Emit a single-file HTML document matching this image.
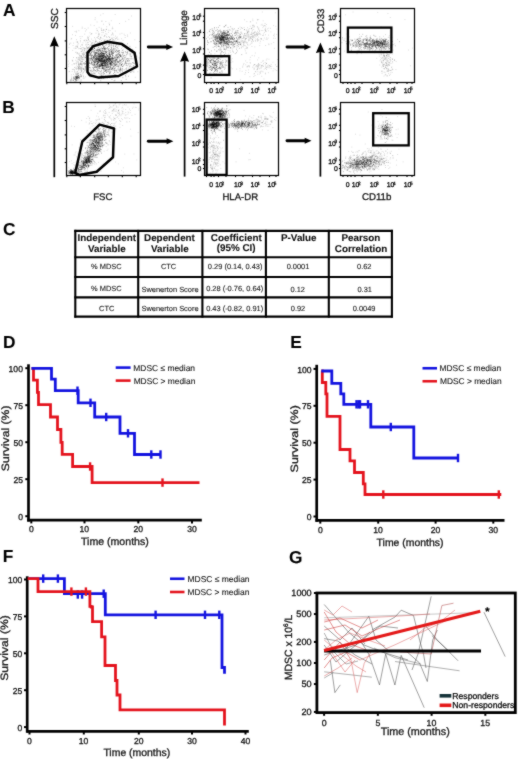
<!DOCTYPE html>
<html><head><meta charset="utf-8"><style>
html,body{margin:0;padding:0;background:#fff;overflow:hidden;}
svg{display:block;}
text{font-family:"Liberation Sans", sans-serif;text-rendering:geometricPrecision;stroke:#111;stroke-width:0.3px;}
</style></head><body>
<svg width="520" height="759" viewBox="0 0 520 759">
<defs><filter id="gb" filterUnits="userSpaceOnUse" x="0" y="0" width="520" height="759" color-interpolation-filters="sRGB"><feConvolveMatrix order="3" kernelMatrix="1 2 1 2 20 2 1 2 1" divisor="32" edgeMode="duplicate"/></filter>
<filter id="bl" color-interpolation-filters="sRGB"><feConvolveMatrix order="3" kernelMatrix="1 2 1 2 4 2 1 2 1" divisor="16" edgeMode="none"/></filter></defs>
<g filter="url(#gb)">
<rect width="520" height="759" fill="#fff"/>
<text x="2.88" y="16" font-size="17.30" font-weight="bold" fill="#000" style="stroke-width:0.1px">A</text>
<text x="2.19" y="113" font-size="17.30" font-weight="bold" fill="#000" style="stroke-width:0.1px">B</text>
<text x="3.11" y="234.5" font-size="17.30" font-weight="bold" fill="#000" style="stroke-width:0.1px">C</text>
<text x="3.09" y="347.9" font-size="17.30" font-weight="bold" fill="#000" style="stroke-width:0.1px">D</text>
<text x="290.34" y="348.2" font-size="17.30" font-weight="bold" fill="#000" style="stroke-width:0.1px">E</text>
<text x="2.84" y="562" font-size="17.30" font-weight="bold" fill="#000" style="stroke-width:0.1px">F</text>
<text x="289.11" y="562.5" font-size="17.30" font-weight="bold" fill="#000" style="stroke-width:0.1px">G</text>
<g>
<path d="M80.6 76.2h0.9M116.1 55.3h0.9M102.5 51.0h0.9M103.8 55.6h0.9M111.6 62.7h0.9M104.3 35.9h0.9M104.3 61.5h0.9M106.5 67.0h0.9M115.8 55.9h0.9M101.0 70.3h0.9M101.0 61.0h0.9M102.6 57.9h0.9M102.0 54.4h0.9M106.3 65.3h0.9M101.5 58.9h0.9M100.6 64.4h0.9M117.8 54.0h0.9M105.0 65.5h0.9M94.7 62.3h0.9M89.2 62.0h0.9M101.2 58.6h0.9M95.6 67.4h0.9M101.8 60.2h0.9M104.9 57.1h0.9M98.3 66.3h0.9M106.6 63.9h0.9M106.1 72.1h0.9M100.1 60.7h0.9M106.6 71.6h0.9M96.2 69.9h0.9M100.6 58.2h0.9M115.1 59.0h0.9M107.6 64.9h0.9M116.8 61.8h0.9M94.4 55.7h0.9M114.1 61.3h0.9M106.1 63.5h0.9M91.1 60.0h0.9M116.3 47.4h0.9M102.2 55.8h0.9M109.4 73.1h0.9M126.3 67.9h0.9M100.6 71.9h0.9M119.2 52.8h0.9M76.4 80.5h0.9M111.1 54.5h0.9M110.6 63.2h0.9M106.5 60.8h0.9M98.0 58.9h0.9M114.1 74.6h0.9M116.1 63.9h0.9M112.0 61.1h0.9M100.2 58.1h0.9M119.9 56.4h0.9M113.5 60.7h0.9M105.3 66.0h0.9M122.4 61.6h0.9M100.2 48.6h0.9M104.6 59.7h0.9M98.5 58.9h0.9M99.1 66.8h0.9M87.9 64.1h0.9M92.5 55.7h0.9M126.0 59.1h0.9M115.1 60.9h0.9M118.9 50.8h0.9M111.6 49.8h0.9M114.7 64.2h0.9M101.7 68.0h0.9M107.2 70.0h0.9M97.6 67.8h0.9M102.3 68.4h0.9M97.6 66.1h0.9M116.6 64.4h0.9M96.2 71.7h0.9M90.3 70.2h0.9M107.8 67.6h0.9M110.6 58.0h0.9M79.5 76.6h0.9M103.4 62.6h0.9M117.3 66.4h0.9M102.3 60.8h0.9M89.4 63.5h0.9M129.8 58.8h0.9M101.2 63.9h0.9M104.1 55.6h0.9M97.6 61.5h0.9M110.6 65.2h0.9M104.8 66.4h0.9M91.3 63.1h0.9M109.6 63.1h0.9M116.3 58.7h0.9M90.7 56.2h0.9M105.9 48.6h0.9M103.0 60.1h0.9M125.8 63.3h0.9M109.4 56.1h0.9M109.1 71.2h0.9M136.2 56.2h0.9M121.5 64.6h0.9M119.0 55.3h0.9M100.4 68.5h0.9M100.0 60.5h0.9M97.4 64.0h0.9M93.3 58.1h0.9M102.4 61.3h0.9M78.2 76.1h0.9M105.9 54.5h0.9M98.7 54.1h0.9M113.2 58.9h0.9M110.7 61.5h0.9M114.7 63.0h0.9M102.0 56.1h0.9M113.6 50.5h0.9M101.5 66.1h0.9M129.6 55.9h0.9M129.0 66.6h0.9M128.0 76.2h0.9M98.4 56.4h0.9M102.7 55.0h0.9M114.0 58.7h0.9M109.6 65.0h0.9M99.7 54.4h0.9M103.8 61.7h0.9M102.9 53.4h0.9M108.5 48.5h0.9M98.9 58.6h0.9M93.4 65.6h0.9M100.4 54.6h0.9M110.8 54.0h0.9M99.9 53.3h0.9M87.3 63.0h0.9M97.5 49.6h0.9M118.3 65.2h0.9M104.4 70.0h0.9M107.7 67.2h0.9M109.8 60.5h0.9M101.6 59.6h0.9M132.1 49.7h0.9M108.4 61.1h0.9M110.8 64.6h0.9M129.5 46.3h0.9M111.7 53.0h0.9M96.1 62.2h0.9M103.9 60.1h0.9M97.9 62.3h0.9M105.3 61.6h0.9M103.9 61.0h0.9M95.7 59.3h0.9M99.7 57.5h0.9M115.3 50.9h0.9M106.2 67.6h0.9M123.0 56.2h0.9M109.0 58.6h0.9M95.3 45.7h0.9M118.3 56.4h0.9M112.3 53.1h0.9M106.9 64.4h0.9M106.9 56.0h0.9M109.7 58.6h0.9M93.2 70.6h0.9M117.0 51.1h0.9M115.3 65.6h0.9M120.4 56.4h0.9M77.2 77.7h0.9M101.9 45.4h0.9M103.5 61.8h0.9M108.8 55.1h0.9M114.3 64.3h0.9M122.1 68.5h0.9M103.2 78.4h0.9M76.8 46.4h0.9M119.8 55.4h0.9M116.1 59.9h0.9M89.6 73.5h0.9M130.4 66.5h0.9M95.6 56.5h0.9M102.1 67.2h0.9M103.4 66.1h0.9M112.4 58.3h0.9M109.0 52.7h0.9M89.3 48.0h0.9M99.1 66.4h0.9M102.0 62.5h0.9M101.7 57.0h0.9M102.8 62.1h0.9M133.4 62.8h0.9M106.2 57.7h0.9M97.6 58.4h0.9M125.4 76.8h0.9M93.9 73.6h0.9M99.4 56.9h0.9M95.6 50.3h0.9M99.5 53.7h0.9M93.9 47.6h0.9M116.5 56.8h0.9M116.1 50.4h0.9M99.0 55.8h0.9M93.8 61.7h0.9M131.6 67.2h0.9M91.4 73.8h0.9M80.0 74.9h0.9M96.0 64.5h0.9M103.9 59.6h0.9M95.7 59.6h0.9M110.6 65.4h0.9M106.3 52.3h0.9M100.7 61.2h0.9M105.5 61.5h0.9M108.2 60.9h0.9M115.2 60.9h0.9M116.3 52.6h0.9M109.6 67.2h0.9M105.0 71.3h0.9M98.5 60.5h0.9M103.0 61.4h0.9M100.3 59.9h0.9M110.9 65.0h0.9M110.0 62.9h0.9M102.5 56.6h0.9M91.0 52.4h0.9M91.5 51.1h0.9M122.2 52.5h0.9M93.8 61.9h0.9M110.2 39.6h0.9M103.3 57.2h0.9M121.0 59.9h0.9M102.8 55.3h0.9M125.7 65.2h0.9M117.2 57.4h0.9M101.0 56.7h0.9M122.0 71.9h0.9M107.9 71.2h0.9M97.4 59.7h0.9M104.7 49.9h0.9M80.4 64.1h0.9M94.3 53.3h0.9M99.5 73.4h0.9M93.7 59.7h0.9M118.4 51.1h0.9M105.3 63.6h0.9M98.0 53.7h0.9M114.6 62.2h0.9M99.6 53.4h0.9M92.6 61.0h0.9M95.4 52.7h0.9M98.3 54.7h0.9M105.8 58.8h0.9M119.2 60.3h0.9M77.5 76.9h0.9M98.1 60.6h0.9M112.4 61.3h0.9M100.7 55.4h0.9M115.2 64.8h0.9M121.9 58.6h0.9M78.1 77.4h0.9M74.4 79.3h0.9M95.4 41.3h0.9M98.1 56.4h0.9M103.6 65.7h0.9M107.3 59.8h0.9M98.8 56.2h0.9M101.7 76.9h0.9M112.0 54.6h0.9M109.8 64.5h0.9M76.1 80.8h0.9M111.8 64.5h0.9M97.8 70.6h0.9M124.9 51.5h0.9M81.5 57.4h0.9M108.9 54.4h0.9M93.1 60.7h0.9M105.6 57.7h0.9M101.0 58.8h0.9M96.1 66.8h0.9M139.3 64.7h0.9M104.6 60.0h0.9M115.8 66.5h0.9M101.8 64.4h0.9M101.8 53.1h0.9M120.2 72.0h0.9M95.7 59.0h0.9M87.0 65.9h0.9M101.4 75.0h0.9M100.9 59.9h0.9M109.4 56.5h0.9M105.3 70.6h0.9M75.2 81.2h0.9M105.1 70.5h0.9M92.5 64.9h0.9M105.2 69.3h0.9M109.2 63.7h0.9M118.2 66.4h0.9M108.6 60.8h0.9M132.3 71.0h0.9M94.9 53.9h0.9M125.3 62.5h0.9M102.5 51.1h0.9M101.8 61.3h0.9M96.0 55.7h0.9M103.6 60.8h0.9M112.0 53.0h0.9M106.1 72.6h0.9M104.3 48.6h0.9M103.4 65.5h0.9M104.4 63.7h0.9M100.7 63.1h0.9M102.5 59.2h0.9M126.7 58.9h0.9M105.2 56.8h0.9" stroke="#000" stroke-width="0.9" stroke-opacity="0.33" fill="none"/>
<path d="M94.8 59.1h0.9M108.1 58.5h0.9M101.6 60.6h0.9M75.2 79.2h0.9M101.7 60.3h0.9M117.9 62.6h0.9M102.5 44.0h0.9M89.3 55.2h0.9M100.0 56.4h0.9M109.9 67.5h0.9M95.5 64.7h0.9M108.4 56.8h0.9M101.4 62.6h0.9M112.4 55.5h0.9M81.0 76.2h0.9M104.3 63.1h0.9M105.1 59.3h0.9M102.8 55.2h0.9M112.2 57.4h0.9M91.3 49.7h0.9M109.1 52.2h0.9M108.9 57.5h0.9M115.2 57.6h0.9M109.9 64.1h0.9M98.6 58.9h0.9M104.9 48.8h0.9M114.2 68.1h0.9M91.0 56.8h0.9M127.4 65.8h0.9M130.6 51.9h0.9M97.8 59.4h0.9M103.4 57.2h0.9M103.5 55.1h0.9M107.2 64.2h0.9M104.5 58.9h0.9M95.6 61.5h0.9M118.6 57.6h0.9M98.9 50.3h0.9M106.8 68.1h0.9M99.1 68.3h0.9M103.4 53.7h0.9M97.2 58.9h0.9M95.5 53.1h0.9M100.1 50.5h0.9M123.4 55.7h0.9M107.5 69.6h0.9M133.2 65.6h0.9M95.0 58.6h0.9M80.9 56.7h0.9M89.0 59.0h0.9M101.8 68.3h0.9M97.2 50.1h0.9M97.3 60.6h0.9M101.2 59.4h0.9M94.1 48.6h0.9M110.7 59.8h0.9M99.1 54.8h0.9M108.9 69.0h0.9M112.3 57.6h0.9M102.3 56.3h0.9M116.7 55.9h0.9M97.6 70.8h0.9M104.6 61.7h0.9M92.6 49.3h0.9M104.3 62.9h0.9M100.2 56.4h0.9M109.1 45.0h0.9M107.0 58.9h0.9M125.0 61.7h0.9M111.0 47.7h0.9M105.8 61.6h0.9M107.8 67.1h0.9M99.2 59.3h0.9M108.3 61.5h0.9M107.0 62.6h0.9M103.2 57.7h0.9M109.6 64.8h0.9M102.7 48.3h0.9M100.7 47.2h0.9M85.6 55.5h0.9M112.2 55.1h0.9M89.6 53.6h0.9M110.1 58.3h0.9M125.5 61.0h0.9M98.8 65.3h0.9M74.5 78.3h0.9M130.3 53.9h0.9M128.8 53.9h0.9M99.0 68.3h0.9M82.8 55.9h0.9M101.3 61.2h0.9M105.9 67.6h0.9M115.2 62.9h0.9M106.2 61.1h0.9M100.1 55.2h0.9M89.8 58.4h0.9M109.7 59.5h0.9M102.5 48.6h0.9M100.1 56.2h0.9M104.5 63.2h0.9M112.0 55.7h0.9M100.6 58.2h0.9M108.3 58.3h0.9M107.2 60.4h0.9M121.1 52.3h0.9M133.9 63.4h0.9M112.3 58.6h0.9M119.9 56.7h0.9M110.7 68.8h0.9M111.5 79.5h0.9M105.0 57.1h0.9M99.0 60.5h0.9M110.3 57.1h0.9M100.9 65.0h0.9M101.6 55.8h0.9M80.9 67.9h0.9M102.1 44.9h0.9M102.6 61.8h0.9M102.6 58.1h0.9M101.9 65.2h0.9M96.6 66.6h0.9M100.9 75.3h0.9M114.6 58.1h0.9M73.5 78.1h0.9M78.2 77.2h0.9M115.1 46.2h0.9M99.0 64.6h0.9M93.6 62.1h0.9M101.7 58.3h0.9M105.2 65.6h0.9M103.4 59.9h0.9M91.9 60.2h0.9M119.3 54.8h0.9M97.2 59.0h0.9M101.7 65.9h0.9M120.8 80.7h0.9M108.1 58.6h0.9M112.6 55.9h0.9M97.4 64.6h0.9M109.2 66.8h0.9M104.5 48.2h0.9M112.6 67.3h0.9M106.7 65.8h0.9M99.0 60.3h0.9M92.0 59.6h0.9M108.8 57.3h0.9M99.0 59.2h0.9M94.1 51.3h0.9M121.4 61.9h0.9M99.0 66.0h0.9M127.3 60.9h0.9M92.5 59.5h0.9M107.9 59.7h0.9M103.2 55.8h0.9M122.6 49.9h0.9M85.6 52.3h0.9M102.2 65.0h0.9M93.3 64.0h0.9M117.7 53.3h0.9M113.1 66.4h0.9M97.1 63.5h0.9M101.4 54.5h0.9M118.3 62.6h0.9M103.7 63.9h0.9M96.3 63.7h0.9M115.2 51.9h0.9M104.6 65.8h0.9M103.2 64.9h0.9M106.1 60.6h0.9M104.5 58.4h0.9M119.9 68.6h0.9M110.0 64.5h0.9M95.3 60.1h0.9M116.6 72.1h0.9M110.1 60.3h0.9M93.5 67.3h0.9M105.8 66.6h0.9M101.9 58.8h0.9M96.7 61.5h0.9M75.3 77.3h0.9M106.2 54.5h0.9M115.3 65.2h0.9M94.4 56.4h0.9M131.0 58.8h0.9M115.9 59.4h0.9M111.4 51.6h0.9M101.7 68.4h0.9M101.6 65.3h0.9M110.1 60.4h0.9M120.0 69.6h0.9M122.6 52.8h0.9M121.8 66.6h0.9M95.2 62.1h0.9M107.8 76.2h0.9M118.8 69.9h0.9M102.0 48.6h0.9M103.2 58.1h0.9M126.8 58.6h0.9M118.3 67.1h0.9M111.5 62.5h0.9M105.4 68.9h0.9M105.0 64.9h0.9M125.6 68.7h0.9M122.3 74.7h0.9M102.9 62.2h0.9M111.7 52.0h0.9M96.0 50.2h0.9M107.4 61.2h0.9M108.8 64.0h0.9M113.4 62.8h0.9M108.6 59.1h0.9M98.0 73.0h0.9M113.6 52.5h0.9M104.8 56.4h0.9M101.6 60.9h0.9M104.0 73.6h0.9M101.8 63.5h0.9M114.0 63.6h0.9M93.9 54.9h0.9M103.5 54.4h0.9M119.6 60.8h0.9M94.8 55.5h0.9M118.5 61.4h0.9M106.9 58.2h0.9M114.2 57.3h0.9M109.2 43.4h0.9M121.0 64.7h0.9M85.1 67.8h0.9M131.2 71.9h0.9M91.0 48.0h0.9M123.0 60.8h0.9M76.0 78.4h0.9M100.1 66.6h0.9M92.4 67.4h0.9M99.3 51.1h0.9M90.5 57.8h0.9M109.7 58.4h0.9M93.2 68.5h0.9M104.4 56.2h0.9M109.2 58.8h0.9M90.7 58.7h0.9M100.4 61.1h0.9M100.3 65.8h0.9M111.6 61.8h0.9M127.3 47.7h0.9M103.3 58.8h0.9M75.4 78.8h0.9M97.7 61.3h0.9M91.3 62.7h0.9M88.9 67.5h0.9M91.8 45.9h0.9M88.1 51.2h0.9M103.5 63.2h0.9M139.4 53.1h0.9M94.8 59.1h0.9M91.3 55.6h0.9M83.1 69.0h0.9M110.8 47.7h0.9M111.4 68.8h0.9M103.8 54.0h0.9M98.6 42.6h0.9M116.9 57.7h0.9M103.0 63.6h0.9M130.8 64.0h0.9M94.1 67.4h0.9M108.3 66.0h0.9M98.8 56.5h0.9M90.6 50.5h0.9M104.7 62.1h0.9M105.3 64.1h0.9M119.3 63.7h0.9M116.3 59.7h0.9M101.5 60.5h0.9M107.3 56.4h0.9M76.1 57.8h0.9M117.0 47.1h0.9M117.4 62.0h0.9M119.3 71.3h0.9M130.8 56.9h0.9M104.3 63.1h0.9M101.4 58.6h0.9M111.1 53.9h0.9M112.8 58.5h0.9M109.1 57.0h0.9M107.6 71.9h0.9M111.3 58.2h0.9M99.9 59.0h0.9M102.0 57.4h0.9M92.3 48.9h0.9M120.0 56.2h0.9M98.6 64.6h0.9M119.6 54.4h0.9M115.3 55.9h0.9M91.4 47.6h0.9M97.3 59.6h0.9M129.6 65.3h0.9M93.8 50.6h0.9M120.7 69.1h0.9M102.6 55.6h0.9M96.0 67.7h0.9M105.1 42.7h0.9M107.8 64.7h0.9M103.1 47.2h0.9M127.0 60.8h0.9M104.4 62.4h0.9M104.3 60.7h0.9M108.5 57.7h0.9M102.6 65.9h0.9M108.1 57.1h0.9M115.8 70.8h0.9" stroke="#000" stroke-width="0.9" stroke-opacity="0.33" fill="none"/>
<path d="M85.6 57.1h0.9M110.9 50.7h0.9M113.1 73.7h0.9M99.0 55.9h0.9M104.2 53.7h0.9M103.1 53.7h0.9M101.9 53.8h0.9M96.3 58.5h0.9M123.7 69.8h0.9M96.6 59.1h0.9M115.3 49.0h0.9M135.4 62.4h0.9M103.4 53.8h0.9M110.2 63.4h0.9M115.9 64.6h0.9M109.0 69.1h0.9M103.9 60.6h0.9M100.1 61.3h0.9M110.7 52.7h0.9M101.6 64.3h0.9M100.1 53.4h0.9M125.2 75.5h0.9M81.6 44.7h0.9M113.1 46.6h0.9M106.9 59.9h0.9M116.6 57.6h0.9M129.8 54.2h0.9M100.7 62.2h0.9M104.3 64.2h0.9M107.3 55.9h0.9M91.0 50.0h0.9M109.6 59.3h0.9M112.0 76.2h0.9M99.7 74.8h0.9M127.0 52.1h0.9M85.3 66.6h0.9M77.3 78.9h0.9M109.3 60.3h0.9M100.4 60.1h0.9M119.5 70.6h0.9M94.1 64.1h0.9M100.7 53.3h0.9M94.9 56.8h0.9M105.4 55.9h0.9M106.2 54.7h0.9M103.3 57.5h0.9M112.6 45.3h0.9M94.0 55.2h0.9M91.6 55.0h0.9M97.3 55.9h0.9M88.8 51.2h0.9M98.6 55.0h0.9M99.3 70.8h0.9M96.6 58.1h0.9M104.6 64.8h0.9M105.0 76.0h0.9M100.9 52.9h0.9M109.6 69.9h0.9M103.7 56.9h0.9M97.1 62.9h0.9M99.6 57.4h0.9M99.9 60.4h0.9M92.1 57.9h0.9M108.0 58.3h0.9M102.1 65.6h0.9M95.2 42.0h0.9M111.4 62.8h0.9M110.2 60.9h0.9M96.4 53.0h0.9M94.7 73.2h0.9M112.7 49.7h0.9M114.9 46.3h0.9M96.0 56.1h0.9M91.1 57.9h0.9M101.0 48.3h0.9M96.1 52.9h0.9M97.6 58.0h0.9M115.0 60.8h0.9M114.4 65.0h0.9M99.5 65.9h0.9M99.1 58.3h0.9M107.0 48.2h0.9M102.6 72.9h0.9M127.4 71.6h0.9M112.2 62.5h0.9M103.0 42.6h0.9M84.8 57.5h0.9M110.8 62.0h0.9M91.9 71.3h0.9M103.7 56.5h0.9M117.5 66.2h0.9M103.8 71.4h0.9M101.1 58.7h0.9M127.0 43.8h0.9M101.8 58.3h0.9M83.5 54.9h0.9M96.1 57.4h0.9M100.6 57.8h0.9M91.0 62.0h0.9M97.7 52.1h0.9M79.6 64.5h0.9M107.2 63.1h0.9M104.2 56.0h0.9M107.8 63.3h0.9M103.3 60.7h0.9M109.3 77.9h0.9M101.1 42.5h0.9M130.0 72.4h0.9M95.8 59.5h0.9M97.3 66.3h0.9M129.2 51.5h0.9M87.7 55.7h0.9M95.2 63.0h0.9M108.7 60.3h0.9M94.4 54.8h0.9M121.6 55.9h0.9M99.2 66.3h0.9M113.9 49.1h0.9M114.3 65.2h0.9M97.0 60.3h0.9M112.1 53.1h0.9M110.9 63.8h0.9M100.9 52.6h0.9M105.0 60.4h0.9M100.1 65.2h0.9M104.3 61.7h0.9M105.6 52.8h0.9M100.5 59.1h0.9M120.7 62.9h0.9M130.6 56.1h0.9M97.5 59.0h0.9M101.9 61.1h0.9M104.0 69.1h0.9M90.7 77.0h0.9M110.3 63.3h0.9M109.1 59.2h0.9M125.2 73.5h0.9M99.6 59.3h0.9M93.0 65.0h0.9M124.9 61.0h0.9M107.4 58.0h0.9M101.6 61.4h0.9M103.8 68.1h0.9M109.5 59.2h0.9M124.5 57.2h0.9M131.9 52.9h0.9M95.5 56.1h0.9M106.8 59.4h0.9M107.9 44.0h0.9M111.9 59.6h0.9M109.6 55.9h0.9M114.7 61.0h0.9M78.4 77.1h0.9M102.2 75.7h0.9M94.7 60.1h0.9M99.1 54.6h0.9M103.5 53.6h0.9M103.8 54.3h0.9M102.5 59.3h0.9M98.1 58.0h0.9M93.0 69.6h0.9M104.7 51.6h0.9M94.8 66.7h0.9M100.5 61.7h0.9M91.3 47.7h0.9M95.9 58.1h0.9M109.7 66.5h0.9M112.3 58.8h0.9M125.7 69.3h0.9M100.6 77.4h0.9M113.0 53.3h0.9M103.5 61.1h0.9M97.0 63.5h0.9M105.0 62.6h0.9M100.3 64.4h0.9M106.3 62.4h0.9M95.7 50.2h0.9M106.8 59.4h0.9M108.4 55.4h0.9M102.7 56.4h0.9M106.0 59.6h0.9M102.5 63.9h0.9M98.1 49.5h0.9M95.4 52.5h0.9M101.9 53.7h0.9M116.7 60.0h0.9M104.0 65.1h0.9M103.6 66.7h0.9M119.6 55.2h0.9M114.5 57.7h0.9M124.4 63.5h0.9M119.8 70.5h0.9M80.8 51.4h0.9M112.3 67.3h0.9M87.7 55.5h0.9M109.3 62.3h0.9M112.2 65.6h0.9M117.2 61.8h0.9M117.7 51.7h0.9M106.9 53.8h0.9M106.3 61.9h0.9M113.1 48.2h0.9M112.1 58.4h0.9M109.4 63.1h0.9M75.5 52.3h0.9M110.6 52.2h0.9M96.3 51.1h0.9M107.3 59.4h0.9M120.3 60.8h0.9M104.3 60.6h0.9M92.9 52.1h0.9M107.3 67.3h0.9M98.7 67.5h0.9M105.2 63.0h0.9M118.5 46.0h0.9M105.6 53.0h0.9M104.2 48.9h0.9M100.8 64.5h0.9M97.5 50.9h0.9M106.1 58.4h0.9M107.6 58.6h0.9M107.1 55.7h0.9M94.0 69.7h0.9M111.1 49.0h0.9M100.2 58.9h0.9M99.7 55.3h0.9M108.1 69.5h0.9M76.1 78.0h0.9M94.2 48.3h0.9M109.4 61.4h0.9M126.0 54.7h0.9M76.6 78.6h0.9M91.0 45.4h0.9M103.7 61.4h0.9M111.1 45.0h0.9M113.6 65.2h0.9M100.2 60.0h0.9M117.6 68.4h0.9M88.8 63.2h0.9M122.2 58.0h0.9M97.7 63.4h0.9M115.4 59.3h0.9M105.4 62.7h0.9M76.4 77.1h0.9M117.6 72.5h0.9M98.4 60.8h0.9M121.8 50.6h0.9M103.0 61.3h0.9M121.5 57.2h0.9M94.0 63.1h0.9M111.5 59.0h0.9M111.7 69.2h0.9M115.3 74.6h0.9M109.7 54.7h0.9M115.8 54.4h0.9M112.5 68.6h0.9M98.1 59.0h0.9M76.2 77.3h0.9M102.4 62.1h0.9M101.1 55.3h0.9M100.5 58.2h0.9M102.8 56.2h0.9M101.9 65.4h0.9M108.0 66.7h0.9M108.5 53.5h0.9M106.0 59.0h0.9M118.4 61.5h0.9M93.0 75.7h0.9M103.3 47.9h0.9M98.8 60.9h0.9M93.8 52.5h0.9M98.1 59.5h0.9M85.9 40.3h0.9M97.9 47.5h0.9M107.4 66.0h0.9M111.0 48.9h0.9M125.4 55.9h0.9M108.7 54.4h0.9M94.0 62.1h0.9M101.7 55.6h0.9M105.0 64.5h0.9M90.2 53.4h0.9M107.3 66.1h0.9M112.0 62.7h0.9M110.2 66.8h0.9M107.3 56.6h0.9M103.0 70.0h0.9M97.9 54.3h0.9M104.5 71.4h0.9M103.1 52.8h0.9M102.0 68.6h0.9M136.3 65.7h0.9M92.0 62.2h0.9M112.1 68.5h0.9M102.9 51.5h0.9M128.5 58.7h0.9M105.4 60.6h0.9M112.7 60.1h0.9M103.3 63.6h0.9M105.8 60.1h0.9M79.0 78.1h0.9M76.3 78.1h0.9M106.2 51.4h0.9M94.1 62.6h0.9M96.6 57.5h0.9M104.8 41.3h0.9M105.3 60.6h0.9M99.1 50.0h0.9M102.7 68.8h0.9M110.3 59.8h0.9" stroke="#000" stroke-width="0.9" stroke-opacity="0.33" fill="none"/>
<path d="M109.3 50.8h0.9M102.2 63.5h0.9M120.5 65.0h0.9M91.0 58.3h0.9M78.0 75.3h0.9M99.7 71.7h0.9M88.7 55.2h0.9M108.2 58.2h0.9M99.2 60.4h0.9M96.7 63.5h0.9M103.6 62.4h0.9M110.7 61.9h0.9M101.2 60.1h0.9M127.1 53.9h0.9M99.8 62.2h0.9M99.8 63.4h0.9M99.6 56.0h0.9M109.4 54.9h0.9M128.1 64.0h0.9M101.9 65.4h0.9M75.8 79.1h0.9M88.2 64.1h0.9M105.9 70.0h0.9M98.2 59.7h0.9M124.6 59.1h0.9M103.8 60.1h0.9M96.4 53.3h0.9M106.9 47.6h0.9M92.7 51.6h0.9M124.1 55.4h0.9M99.8 61.9h0.9M104.3 49.6h0.9M97.1 61.5h0.9M111.7 63.2h0.9M114.5 80.2h0.9M110.2 65.1h0.9M96.7 65.2h0.9M100.3 80.8h0.9M99.8 56.7h0.9M102.5 67.7h0.9M125.7 79.3h0.9M110.0 72.1h0.9M128.8 60.5h0.9M89.8 70.7h0.9M99.5 63.0h0.9M126.7 52.1h0.9M108.5 57.4h0.9M100.8 56.8h0.9M110.4 62.3h0.9M99.3 66.3h0.9M93.9 64.7h0.9M100.5 56.5h0.9M96.8 61.5h0.9M108.8 60.1h0.9M94.4 54.9h0.9M101.5 56.5h0.9M121.3 65.1h0.9M104.5 56.2h0.9M119.8 62.0h0.9M100.7 64.8h0.9M97.1 58.2h0.9M98.2 60.2h0.9M103.9 63.9h0.9M97.8 62.4h0.9M91.0 62.1h0.9M94.6 56.2h0.9M102.3 63.5h0.9M100.8 65.2h0.9M102.7 57.6h0.9M104.2 46.8h0.9M106.8 61.0h0.9M105.5 51.9h0.9M111.6 61.1h0.9M85.2 63.9h0.9M102.0 63.9h0.9M104.7 49.3h0.9M96.5 58.9h0.9M105.9 70.1h0.9M72.5 80.3h0.9M75.0 80.3h0.9M109.8 56.4h0.9M93.9 65.7h0.9M71.1 79.9h0.9M93.6 57.6h0.9M96.9 49.3h0.9M98.8 57.7h0.9M89.8 60.6h0.9M103.2 74.9h0.9M122.4 77.7h0.9M99.2 62.3h0.9M101.7 65.4h0.9M98.2 62.8h0.9M120.4 55.6h0.9M111.1 53.0h0.9M104.1 48.1h0.9M103.3 57.3h0.9M77.4 77.5h0.9M95.3 65.3h0.9M116.0 60.7h0.9M79.0 77.9h0.9M85.1 61.5h0.9M110.8 46.2h0.9M101.7 67.4h0.9M105.8 57.5h0.9M106.3 56.0h0.9M132.7 63.3h0.9M107.5 60.8h0.9M101.2 53.6h0.9M101.7 66.0h0.9M106.2 65.8h0.9M112.1 68.7h0.9M114.9 62.1h0.9M109.2 54.0h0.9M104.5 66.0h0.9M123.4 58.9h0.9M98.1 54.0h0.9M93.0 56.3h0.9M102.8 73.2h0.9M102.2 58.2h0.9M97.8 55.8h0.9M133.4 66.6h0.9M112.5 39.9h0.9M102.7 49.0h0.9M105.7 62.0h0.9M117.8 58.0h0.9M108.6 62.7h0.9M95.7 61.1h0.9M104.4 56.7h0.9M115.8 70.0h0.9M102.9 68.1h0.9M106.8 62.0h0.9M99.8 59.6h0.9M98.1 61.7h0.9M94.1 48.2h0.9M104.6 52.1h0.9M123.1 52.2h0.9M100.1 51.4h0.9M116.9 62.9h0.9M119.8 60.1h0.9M101.8 65.4h0.9M97.7 53.1h0.9M101.2 51.0h0.9M113.6 62.1h0.9M92.2 64.1h0.9M98.7 58.5h0.9M109.4 54.0h0.9M107.0 55.4h0.9M78.6 77.7h0.9M90.4 45.0h0.9M103.6 61.0h0.9M89.2 63.1h0.9M109.4 58.8h0.9M102.2 63.4h0.9M111.4 58.4h0.9M94.0 64.2h0.9M116.3 44.4h0.9M93.3 56.5h0.9M96.4 65.0h0.9M107.9 64.9h0.9M99.1 49.9h0.9M106.4 58.8h0.9M109.4 73.1h0.9M101.4 54.9h0.9M110.0 55.7h0.9M112.5 50.9h0.9M123.2 65.3h0.9M110.1 68.8h0.9M114.9 67.9h0.9M123.7 57.8h0.9M91.3 70.2h0.9M109.5 63.4h0.9M90.9 58.7h0.9M77.0 78.5h0.9M109.7 51.3h0.9M109.8 63.4h0.9M101.8 59.0h0.9M111.7 50.5h0.9M104.4 60.4h0.9M99.0 64.5h0.9M99.6 56.8h0.9M104.1 61.2h0.9M99.0 56.6h0.9M107.6 62.0h0.9M90.7 55.7h0.9M126.7 61.1h0.9M103.6 60.2h0.9M101.6 64.6h0.9M115.9 62.0h0.9M120.3 69.1h0.9M113.0 63.4h0.9M100.1 51.9h0.9M104.4 60.8h0.9M111.0 61.0h0.9M110.9 69.2h0.9M87.7 47.8h0.9M108.3 60.8h0.9M88.8 60.9h0.9M98.0 55.4h0.9M93.8 64.9h0.9M109.7 63.3h0.9M107.2 58.2h0.9M101.3 53.0h0.9M90.3 59.8h0.9M100.1 37.3h0.9M98.8 61.1h0.9M106.1 59.8h0.9M97.8 62.5h0.9M105.0 58.0h0.9M106.9 64.2h0.9M114.2 68.5h0.9M116.7 54.5h0.9M106.5 59.3h0.9M82.1 54.1h0.9M107.1 62.5h0.9M98.4 61.9h0.9M118.8 50.5h0.9M90.2 54.4h0.9M97.2 50.6h0.9M120.2 74.1h0.9M118.5 61.6h0.9M106.1 61.5h0.9M117.9 69.9h0.9M108.7 59.2h0.9M101.2 58.2h0.9M94.4 60.1h0.9M103.9 65.1h0.9M107.0 59.9h0.9M96.4 58.1h0.9M118.8 64.3h0.9M122.1 74.5h0.9M104.7 67.7h0.9M132.4 58.8h0.9M101.5 51.6h0.9M101.6 62.5h0.9M121.5 70.5h0.9M126.7 52.9h0.9M107.5 58.8h0.9M98.0 53.9h0.9M119.0 59.0h0.9M96.0 60.0h0.9M101.0 60.7h0.9M101.0 63.9h0.9M100.3 54.0h0.9M110.7 61.8h0.9M97.0 69.5h0.9M76.2 76.3h0.9M93.3 57.3h0.9M95.4 66.9h0.9M87.4 48.0h0.9M128.5 68.1h0.9M93.0 58.5h0.9M98.3 66.7h0.9M101.0 56.1h0.9M113.6 48.8h0.9M96.5 64.5h0.9M97.5 52.4h0.9M112.5 59.4h0.9M97.3 54.2h0.9M99.4 59.7h0.9M116.5 59.6h0.9M108.9 73.7h0.9M87.3 58.2h0.9M98.6 56.7h0.9M78.1 78.2h0.9M96.1 52.7h0.9M98.0 51.5h0.9M120.3 55.1h0.9M101.5 61.4h0.9M104.0 66.1h0.9M101.7 66.2h0.9M102.2 65.6h0.9M122.2 54.6h0.9M94.2 66.9h0.9M97.1 55.9h0.9M70.4 80.2h0.9M95.6 55.7h0.9M90.3 55.7h0.9M112.6 58.2h0.9M76.0 79.0h0.9M114.9 59.9h0.9M114.0 71.8h0.9M101.4 63.8h0.9M119.7 63.5h0.9M75.8 77.4h0.9M73.8 77.9h0.9M117.9 56.7h0.9M111.1 60.3h0.9M105.7 64.7h0.9M117.0 61.2h0.9M97.5 62.8h0.9M129.7 63.7h0.9M103.1 46.0h0.9M113.4 60.8h0.9M126.6 72.5h0.9M102.7 61.4h0.9M103.8 48.6h0.9M121.1 65.1h0.9M126.6 63.5h0.9M114.1 70.4h0.9M93.1 61.4h0.9M99.6 55.7h0.9M95.6 60.5h0.9M95.2 54.0h0.9M111.9 60.2h0.9M94.0 60.8h0.9M73.0 77.2h0.9M110.7 59.1h0.9M88.6 62.7h0.9M105.7 59.9h0.9" stroke="#000" stroke-width="0.9" stroke-opacity="0.33" fill="none"/>
<path d="M93.0 57.2h0.9M107.6 59.6h0.9M115.7 70.8h0.9M111.4 65.0h0.9M83.0 76.8h0.9M104.9 53.7h0.9M104.4 68.1h0.9M113.3 63.7h0.9M102.1 61.6h0.9M103.2 57.5h0.9M91.9 55.2h0.9M100.7 75.5h0.9M101.2 78.2h0.9M108.2 57.0h0.9M77.0 76.2h0.9M103.0 68.9h0.9M104.5 53.8h0.9M90.0 58.9h0.9M102.2 53.4h0.9M115.2 55.1h0.9M114.1 66.3h0.9M102.7 66.1h0.9M95.4 58.6h0.9M118.9 52.3h0.9M108.1 50.7h0.9M94.8 54.4h0.9M104.2 51.3h0.9M88.6 58.1h0.9M99.0 60.2h0.9M105.5 67.1h0.9M125.6 73.8h0.9M108.2 46.6h0.9M101.8 64.3h0.9M91.6 59.0h0.9M106.4 69.8h0.9M110.2 63.3h0.9M106.3 57.6h0.9M76.7 76.9h0.9M92.1 49.7h0.9M95.0 67.3h0.9M120.8 64.5h0.9M101.0 52.4h0.9M95.2 54.9h0.9M107.1 65.0h0.9M96.1 60.0h0.9M91.9 49.6h0.9M107.3 51.6h0.9M100.9 56.1h0.9M90.6 54.8h0.9M88.3 52.9h0.9M105.5 65.2h0.9M101.3 30.4h0.9M99.6 60.7h0.9M110.0 49.5h0.9M97.5 65.1h0.9M100.2 61.5h0.9M100.8 64.3h0.9M97.8 50.8h0.9M113.2 69.1h0.9M99.9 43.3h0.9M112.3 53.8h0.9M101.6 63.0h0.9M114.1 60.3h0.9M103.3 67.8h0.9M102.9 65.6h0.9M98.5 57.7h0.9M96.7 53.7h0.9M100.6 61.4h0.9M95.6 57.2h0.9M108.9 59.8h0.9M111.3 69.6h0.9M103.8 64.8h0.9M99.6 45.7h0.9M96.4 59.7h0.9M98.9 61.2h0.9M133.4 72.0h0.9M96.9 68.7h0.9M95.5 61.4h0.9M109.1 41.1h0.9M105.4 57.2h0.9M100.8 66.1h0.9M114.5 70.5h0.9M93.6 53.2h0.9M106.0 63.5h0.9M106.6 55.8h0.9M101.7 56.5h0.9M122.3 59.2h0.9M104.0 59.3h0.9M105.3 63.1h0.9M103.3 53.6h0.9M109.4 50.9h0.9M108.8 61.6h0.9M110.0 63.7h0.9M101.0 73.3h0.9M98.8 60.2h0.9M117.2 57.9h0.9M88.9 53.0h0.9M102.6 55.1h0.9M100.3 55.5h0.9M119.2 55.0h0.9M69.8 80.0h0.9M111.5 61.4h0.9M108.9 69.1h0.9M114.3 72.5h0.9M101.3 60.0h0.9M125.4 63.4h0.9M73.0 80.6h0.9M101.2 63.6h0.9M134.2 57.6h0.9M83.6 68.2h0.9M108.7 46.3h0.9M107.4 77.4h0.9M114.4 56.8h0.9M120.0 67.3h0.9M99.4 60.6h0.9M114.2 69.3h0.9M113.7 80.8h0.9M111.3 57.1h0.9M103.8 63.0h0.9M91.3 53.0h0.9M118.1 50.7h0.9M112.7 64.7h0.9M101.7 52.4h0.9M88.6 65.7h0.9M94.7 60.8h0.9M102.0 55.5h0.9M98.8 56.7h0.9M95.9 59.1h0.9M119.6 69.5h0.9M101.6 59.3h0.9M139.2 41.5h0.9M106.5 58.8h0.9M109.8 67.1h0.9M128.6 63.7h0.9M97.9 68.7h0.9M105.2 57.2h0.9M95.1 62.2h0.9M93.4 72.1h0.9M92.6 58.2h0.9M99.0 61.2h0.9M111.1 63.8h0.9M90.6 63.8h0.9M76.2 77.7h0.9M94.7 52.7h0.9M119.5 65.7h0.9M97.1 56.0h0.9M75.7 76.5h0.9M121.5 59.2h0.9M108.2 60.1h0.9M93.6 57.2h0.9M109.2 43.1h0.9M95.3 54.1h0.9M101.4 57.4h0.9M97.5 65.7h0.9M122.9 60.2h0.9M103.8 69.8h0.9M119.8 68.9h0.9M93.6 47.0h0.9M103.4 55.1h0.9M97.4 67.5h0.9M108.2 56.8h0.9M106.4 59.6h0.9M105.2 58.9h0.9M106.4 44.7h0.9M124.8 62.8h0.9M108.7 59.5h0.9M116.3 38.1h0.9M77.0 76.1h0.9M97.0 62.8h0.9M98.9 49.1h0.9M106.2 67.2h0.9M100.7 65.5h0.9M99.5 65.7h0.9M105.6 56.4h0.9M104.4 57.6h0.9M103.1 72.2h0.9M101.1 54.5h0.9M100.9 55.2h0.9M111.0 58.5h0.9M133.2 54.7h0.9M100.4 63.5h0.9M108.2 49.3h0.9M77.1 76.9h0.9M105.0 51.8h0.9M101.1 62.0h0.9M128.3 61.0h0.9M94.7 58.3h0.9M96.4 61.6h0.9M102.0 59.2h0.9M102.0 52.9h0.9M122.1 69.8h0.9M105.4 52.0h0.9M96.6 54.0h0.9M93.4 62.0h0.9M111.7 57.9h0.9M118.7 57.3h0.9M110.4 71.4h0.9M108.8 54.0h0.9M94.6 62.2h0.9M112.8 49.0h0.9M99.5 59.1h0.9M117.5 56.3h0.9M122.0 63.6h0.9M101.7 61.5h0.9M90.2 67.9h0.9M92.1 60.3h0.9M102.9 53.4h0.9M103.2 65.6h0.9M111.1 61.6h0.9M75.4 79.2h0.9M118.0 54.8h0.9M116.8 51.2h0.9M89.3 53.0h0.9M99.7 56.9h0.9M101.9 50.4h0.9M110.9 51.3h0.9M108.8 56.2h0.9M126.2 65.1h0.9M103.0 61.0h0.9M113.3 52.0h0.9M100.5 49.9h0.9M109.9 59.2h0.9M116.6 65.1h0.9M99.8 66.7h0.9M94.6 70.5h0.9M70.4 81.2h0.9M132.2 62.5h0.9M121.9 66.6h0.9M99.4 39.3h0.9M99.5 53.2h0.9M94.9 70.9h0.9M103.1 55.5h0.9M109.5 54.5h0.9M113.1 66.8h0.9M104.7 57.9h0.9M98.4 58.8h0.9M107.8 61.0h0.9M104.8 48.2h0.9M96.8 57.0h0.9M106.3 64.3h0.9M93.4 56.4h0.9M127.9 59.1h0.9M100.9 65.2h0.9M134.3 67.2h0.9M103.0 60.1h0.9M98.5 60.0h0.9M94.6 52.0h0.9M108.3 52.7h0.9M109.0 61.5h0.9M106.0 52.8h0.9M113.0 53.3h0.9M123.9 64.6h0.9M108.9 58.7h0.9M101.8 53.5h0.9M102.5 58.5h0.9M77.2 77.8h0.9M107.4 49.2h0.9M98.9 60.6h0.9M116.8 58.0h0.9M103.1 63.0h0.9M99.2 41.8h0.9M105.9 60.8h0.9M111.0 51.4h0.9M99.7 65.5h0.9M101.6 58.1h0.9M103.7 62.7h0.9M112.6 70.3h0.9M118.6 54.0h0.9M107.4 63.4h0.9M100.3 50.2h0.9M106.2 55.9h0.9M101.9 50.0h0.9M90.7 63.9h0.9M98.6 50.1h0.9M100.3 61.9h0.9M101.6 63.8h0.9M75.2 77.0h0.9M97.6 58.0h0.9M105.6 62.3h0.9M94.2 57.9h0.9M98.1 57.0h0.9M99.8 66.1h0.9M109.7 59.2h0.9M102.5 55.7h0.9M97.1 70.8h0.9M112.7 58.4h0.9M99.4 65.0h0.9M115.1 65.0h0.9M104.5 60.1h0.9M72.9 78.7h0.9M109.9 56.3h0.9M111.3 67.3h0.9M119.8 60.4h0.9M109.4 72.7h0.9M109.1 58.8h0.9M105.0 62.4h0.9M98.7 57.6h0.9M83.7 57.0h0.9M94.9 52.9h0.9M125.4 52.7h0.9M112.3 56.5h0.9M93.2 57.3h0.9M102.4 67.7h0.9M105.1 62.9h0.9M117.0 54.9h0.9M112.9 61.2h0.9M91.9 64.9h0.9M76.1 77.0h0.9M108.3 62.4h0.9" stroke="#000" stroke-width="0.9" stroke-opacity="0.33" fill="none"/>
</g>
<g>
<path d="M87.7 28.0h0.9M79.7 67.1h0.9M79.2 53.3h0.9M122.3 46.9h0.9M87.3 63.9h0.9M113.8 51.3h0.9M88.1 39.8h0.9M85.9 59.2h0.9M81.3 71.4h0.9M80.9 66.2h0.9M86.4 62.0h0.9M72.2 60.4h0.9M106.0 42.5h0.9M97.7 36.6h0.9M69.1 44.5h0.9M112.9 39.7h0.9M108.7 53.8h0.9M71.2 38.4h0.9M106.3 26.8h0.9M78.4 30.7h0.9M102.9 46.9h0.9M138.7 57.3h0.9M103.6 36.6h0.9M77.7 73.4h0.9M103.9 43.6h0.9M86.3 71.5h0.9M79.5 63.6h0.9M117.6 77.4h0.9M77.3 53.3h0.9M82.2 59.3h0.9M109.0 24.4h0.9M86.4 51.6h0.9M75.3 68.7h0.9M79.9 40.5h0.9M91.5 51.3h0.9M67.9 64.7h0.9M87.9 37.8h0.9M84.3 70.0h0.9M134.4 39.8h0.9M93.7 25.6h0.9M75.7 46.0h0.9M83.5 63.3h0.9M83.5 49.2h0.9M99.0 52.0h0.9M100.2 44.2h0.9M79.7 60.2h0.9M101.9 42.3h0.9M76.8 74.4h0.9M76.1 74.0h0.9M70.4 43.1h0.9M71.2 76.9h0.9M82.9 75.6h0.9M125.9 46.2h0.9M113.5 37.6h0.9M91.8 43.1h0.9M88.3 50.2h0.9M80.1 46.3h0.9M122.9 66.3h0.9M110.9 35.0h0.9M75.6 72.0h0.9M97.9 36.2h0.9M80.9 71.0h0.9M77.3 47.5h0.9M91.9 57.8h0.9M78.5 67.2h0.9M73.9 81.5h0.9M91.4 33.6h0.9M89.5 32.8h0.9M78.3 68.2h0.9M103.3 30.4h0.9M78.1 64.6h0.9M81.6 61.6h0.9M81.4 65.1h0.9M84.3 66.4h0.9M78.9 69.0h0.9M100.8 37.9h0.9M91.3 62.7h0.9M87.6 37.8h0.9M136.0 68.1h0.9M105.0 31.5h0.9M116.5 51.0h0.9M93.2 50.8h0.9M79.1 66.8h0.9M91.3 43.4h0.9M85.0 76.9h0.9M74.0 71.1h0.9M109.7 45.2h0.9M115.1 51.6h0.9M88.5 69.4h0.9M101.5 32.5h0.9M101.0 58.4h0.9M109.0 50.6h0.9M103.6 51.6h0.9M81.1 81.0h0.9M94.5 53.4h0.9M85.3 48.7h0.9M85.3 68.8h0.9M84.6 69.6h0.9M83.8 78.1h0.9M86.4 56.5h0.9M87.4 47.3h0.9M92.4 73.3h0.9M78.8 64.8h0.9M97.8 46.7h0.9M76.1 69.2h0.9M105.4 33.7h0.9M75.9 67.8h0.9M73.2 43.1h0.9M74.4 63.5h0.9M85.1 68.9h0.9M89.1 45.9h0.9M108.2 70.7h0.9M99.6 45.5h0.9M92.6 40.4h0.9M110.1 62.8h0.9M80.3 72.8h0.9M81.1 55.9h0.9M117.6 48.5h0.9M104.7 47.9h0.9M78.1 69.1h0.9M77.9 63.3h0.9M116.1 45.7h0.9M91.5 56.9h0.9M128.8 61.9h0.9M75.8 63.4h0.9M81.0 64.4h0.9M100.8 28.2h0.9M94.8 17.8h0.9M109.7 30.6h0.9M108.9 39.6h0.9M91.0 39.1h0.9M106.0 61.1h0.9M77.3 73.8h0.9M80.5 48.6h0.9M105.0 45.2h0.9M75.8 77.8h0.9M96.3 28.7h0.9M74.1 64.1h0.9M100.8 71.2h0.9M82.5 68.7h0.9M79.1 55.5h0.9M83.5 40.7h0.9M77.0 41.6h0.9M107.0 40.4h0.9M75.5 73.8h0.9M81.4 68.4h0.9M78.0 54.0h0.9M91.2 71.6h0.9M90.0 51.0h0.9M103.0 24.2h0.9M88.6 46.8h0.9M86.9 49.0h0.9M90.8 53.1h0.9M82.8 47.7h0.9M81.2 62.0h0.9M77.6 58.0h0.9M90.9 52.2h0.9M90.6 48.1h0.9M117.7 53.3h0.9M83.4 63.6h0.9M80.3 60.1h0.9M109.0 25.0h0.9M83.7 51.9h0.9M96.7 48.7h0.9M104.0 58.2h0.9M116.9 42.6h0.9M93.3 63.3h0.9M75.8 62.3h0.9M78.4 64.3h0.9M81.0 59.5h0.9M97.7 43.3h0.9M80.4 69.8h0.9M87.6 51.2h0.9M95.0 39.1h0.9M85.1 31.1h0.9M76.4 80.1h0.9M118.4 39.2h0.9M117.2 69.8h0.9M68.2 66.4h0.9M122.5 45.6h0.9M95.3 40.9h0.9M78.5 69.9h0.9M111.8 34.6h0.9M96.3 41.3h0.9M80.5 55.7h0.9M76.4 68.9h0.9M104.5 39.5h0.9M84.5 40.0h0.9M92.2 42.7h0.9M86.8 44.1h0.9M78.2 43.8h0.9M94.1 37.7h0.9M85.6 44.2h0.9M110.8 20.7h0.9M94.3 50.6h0.9M114.8 31.1h0.9M73.2 77.1h0.9M68.5 71.7h0.9M78.0 65.0h0.9M84.4 49.0h0.9M102.3 56.7h0.9M92.8 49.1h0.9M110.1 39.8h0.9M77.7 61.4h0.9M97.3 66.6h0.9M85.1 67.3h0.9M84.6 64.3h0.9M106.0 29.2h0.9M74.8 76.6h0.9M82.2 73.0h0.9M102.0 48.6h0.9M87.9 48.0h0.9M80.1 41.8h0.9M85.4 42.0h0.9M89.9 54.7h0.9M77.0 72.0h0.9M79.8 63.2h0.9M90.3 25.0h0.9M82.6 63.0h0.9M71.0 78.1h0.9M110.0 56.5h0.9M106.5 42.9h0.9M123.7 34.2h0.9M83.8 54.2h0.9M95.3 66.2h0.9M103.0 29.5h0.9M115.1 38.6h0.9M79.0 68.7h0.9M70.7 39.1h0.9M106.0 48.9h0.9M83.9 63.3h0.9M69.3 43.3h0.9M76.4 61.2h0.9M102.4 45.9h0.9M78.0 68.3h0.9M101.5 35.0h0.9M108.1 45.0h0.9M80.4 63.8h0.9M104.2 41.9h0.9M80.4 55.5h0.9M97.8 50.8h0.9M99.6 49.6h0.9M82.8 59.4h0.9M88.8 52.4h0.9M79.5 57.8h0.9M76.0 39.7h0.9M105.9 52.3h0.9M97.8 31.9h0.9M88.7 36.2h0.9M79.7 81.1h0.9M94.8 70.3h0.9M83.4 71.8h0.9M85.2 66.7h0.9M113.9 40.9h0.9M88.6 52.2h0.9M68.6 63.1h0.9M86.1 65.4h0.9M88.0 44.6h0.9M108.5 43.9h0.9M86.9 58.8h0.9M77.8 80.1h0.9M80.5 58.1h0.9M103.5 50.1h0.9M77.1 52.6h0.9M95.8 45.6h0.9M86.0 29.8h0.9M88.8 67.3h0.9M90.5 34.3h0.9M78.7 60.3h0.9M87.6 59.6h0.9M81.0 64.2h0.9M81.7 28.3h0.9M104.4 50.9h0.9M121.0 48.4h0.9M99.8 38.4h0.9M108.6 23.1h0.9M112.4 33.5h0.9M103.7 40.7h0.9M75.0 77.4h0.9M109.0 37.2h0.9M80.8 70.3h0.9M91.1 72.9h0.9M93.8 59.3h0.9M127.6 51.2h0.9M119.4 62.3h0.9M102.7 30.6h0.9M84.2 64.8h0.9M76.7 77.2h0.9M81.5 67.6h0.9M74.6 79.2h0.9M77.5 66.5h0.9M81.7 36.6h0.9M75.9 75.4h0.9M98.6 33.9h0.9M79.8 81.3h0.9M89.8 53.8h0.9M82.5 68.9h0.9M97.1 42.4h0.9M74.3 76.3h0.9M91.7 51.3h0.9M92.8 48.2h0.9M68.0 61.1h0.9M116.7 37.0h0.9M96.8 30.3h0.9M115.0 36.1h0.9M76.1 31.2h0.9M79.6 72.3h0.9M105.6 45.6h0.9M114.8 48.0h0.9M101.1 40.5h0.9M93.0 68.3h0.9M81.1 61.3h0.9M82.8 78.4h0.9M84.4 48.2h0.9M102.4 65.6h0.9M98.7 27.3h0.9M86.2 61.1h0.9M80.1 64.1h0.9M81.9 66.1h0.9M80.2 61.7h0.9M94.3 57.7h0.9M88.9 41.0h0.9" stroke="#000" stroke-width="0.9" stroke-opacity="0.18" fill="none"/>
<path d="M74.2 69.9h0.9M85.3 63.3h0.9M74.3 78.7h0.9M98.4 33.7h0.9M81.3 48.4h0.9M73.5 69.5h0.9M71.8 60.2h0.9M102.0 57.4h0.9M104.9 41.0h0.9M93.9 58.4h0.9M84.1 48.7h0.9M83.7 60.2h0.9M74.6 31.5h0.9M76.6 76.7h0.9M105.4 21.5h0.9M122.0 53.7h0.9M112.9 35.0h0.9M81.7 45.3h0.9M82.1 57.5h0.9M109.2 37.4h0.9M84.3 50.3h0.9M80.3 38.6h0.9M81.7 47.4h0.9M82.2 64.6h0.9M78.3 63.7h0.9M84.0 50.6h0.9M77.7 77.1h0.9M94.2 45.3h0.9M126.6 49.2h0.9M81.5 70.4h0.9M87.3 51.0h0.9M82.9 54.8h0.9M119.1 23.5h0.9M79.4 60.1h0.9M134.8 77.3h0.9M100.2 42.1h0.9M79.5 76.3h0.9M80.4 68.7h0.9M135.4 47.4h0.9M79.7 74.3h0.9M71.2 78.5h0.9M102.8 68.8h0.9M120.9 56.6h0.9M112.3 40.2h0.9M124.6 35.5h0.9M78.1 75.1h0.9M98.2 56.4h0.9M109.4 39.9h0.9M71.7 71.6h0.9M75.6 74.6h0.9M77.4 42.2h0.9M124.7 37.5h0.9M80.7 58.5h0.9M112.5 43.4h0.9M78.6 57.3h0.9M109.2 44.6h0.9M106.5 37.6h0.9M83.7 62.6h0.9M78.0 73.3h0.9M75.2 79.2h0.9M80.6 77.0h0.9M110.7 44.9h0.9M76.7 47.0h0.9M116.0 57.3h0.9M70.9 74.9h0.9M73.1 79.3h0.9M110.9 38.1h0.9M106.5 56.1h0.9M97.9 38.5h0.9M115.9 49.7h0.9M69.2 71.4h0.9M101.0 29.2h0.9M81.5 51.2h0.9M71.6 64.8h0.9M94.6 19.7h0.9M75.7 76.6h0.9M88.3 44.4h0.9M84.0 64.1h0.9M115.4 74.4h0.9M108.0 36.6h0.9M80.0 68.0h0.9M73.1 74.3h0.9M109.1 53.0h0.9M84.3 34.1h0.9M92.5 67.7h0.9M86.4 50.6h0.9M82.6 63.7h0.9M106.2 43.9h0.9M78.7 65.6h0.9M91.1 33.8h0.9M72.2 26.3h0.9M77.4 59.8h0.9M74.7 67.2h0.9M111.4 52.0h0.9M113.2 45.2h0.9M89.5 54.9h0.9M83.5 69.6h0.9M101.6 21.1h0.9M113.2 44.9h0.9M111.5 52.0h0.9M72.3 50.4h0.9M97.4 62.7h0.9M104.0 40.6h0.9M82.6 53.2h0.9M73.1 57.5h0.9M78.9 54.8h0.9M112.0 38.1h0.9M75.3 60.2h0.9M80.6 69.8h0.9M78.1 75.3h0.9M122.6 40.3h0.9M84.6 53.0h0.9M103.7 46.0h0.9M73.6 48.2h0.9M116.2 64.0h0.9M96.4 37.5h0.9M86.6 52.5h0.9M75.4 73.5h0.9M110.0 42.9h0.9M121.5 33.3h0.9M112.4 28.6h0.9M82.0 50.1h0.9M104.4 35.3h0.9M72.3 61.3h0.9M112.0 32.9h0.9M98.6 48.9h0.9M115.6 43.8h0.9M77.0 75.1h0.9M82.8 69.2h0.9M88.4 65.8h0.9M77.4 68.5h0.9M83.9 40.7h0.9M77.8 57.9h0.9M138.9 58.8h0.9M78.8 58.5h0.9M75.0 35.4h0.9M114.7 14.5h0.9M99.3 53.0h0.9M82.5 74.0h0.9M106.3 50.6h0.9M84.5 28.5h0.9M82.5 42.9h0.9M77.5 67.0h0.9M108.2 30.2h0.9M76.0 64.0h0.9M72.0 34.7h0.9M104.6 29.8h0.9M88.1 39.4h0.9M91.8 44.6h0.9M81.6 49.6h0.9M80.1 56.9h0.9M79.5 48.5h0.9M81.9 61.2h0.9M98.4 45.7h0.9M127.2 36.3h0.9M73.0 63.8h0.9M131.1 16.0h0.9M109.6 41.8h0.9M75.3 48.1h0.9M129.9 33.0h0.9M94.7 65.1h0.9M79.9 48.9h0.9M98.2 44.1h0.9M106.4 34.2h0.9M76.6 53.7h0.9M79.6 36.6h0.9M82.1 61.1h0.9M86.6 45.1h0.9M96.7 30.6h0.9M82.4 59.4h0.9M107.2 78.2h0.9M88.2 50.1h0.9M83.3 52.6h0.9M95.6 33.2h0.9M96.6 22.0h0.9M108.2 51.4h0.9M88.1 52.1h0.9M76.3 65.9h0.9M87.1 42.3h0.9M82.5 51.0h0.9M86.9 60.3h0.9M98.9 78.4h0.9M78.8 68.3h0.9M95.4 45.7h0.9M75.3 76.4h0.9M88.7 67.8h0.9M102.4 43.0h0.9M109.6 50.0h0.9M125.2 57.6h0.9M79.3 56.8h0.9M111.7 28.8h0.9M110.9 59.4h0.9M77.7 73.2h0.9M88.6 59.9h0.9M105.5 51.4h0.9M78.3 48.7h0.9M90.3 71.3h0.9M81.2 75.7h0.9M68.5 47.6h0.9M78.5 65.9h0.9M83.5 48.1h0.9M98.3 34.7h0.9M80.1 62.2h0.9M84.9 55.9h0.9M78.9 59.5h0.9M78.9 66.8h0.9M77.3 45.0h0.9M96.8 52.3h0.9M121.2 38.8h0.9M102.8 47.3h0.9M80.7 74.4h0.9M119.5 34.0h0.9M89.8 41.7h0.9M88.9 47.8h0.9M77.8 70.0h0.9M77.9 67.1h0.9M98.4 65.6h0.9M83.4 53.8h0.9M85.3 45.0h0.9M103.6 46.6h0.9M98.6 34.9h0.9M87.8 42.4h0.9M123.2 53.7h0.9M76.9 73.4h0.9M80.4 68.6h0.9M80.8 69.4h0.9M85.1 57.9h0.9M115.2 51.3h0.9M83.6 54.0h0.9M114.7 39.2h0.9M96.7 66.2h0.9M97.2 37.8h0.9M86.0 46.5h0.9M84.4 63.0h0.9M80.1 67.0h0.9M82.8 57.9h0.9M87.8 58.6h0.9M87.0 37.0h0.9M85.8 49.2h0.9M94.2 64.0h0.9M72.6 69.2h0.9M113.2 51.7h0.9M80.7 79.6h0.9M87.6 52.9h0.9M75.8 42.0h0.9M118.1 52.0h0.9M81.4 63.1h0.9M106.1 29.5h0.9M85.0 70.2h0.9M72.6 45.5h0.9M102.5 38.9h0.9M97.3 56.2h0.9M77.1 42.7h0.9M87.4 40.4h0.9M101.3 21.2h0.9M95.3 57.9h0.9M78.5 79.0h0.9M100.2 15.1h0.9M78.1 67.7h0.9M91.2 43.0h0.9M107.9 42.0h0.9M83.0 72.3h0.9M127.0 35.0h0.9M98.5 47.6h0.9M87.5 38.4h0.9M93.0 73.7h0.9M117.5 48.9h0.9M93.6 42.2h0.9M102.9 32.6h0.9M81.8 27.1h0.9M77.5 62.0h0.9M100.9 55.4h0.9M84.3 58.8h0.9M125.2 21.3h0.9M81.5 53.2h0.9M102.3 60.6h0.9M91.4 63.3h0.9M75.4 46.7h0.9M102.7 13.7h0.9M137.4 71.8h0.9M75.5 74.9h0.9M86.5 57.1h0.9M93.8 56.1h0.9M117.0 39.3h0.9M102.2 66.6h0.9M84.7 57.1h0.9M78.1 59.5h0.9M81.7 58.4h0.9M131.4 56.3h0.9M86.7 48.3h0.9M112.1 27.2h0.9M84.9 63.2h0.9M86.6 62.4h0.9M108.0 49.9h0.9M75.9 32.2h0.9M77.7 62.5h0.9M74.0 72.1h0.9M80.5 63.5h0.9M106.1 36.7h0.9M94.1 43.4h0.9M84.1 70.9h0.9M123.0 45.3h0.9M128.4 19.6h0.9M77.3 71.5h0.9M75.5 48.5h0.9M81.1 71.8h0.9M74.0 67.5h0.9M95.9 67.6h0.9M86.5 51.9h0.9M104.2 50.0h0.9M71.9 69.6h0.9M75.6 72.1h0.9M89.4 52.7h0.9M111.5 38.6h0.9M94.2 48.5h0.9M91.4 64.4h0.9M107.9 32.3h0.9M78.6 76.0h0.9M88.4 54.6h0.9M76.8 74.3h0.9M103.5 56.7h0.9M86.1 47.6h0.9" stroke="#000" stroke-width="0.9" stroke-opacity="0.18" fill="none"/>
</g>
<rect x="66.5" y="8.5" width="74" height="74" fill="none" stroke="#000" stroke-width="1.2"/>
<line x1="64.7" y1="12.5" x2="66.5" y2="12.5" stroke="#000" stroke-width="1.1" />
<line x1="64.7" y1="26.5" x2="66.5" y2="26.5" stroke="#000" stroke-width="1.1" />
<line x1="64.7" y1="40.9" x2="66.5" y2="40.9" stroke="#000" stroke-width="1.1" />
<line x1="64.7" y1="54.8" x2="66.5" y2="54.8" stroke="#000" stroke-width="1.1" />
<line x1="64.7" y1="68.5" x2="66.5" y2="68.5" stroke="#000" stroke-width="1.1" />
<line x1="66.8" y1="82.5" x2="66.8" y2="84.3" stroke="#000" stroke-width="1.1" />
<line x1="80.4" y1="82.5" x2="80.4" y2="84.3" stroke="#000" stroke-width="1.1" />
<line x1="94.7" y1="82.5" x2="94.7" y2="84.3" stroke="#000" stroke-width="1.1" />
<line x1="108.3" y1="82.5" x2="108.3" y2="84.3" stroke="#000" stroke-width="1.1" />
<line x1="122.3" y1="82.5" x2="122.3" y2="84.3" stroke="#000" stroke-width="1.1" />
<line x1="136.2" y1="82.5" x2="136.2" y2="84.3" stroke="#000" stroke-width="1.1" />
<path d="M87.5 52.9L93.1 46.2L107.5 41.7L121.9 44.1L134.6 52.9L137 66.5L118.7 76L98.7 77.6L89.9 75.2L87.5 72Z" fill="none" stroke="#000" stroke-width="2.5" stroke-linejoin="round"/>
<g>
<path d="M72.4 173.4h0.9M91.9 145.1h0.9M98.7 141.6h0.9M85.8 161.8h0.9M85.8 173.1h0.9M99.5 143.8h0.9M89.6 157.1h0.9M89.9 141.3h0.9M90.8 165.1h0.9M88.0 159.7h0.9M101.6 137.4h0.9M88.8 158.7h0.9M68.9 173.4h0.9M85.7 161.6h0.9M95.7 154.7h0.9M83.6 162.4h0.9M93.0 143.3h0.9M93.8 140.0h0.9M94.8 147.9h0.9M86.9 150.6h0.9M95.4 147.0h0.9M82.4 161.7h0.9M86.5 162.5h0.9M85.4 159.0h0.9M97.0 148.9h0.9M110.2 126.8h0.9M89.0 162.2h0.9M97.1 134.7h0.9M99.9 147.0h0.9M74.3 170.5h0.9M101.0 153.2h0.9M86.0 163.3h0.9M85.6 166.7h0.9M92.6 154.6h0.9M71.2 173.5h0.9M73.5 171.8h0.9M91.5 159.5h0.9M83.8 164.8h0.9M90.2 156.5h0.9M88.3 158.1h0.9M83.0 164.4h0.9M86.8 149.9h0.9M92.7 147.3h0.9M95.9 149.9h0.9M96.0 144.1h0.9M93.8 137.4h0.9M98.0 148.4h0.9M84.6 159.6h0.9M92.2 148.6h0.9M96.0 136.1h0.9M72.6 171.4h0.9M88.9 161.6h0.9M88.9 162.6h0.9M99.0 135.5h0.9M73.2 172.8h0.9M96.3 132.0h0.9M85.8 161.4h0.9M98.9 146.3h0.9M96.3 155.0h0.9M98.6 136.3h0.9M96.2 145.2h0.9M99.3 139.7h0.9M82.2 168.2h0.9M76.4 168.4h0.9M93.6 141.9h0.9M94.7 157.1h0.9M89.5 154.0h0.9M92.4 141.8h0.9M98.4 143.0h0.9M72.1 172.3h0.9M79.3 169.5h0.9M80.8 169.6h0.9M84.5 164.8h0.9M99.8 135.5h0.9M103.5 136.2h0.9M103.4 128.5h0.9M92.6 141.7h0.9M90.9 159.6h0.9M86.5 163.2h0.9M76.0 173.8h0.9M95.5 152.2h0.9M101.7 134.1h0.9M101.9 135.8h0.9M71.8 173.9h0.9M88.0 159.2h0.9M107.3 122.4h0.9M98.0 151.1h0.9M86.2 158.9h0.9M89.6 155.8h0.9M97.2 142.3h0.9M93.1 139.7h0.9M99.3 138.9h0.9M95.7 141.3h0.9M102.7 138.8h0.9M88.1 160.3h0.9M82.6 163.1h0.9M94.9 146.8h0.9M87.5 156.8h0.9M88.9 157.1h0.9M87.8 165.6h0.9M87.6 153.3h0.9M91.8 149.3h0.9M92.9 154.2h0.9M87.6 157.6h0.9M92.9 139.6h0.9M82.7 162.6h0.9M89.4 158.0h0.9M99.2 145.9h0.9M107.6 144.8h0.9M99.0 143.1h0.9M93.6 137.1h0.9M83.2 159.0h0.9M80.9 166.8h0.9M90.5 154.7h0.9M99.8 146.9h0.9M99.0 138.5h0.9M92.2 143.0h0.9M85.1 152.7h0.9M71.0 172.2h0.9M89.4 139.9h0.9M99.2 136.7h0.9M87.9 160.3h0.9M81.8 154.1h0.9M87.8 160.9h0.9M87.2 148.7h0.9M91.4 144.0h0.9M78.5 170.8h0.9M93.0 143.6h0.9M70.0 174.0h0.9M70.1 169.5h0.9M96.3 150.7h0.9M94.7 145.7h0.9M98.5 141.9h0.9M88.2 165.2h0.9M115.3 128.9h0.9M81.5 164.3h0.9M85.0 148.7h0.9M84.8 157.8h0.9M71.5 173.6h0.9M83.7 163.2h0.9M99.6 139.8h0.9M96.1 140.5h0.9M98.2 132.9h0.9M97.5 136.9h0.9M96.9 134.0h0.9M89.2 159.7h0.9M89.7 155.2h0.9M89.7 155.2h0.9M87.2 164.1h0.9M101.0 133.7h0.9M93.6 140.5h0.9M83.6 166.6h0.9M73.0 173.9h0.9M100.4 132.6h0.9M97.8 136.7h0.9M86.8 157.1h0.9M99.9 146.5h0.9M94.7 134.8h0.9M72.4 170.9h0.9M97.4 133.6h0.9M90.1 144.3h0.9M71.4 172.3h0.9M72.1 173.2h0.9M98.1 144.5h0.9M82.2 160.5h0.9M85.9 156.4h0.9M88.0 158.1h0.9M111.4 123.5h0.9M103.0 131.7h0.9M88.4 158.3h0.9M84.2 162.8h0.9M87.8 158.9h0.9M103.5 123.4h0.9M92.8 143.3h0.9M92.3 146.9h0.9M85.3 164.8h0.9M98.2 148.8h0.9M90.6 148.8h0.9M94.1 148.9h0.9M97.7 136.8h0.9M90.2 151.2h0.9M71.4 172.0h0.9M71.8 172.1h0.9M71.7 172.8h0.9M94.5 145.1h0.9M89.3 161.1h0.9M85.6 162.5h0.9M98.7 141.9h0.9M70.6 171.2h0.9M95.2 136.9h0.9M67.9 171.4h0.9M96.5 134.8h0.9M99.0 140.6h0.9M68.6 172.0h0.9M86.7 145.3h0.9M102.6 134.3h0.9M103.6 144.4h0.9M99.1 144.3h0.9M82.5 163.5h0.9M100.8 136.7h0.9M84.3 160.1h0.9M93.1 160.9h0.9M72.8 172.6h0.9M104.0 135.8h0.9M74.5 172.6h0.9M99.9 140.7h0.9M96.4 145.6h0.9M72.5 171.5h0.9M81.3 171.5h0.9M97.6 142.8h0.9M96.3 147.7h0.9M93.3 145.7h0.9M90.8 151.4h0.9M101.5 134.2h0.9M70.1 172.4h0.9M97.3 134.8h0.9M103.5 136.9h0.9M85.3 163.7h0.9M88.1 160.2h0.9M98.9 142.2h0.9M91.1 154.9h0.9M77.0 167.4h0.9M74.1 174.2h0.9M98.5 151.0h0.9M98.6 139.6h0.9M93.4 148.1h0.9M93.1 137.5h0.9M80.7 159.3h0.9M95.3 149.9h0.9M97.5 140.7h0.9M81.6 157.5h0.9M90.9 151.5h0.9" stroke="#000" stroke-width="0.9" stroke-opacity="0.33" fill="none"/>
<path d="M99.9 146.4h0.9M78.7 172.2h0.9M98.9 142.5h0.9M88.0 146.2h0.9M78.0 168.7h0.9M84.3 157.8h0.9M80.4 171.5h0.9M78.1 170.8h0.9M74.7 165.2h0.9M94.6 138.4h0.9M72.9 171.7h0.9M92.8 140.5h0.9M74.7 171.3h0.9M92.0 140.5h0.9M99.4 144.9h0.9M91.5 143.9h0.9M83.0 165.0h0.9M81.2 169.3h0.9M69.8 172.5h0.9M71.8 173.9h0.9M69.5 173.3h0.9M101.6 136.4h0.9M73.3 172.9h0.9M94.9 146.4h0.9M70.8 173.0h0.9M99.2 138.7h0.9M99.8 149.1h0.9M96.8 148.3h0.9M85.0 159.0h0.9M94.9 154.4h0.9M101.1 135.9h0.9M69.9 172.3h0.9M86.2 161.6h0.9M72.1 173.0h0.9M75.3 171.6h0.9M71.7 171.1h0.9M70.0 174.2h0.9M88.8 140.7h0.9M72.6 174.1h0.9M70.6 172.1h0.9M81.7 167.0h0.9M91.0 163.0h0.9M71.0 172.5h0.9M93.5 145.9h0.9M93.5 155.7h0.9M97.5 143.8h0.9M93.1 154.0h0.9M84.8 165.6h0.9M89.9 145.9h0.9M69.2 172.6h0.9M94.0 139.5h0.9M71.4 171.5h0.9M93.4 135.1h0.9M72.9 170.5h0.9M69.9 171.6h0.9M90.6 153.9h0.9M79.4 165.9h0.9M86.4 160.4h0.9M86.7 158.0h0.9M94.2 144.8h0.9M100.9 146.6h0.9M70.7 172.3h0.9M87.2 171.2h0.9M86.6 161.6h0.9M98.1 139.3h0.9M88.2 156.2h0.9M74.9 168.2h0.9M95.5 142.4h0.9M88.5 157.6h0.9M93.9 139.2h0.9M91.7 154.1h0.9M96.1 141.5h0.9M78.2 166.0h0.9M89.5 161.7h0.9M71.1 173.7h0.9M87.1 158.6h0.9M93.3 153.3h0.9M99.3 150.8h0.9M74.2 173.0h0.9M93.9 146.0h0.9M83.0 167.2h0.9M88.2 161.3h0.9M94.0 149.0h0.9M98.3 147.9h0.9M102.3 136.7h0.9M86.6 160.1h0.9M96.3 150.3h0.9M102.1 139.4h0.9M100.6 137.6h0.9M97.4 138.8h0.9M99.7 148.5h0.9M101.9 145.4h0.9M90.7 156.7h0.9M95.6 141.4h0.9M72.9 172.2h0.9M102.8 128.1h0.9M81.3 168.6h0.9M83.2 164.1h0.9M93.6 145.5h0.9M98.3 144.2h0.9M97.5 138.3h0.9M87.1 154.6h0.9M97.0 145.5h0.9M70.4 173.6h0.9M85.9 151.7h0.9M94.5 139.0h0.9M87.2 154.8h0.9M88.9 149.6h0.9M84.8 164.2h0.9M97.4 149.8h0.9M108.8 140.9h0.9M71.1 170.7h0.9M92.7 153.5h0.9M99.6 136.7h0.9M100.1 135.8h0.9M83.2 165.6h0.9M85.5 161.8h0.9M97.7 140.4h0.9M104.4 135.2h0.9M101.8 140.3h0.9M93.4 151.9h0.9M96.9 142.5h0.9M89.9 133.4h0.9M92.8 149.6h0.9M91.4 149.8h0.9M95.9 144.8h0.9M86.1 160.2h0.9M67.6 170.6h0.9M99.0 148.8h0.9M69.8 172.3h0.9M91.2 147.3h0.9M80.1 169.9h0.9M95.4 131.4h0.9M70.6 174.0h0.9M85.8 160.2h0.9M88.7 156.8h0.9M72.2 174.0h0.9M89.4 158.2h0.9M90.9 144.2h0.9M97.7 147.4h0.9M90.2 150.6h0.9M97.3 145.8h0.9M87.6 152.8h0.9M90.4 161.1h0.9M94.0 136.1h0.9M82.4 162.4h0.9M69.7 172.8h0.9M98.7 138.8h0.9M86.2 159.1h0.9M70.8 171.9h0.9M80.8 168.1h0.9M92.7 143.6h0.9M76.4 168.5h0.9M71.3 171.6h0.9M103.8 140.5h0.9M91.6 141.8h0.9M75.7 169.9h0.9M96.3 150.7h0.9M87.3 142.4h0.9M70.0 172.0h0.9M89.1 162.6h0.9M89.8 153.1h0.9M80.9 165.8h0.9M86.1 159.3h0.9M97.6 137.6h0.9M84.1 159.7h0.9M78.4 163.0h0.9M73.3 168.2h0.9M91.2 144.2h0.9M84.4 161.8h0.9M94.9 155.7h0.9M82.6 168.2h0.9M85.5 163.0h0.9M79.5 165.2h0.9M87.7 155.5h0.9M79.4 167.3h0.9M101.8 137.2h0.9M71.8 173.3h0.9M71.4 172.2h0.9M88.6 147.3h0.9M92.5 147.9h0.9M90.6 147.5h0.9M89.4 147.9h0.9M73.7 172.2h0.9M85.9 163.7h0.9M79.4 171.7h0.9M95.7 140.7h0.9M96.3 138.1h0.9M100.9 137.8h0.9M103.8 134.4h0.9M81.0 168.2h0.9M86.6 157.6h0.9M73.3 172.4h0.9M97.0 149.9h0.9M71.8 173.9h0.9M96.6 152.6h0.9M95.3 147.1h0.9M97.0 154.4h0.9M97.8 142.3h0.9M90.4 145.1h0.9M70.2 171.4h0.9M81.8 166.5h0.9M94.5 143.1h0.9M94.1 139.3h0.9M91.2 140.1h0.9M98.9 134.3h0.9M87.1 152.4h0.9M96.0 136.3h0.9M98.9 138.1h0.9M76.5 173.6h0.9M88.4 159.4h0.9M80.1 169.2h0.9M91.2 145.9h0.9M91.9 143.6h0.9M74.8 169.9h0.9M84.9 164.4h0.9M91.1 161.5h0.9M88.6 156.4h0.9M89.0 158.2h0.9M88.4 162.7h0.9M95.4 138.5h0.9M87.6 147.7h0.9M94.5 146.0h0.9M100.6 137.7h0.9M98.7 137.9h0.9M96.0 147.6h0.9M101.7 145.4h0.9M94.4 147.5h0.9M95.7 157.3h0.9M72.3 171.9h0.9M100.7 143.9h0.9M70.4 171.8h0.9" stroke="#000" stroke-width="0.9" stroke-opacity="0.33" fill="none"/>
<path d="M94.5 149.4h0.9M93.0 135.2h0.9M95.3 151.4h0.9M91.6 162.2h0.9M94.4 137.2h0.9M101.3 144.2h0.9M78.1 169.5h0.9M84.2 162.3h0.9M93.0 144.3h0.9M89.2 156.8h0.9M94.9 151.2h0.9M84.5 172.7h0.9M98.5 139.9h0.9M98.1 138.6h0.9M98.2 128.6h0.9M97.8 140.7h0.9M90.5 148.7h0.9M96.8 148.9h0.9M87.5 151.0h0.9M90.7 140.3h0.9M93.1 136.3h0.9M106.6 143.3h0.9M100.5 136.4h0.9M96.4 142.7h0.9M95.5 149.2h0.9M70.7 170.3h0.9M88.4 160.3h0.9M87.0 168.9h0.9M73.2 172.9h0.9M81.0 162.0h0.9M72.3 172.1h0.9M98.3 146.0h0.9M95.1 145.0h0.9M87.6 166.2h0.9M89.1 161.3h0.9M92.5 145.2h0.9M91.3 151.8h0.9M104.5 131.8h0.9M99.9 128.7h0.9M94.8 146.3h0.9M89.4 151.2h0.9M86.1 159.6h0.9M76.4 168.4h0.9M96.5 140.9h0.9M80.7 173.4h0.9M85.1 159.7h0.9M72.7 171.3h0.9M97.5 141.4h0.9M71.6 173.7h0.9M87.8 153.6h0.9M83.0 163.7h0.9M97.2 135.7h0.9M91.7 157.2h0.9M98.3 135.9h0.9M85.0 160.6h0.9M82.8 161.2h0.9M105.6 143.1h0.9M89.5 163.1h0.9M99.6 140.1h0.9M94.5 141.8h0.9M83.5 163.1h0.9M84.2 162.9h0.9M93.5 150.1h0.9M100.7 141.0h0.9M72.8 173.3h0.9M89.9 152.0h0.9M105.2 129.9h0.9M97.2 145.2h0.9M92.6 143.6h0.9M79.8 165.9h0.9M78.3 169.4h0.9M94.0 147.9h0.9M87.1 156.4h0.9M80.7 169.9h0.9M93.9 153.1h0.9M101.1 140.4h0.9M91.8 146.3h0.9M73.7 171.7h0.9M71.3 172.5h0.9M83.3 165.6h0.9M98.1 147.2h0.9M85.8 165.4h0.9M85.9 162.3h0.9M68.5 171.8h0.9M89.9 158.1h0.9M81.8 163.9h0.9M83.3 161.0h0.9M86.1 157.4h0.9M79.9 169.4h0.9M70.6 173.5h0.9M87.3 167.5h0.9M89.9 152.6h0.9M92.4 145.9h0.9M101.3 142.1h0.9M95.7 139.5h0.9M95.4 149.0h0.9M96.4 134.5h0.9M74.0 172.6h0.9M89.9 163.2h0.9M87.5 161.7h0.9M99.2 150.4h0.9M74.7 169.7h0.9M92.5 156.8h0.9M93.3 144.3h0.9M86.1 161.2h0.9M97.5 134.4h0.9M87.8 161.6h0.9M71.3 170.1h0.9M94.0 150.1h0.9M78.8 169.7h0.9M94.8 141.9h0.9M72.7 173.5h0.9M103.7 133.8h0.9M89.0 159.8h0.9M89.4 156.0h0.9M89.7 143.9h0.9M71.6 170.9h0.9M78.7 167.1h0.9M90.1 147.8h0.9M86.8 161.7h0.9M96.4 143.6h0.9M75.8 168.4h0.9M78.3 167.1h0.9M97.4 137.1h0.9M100.8 136.9h0.9M85.0 162.4h0.9M90.5 139.8h0.9M91.1 149.1h0.9M70.2 172.6h0.9M71.8 174.1h0.9M73.7 170.1h0.9M99.1 133.3h0.9M105.1 136.7h0.9M71.9 172.0h0.9M71.9 171.5h0.9M88.5 162.2h0.9M90.2 161.4h0.9M75.5 173.2h0.9M70.3 170.3h0.9M71.1 173.3h0.9M85.5 165.4h0.9M87.1 163.1h0.9M94.3 145.0h0.9M83.1 161.3h0.9M94.9 143.1h0.9M88.2 159.1h0.9M69.4 172.3h0.9M89.9 142.3h0.9M88.0 154.2h0.9M78.7 171.9h0.9M95.7 138.6h0.9M90.9 144.0h0.9M87.3 159.4h0.9M70.8 172.3h0.9M96.8 146.4h0.9M100.1 142.8h0.9M85.3 161.0h0.9M103.6 134.3h0.9M96.7 144.3h0.9M98.5 150.9h0.9M88.7 159.4h0.9M100.1 132.1h0.9M94.0 145.9h0.9M103.3 131.6h0.9M108.0 134.1h0.9M85.0 157.9h0.9M69.4 173.0h0.9M91.8 142.6h0.9M82.9 163.7h0.9M94.9 145.4h0.9M105.0 133.1h0.9M89.4 161.5h0.9M95.0 142.6h0.9M70.6 173.5h0.9M89.8 165.1h0.9M103.2 132.7h0.9M102.0 146.5h0.9M98.1 134.7h0.9M92.3 156.6h0.9M83.6 163.2h0.9M90.1 139.9h0.9M89.7 148.3h0.9M87.3 165.6h0.9M98.8 130.9h0.9M91.1 147.4h0.9M85.8 167.1h0.9M73.4 170.8h0.9M78.0 168.8h0.9M74.9 167.5h0.9M78.4 164.0h0.9M81.0 161.1h0.9M89.4 147.6h0.9M102.2 143.0h0.9M90.7 144.7h0.9M85.3 158.1h0.9M86.2 159.4h0.9M86.3 162.2h0.9M84.0 158.6h0.9M97.5 150.7h0.9M84.2 156.1h0.9M83.0 162.1h0.9M88.7 142.5h0.9M72.5 171.7h0.9M69.9 172.9h0.9M90.1 135.1h0.9M101.8 139.2h0.9M92.4 155.4h0.9M90.9 146.0h0.9M93.0 152.2h0.9M98.4 139.2h0.9M93.4 147.3h0.9M72.4 171.9h0.9M96.1 136.0h0.9M101.4 143.0h0.9M94.3 147.4h0.9M94.6 131.4h0.9M68.2 173.2h0.9M87.7 146.7h0.9M91.9 159.5h0.9M100.3 137.8h0.9M69.3 171.0h0.9M70.4 170.1h0.9M89.8 149.9h0.9M74.1 172.6h0.9M94.1 152.0h0.9M94.5 162.7h0.9M88.4 161.1h0.9M95.8 147.5h0.9M82.2 167.2h0.9M96.5 137.2h0.9M100.8 135.2h0.9M98.0 137.2h0.9" stroke="#000" stroke-width="0.9" stroke-opacity="0.33" fill="none"/>
<path d="M92.9 148.2h0.9M87.6 160.2h0.9M102.9 130.2h0.9M72.8 172.4h0.9M106.7 134.6h0.9M92.4 137.4h0.9M97.1 146.7h0.9M98.6 146.2h0.9M96.7 141.7h0.9M70.5 172.3h0.9M87.0 163.2h0.9M80.3 163.1h0.9M97.5 139.9h0.9M78.1 164.4h0.9M79.7 165.2h0.9M74.6 171.8h0.9M82.8 155.7h0.9M85.5 162.3h0.9M90.1 156.6h0.9M98.6 138.2h0.9M94.7 149.0h0.9M98.7 145.3h0.9M83.2 166.8h0.9M92.1 143.7h0.9M96.9 136.6h0.9M89.0 144.8h0.9M86.1 162.3h0.9M100.5 149.5h0.9M87.3 161.0h0.9M96.7 157.3h0.9M91.2 154.3h0.9M74.6 170.7h0.9M71.6 171.0h0.9M93.6 155.0h0.9M104.7 140.2h0.9M91.2 152.9h0.9M97.4 137.5h0.9M103.3 145.4h0.9M100.5 139.1h0.9M96.8 136.0h0.9M83.1 164.1h0.9M87.2 153.0h0.9M70.6 170.1h0.9M99.5 137.0h0.9M72.0 171.6h0.9M75.3 172.0h0.9M88.6 153.0h0.9M91.7 159.3h0.9M98.1 138.7h0.9M73.4 172.6h0.9M87.8 163.0h0.9M70.6 172.1h0.9M91.2 162.0h0.9M79.2 169.8h0.9M86.5 161.1h0.9M74.3 169.4h0.9M78.1 165.0h0.9M106.5 134.4h0.9M87.6 159.0h0.9M107.8 135.2h0.9M100.5 146.1h0.9M71.6 171.6h0.9M98.5 136.4h0.9M97.0 148.6h0.9M85.1 165.2h0.9M83.3 164.4h0.9M85.5 158.4h0.9M81.5 169.4h0.9M71.4 173.4h0.9M83.7 169.7h0.9M89.9 163.4h0.9M86.2 160.2h0.9M79.4 162.3h0.9M96.0 144.1h0.9M84.5 161.7h0.9M99.8 133.9h0.9M87.2 162.9h0.9M86.0 152.2h0.9M77.5 171.2h0.9M75.1 171.9h0.9M91.0 144.9h0.9M102.4 129.5h0.9M70.0 171.5h0.9M72.0 172.7h0.9M80.6 166.9h0.9M80.8 161.1h0.9M85.8 161.6h0.9M92.0 140.6h0.9M83.3 163.8h0.9M84.1 157.4h0.9M101.2 131.8h0.9M98.0 143.4h0.9M78.7 167.8h0.9M89.6 161.4h0.9M97.7 143.2h0.9M97.0 151.1h0.9M101.9 138.2h0.9M87.4 161.9h0.9M91.0 159.3h0.9M87.8 156.6h0.9M69.0 170.6h0.9M95.8 142.7h0.9M93.0 141.5h0.9M81.4 169.5h0.9M86.7 159.8h0.9M95.9 137.8h0.9M98.0 138.6h0.9M93.0 149.7h0.9M95.2 140.3h0.9M83.9 165.2h0.9M104.2 137.0h0.9M83.6 161.6h0.9M73.9 173.3h0.9M101.6 143.3h0.9M91.2 149.1h0.9M95.2 148.9h0.9M101.0 135.1h0.9M88.3 155.1h0.9M87.7 158.0h0.9M91.0 157.2h0.9M86.2 161.9h0.9M97.7 139.4h0.9M73.2 172.5h0.9M99.6 149.8h0.9M88.4 162.2h0.9M82.2 167.7h0.9M90.1 159.8h0.9M100.2 136.1h0.9M67.7 172.8h0.9M100.0 135.8h0.9M85.9 152.9h0.9M88.7 145.6h0.9M83.1 160.8h0.9M85.1 168.5h0.9M70.4 172.8h0.9M99.8 140.4h0.9M81.5 161.5h0.9M92.1 152.3h0.9M96.1 140.0h0.9M89.0 145.0h0.9M88.2 166.1h0.9M93.5 146.1h0.9M99.5 141.1h0.9M89.9 155.6h0.9M86.5 162.1h0.9M94.0 145.2h0.9M71.6 170.8h0.9M88.3 160.6h0.9M94.9 146.1h0.9M97.5 144.8h0.9M85.8 162.9h0.9M95.0 155.3h0.9M74.9 172.1h0.9M89.8 154.4h0.9M72.1 170.9h0.9M93.6 140.3h0.9M77.6 168.6h0.9M88.3 164.7h0.9M87.6 162.0h0.9M97.4 133.6h0.9M93.3 144.8h0.9M97.7 149.2h0.9M96.2 139.3h0.9M96.3 143.4h0.9M104.3 135.6h0.9M72.4 173.2h0.9M83.8 167.5h0.9M95.6 140.3h0.9M98.8 129.5h0.9M98.6 137.3h0.9M89.0 156.5h0.9M75.7 172.4h0.9M97.1 145.6h0.9M88.8 158.8h0.9M95.7 139.4h0.9M89.0 160.9h0.9M95.1 138.2h0.9M94.8 145.6h0.9M98.4 154.1h0.9M104.7 131.0h0.9M95.8 148.1h0.9M93.9 141.9h0.9M71.5 172.5h0.9M98.7 150.4h0.9M92.7 151.6h0.9M89.8 160.4h0.9M92.8 159.2h0.9M95.7 140.4h0.9M92.5 148.5h0.9M89.3 143.4h0.9M88.0 156.4h0.9M85.3 154.0h0.9M74.3 170.3h0.9M83.1 163.1h0.9M84.1 167.3h0.9M89.0 157.5h0.9M94.4 135.8h0.9M86.0 162.9h0.9M97.4 142.7h0.9M90.3 153.1h0.9M97.9 142.5h0.9M85.7 160.8h0.9M97.7 143.1h0.9M70.3 170.6h0.9M89.6 151.2h0.9M80.3 167.2h0.9M85.8 160.5h0.9M88.5 162.4h0.9M85.1 161.9h0.9M102.0 142.2h0.9M99.5 137.8h0.9M85.9 166.1h0.9M80.8 165.1h0.9M70.9 171.9h0.9M88.6 165.7h0.9M98.8 132.6h0.9M92.9 143.8h0.9M80.6 167.4h0.9M87.3 162.1h0.9M85.0 160.5h0.9M87.3 161.6h0.9M105.3 142.4h0.9M92.2 153.3h0.9M82.8 165.7h0.9M97.4 146.2h0.9M91.3 154.5h0.9M102.3 139.6h0.9M73.8 169.7h0.9M97.0 138.0h0.9M87.7 161.0h0.9M81.7 167.7h0.9" stroke="#000" stroke-width="0.9" stroke-opacity="0.33" fill="none"/>
<path d="M84.9 166.7h0.9M98.8 138.4h0.9M97.4 142.2h0.9M89.5 157.6h0.9M86.2 159.2h0.9M93.3 147.6h0.9M99.5 133.5h0.9M91.9 156.3h0.9M97.4 148.6h0.9M100.4 133.7h0.9M71.6 172.6h0.9M103.8 133.2h0.9M77.7 172.3h0.9M93.2 141.4h0.9M75.1 172.3h0.9M97.7 148.4h0.9M97.7 133.0h0.9M99.2 136.4h0.9M71.1 172.4h0.9M83.8 167.5h0.9M86.2 162.4h0.9M100.5 142.1h0.9M84.2 165.6h0.9M93.7 156.9h0.9M73.3 172.8h0.9M93.0 155.3h0.9M97.7 136.3h0.9M71.2 170.0h0.9M81.3 163.0h0.9M95.3 150.4h0.9M93.0 148.1h0.9M99.5 145.4h0.9M88.5 151.1h0.9M76.4 172.7h0.9M105.8 136.3h0.9M93.8 150.9h0.9M72.8 172.5h0.9M97.9 129.9h0.9M75.5 169.3h0.9M95.5 142.1h0.9M88.1 156.9h0.9M93.7 137.8h0.9M91.4 149.9h0.9M88.3 165.6h0.9M88.0 159.3h0.9M97.5 137.6h0.9M89.7 159.9h0.9M93.5 143.7h0.9M82.3 166.8h0.9M83.2 167.5h0.9M92.6 151.2h0.9M85.4 160.8h0.9M104.2 134.2h0.9M86.2 166.3h0.9M101.7 143.3h0.9M71.6 171.5h0.9M92.0 149.9h0.9M88.9 160.2h0.9M83.8 165.4h0.9M96.6 145.9h0.9M88.3 158.0h0.9M73.1 173.5h0.9M70.7 172.1h0.9M88.2 160.4h0.9M69.0 173.1h0.9M85.1 162.7h0.9M77.4 174.0h0.9M94.9 145.8h0.9M86.3 162.5h0.9M71.3 171.6h0.9M95.3 137.3h0.9M96.8 147.1h0.9M94.7 142.7h0.9M92.9 145.1h0.9M106.6 124.7h0.9M83.5 162.0h0.9M70.9 173.0h0.9M87.9 158.2h0.9M92.1 139.3h0.9M89.5 150.9h0.9M91.3 147.5h0.9M97.9 144.3h0.9M102.2 137.9h0.9M88.4 165.8h0.9M92.3 147.6h0.9M97.5 142.5h0.9M103.4 130.7h0.9M82.3 165.6h0.9M99.9 138.4h0.9M83.5 162.5h0.9M100.0 134.5h0.9M89.0 160.3h0.9M87.7 158.9h0.9M97.3 137.2h0.9M72.7 172.1h0.9M91.6 150.5h0.9M91.4 156.7h0.9M86.0 166.3h0.9M87.0 160.6h0.9M88.2 166.5h0.9M81.3 166.3h0.9M94.6 149.3h0.9M98.5 150.9h0.9M96.1 140.8h0.9M87.1 157.2h0.9M70.4 171.8h0.9M95.5 154.9h0.9M91.8 143.7h0.9M101.4 139.3h0.9M94.9 141.7h0.9M100.6 149.7h0.9M95.7 141.5h0.9M86.0 159.7h0.9M94.6 146.6h0.9M84.4 161.6h0.9M73.9 173.2h0.9M86.6 159.0h0.9M95.5 138.3h0.9M96.1 148.3h0.9M98.0 142.1h0.9M78.3 165.5h0.9M71.7 173.7h0.9M70.6 173.2h0.9M101.9 145.4h0.9M72.1 171.6h0.9M95.7 147.9h0.9M95.7 147.4h0.9M75.4 168.7h0.9M100.4 134.2h0.9M104.7 136.9h0.9M85.0 156.1h0.9M92.5 148.0h0.9M93.9 161.4h0.9M98.0 146.5h0.9M103.9 130.2h0.9M102.0 135.6h0.9M93.5 147.0h0.9M72.3 173.7h0.9M102.5 132.5h0.9M88.1 166.8h0.9M72.3 173.7h0.9M87.0 152.6h0.9M70.7 173.6h0.9M101.7 136.9h0.9M93.7 145.8h0.9M80.2 167.4h0.9M75.8 166.2h0.9M72.7 173.6h0.9M94.8 142.9h0.9M94.4 140.6h0.9M87.5 151.5h0.9M95.5 149.6h0.9M87.5 159.1h0.9M83.8 163.9h0.9M83.8 165.2h0.9M86.9 158.3h0.9M98.7 143.4h0.9M86.7 160.4h0.9M96.6 134.1h0.9M83.3 158.2h0.9M93.3 150.4h0.9M99.6 137.5h0.9M110.0 124.7h0.9M88.4 147.7h0.9M90.3 152.2h0.9M74.5 172.4h0.9M74.4 171.9h0.9M84.7 162.7h0.9M68.9 171.8h0.9M93.9 141.2h0.9M101.7 139.9h0.9M97.4 143.5h0.9M95.2 149.0h0.9M94.8 146.6h0.9M96.7 139.1h0.9M87.2 164.8h0.9M81.3 166.8h0.9M94.9 139.7h0.9M85.0 164.8h0.9M90.8 161.7h0.9M84.0 168.3h0.9M90.1 149.0h0.9M95.0 142.8h0.9M85.6 171.0h0.9M100.3 139.9h0.9M76.7 171.3h0.9M85.4 147.7h0.9M89.3 153.4h0.9M98.1 153.2h0.9M76.2 169.8h0.9M99.6 135.9h0.9M72.4 172.0h0.9M92.4 163.4h0.9M98.4 148.4h0.9M80.6 171.2h0.9M94.4 147.0h0.9M98.5 141.0h0.9M100.0 144.0h0.9M82.8 165.7h0.9M90.9 160.9h0.9M92.1 142.4h0.9M94.8 128.6h0.9M92.1 159.1h0.9M108.0 130.0h0.9M107.5 132.4h0.9M96.3 143.0h0.9M75.1 171.9h0.9M70.4 173.2h0.9M101.7 136.7h0.9M89.4 155.5h0.9M74.1 172.8h0.9M95.5 151.2h0.9M88.6 158.7h0.9M100.1 139.6h0.9M93.7 149.5h0.9M86.6 157.9h0.9M80.9 161.0h0.9M85.4 160.7h0.9M70.2 171.8h0.9M77.8 170.5h0.9M101.7 140.9h0.9M81.7 165.9h0.9M84.6 159.8h0.9M99.5 133.7h0.9M87.0 155.1h0.9M101.5 145.0h0.9M99.5 140.5h0.9M91.0 142.1h0.9M72.4 173.0h0.9M90.2 146.5h0.9M73.7 169.3h0.9" stroke="#000" stroke-width="0.9" stroke-opacity="0.33" fill="none"/>
</g>
<g>
<path d="M128.2 112.8h0.9M107.9 126.7h0.9M130.0 129.2h0.9M99.2 122.9h0.9M98.3 123.0h0.9M118.9 112.9h0.9M111.6 132.3h0.9M104.9 115.8h0.9M99.6 140.0h0.9M96.3 142.4h0.9M87.4 137.2h0.9M105.0 129.4h0.9M84.2 161.0h0.9M104.2 110.5h0.9M84.5 169.9h0.9M95.4 119.8h0.9M110.6 127.2h0.9M102.3 122.3h0.9M114.5 118.2h0.9M100.8 138.4h0.9M86.4 142.5h0.9M115.4 111.0h0.9M81.8 172.7h0.9M99.9 145.6h0.9M98.5 128.9h0.9M82.0 161.9h0.9M138.6 108.2h0.9M109.1 117.0h0.9M82.2 166.5h0.9M76.1 156.8h0.9M112.7 111.7h0.9M138.3 110.0h0.9M102.9 145.2h0.9M83.6 166.1h0.9M114.7 123.0h0.9M121.3 114.7h0.9M82.8 163.0h0.9M122.1 107.3h0.9M78.0 154.1h0.9M129.1 109.1h0.9M120.2 121.0h0.9M94.3 164.1h0.9M106.1 143.2h0.9M126.5 122.3h0.9M82.7 158.4h0.9M134.6 114.3h0.9M88.3 136.1h0.9M75.3 166.8h0.9M104.1 119.3h0.9M127.4 114.2h0.9M109.4 107.3h0.9M103.7 132.7h0.9M69.2 161.6h0.9M99.9 111.4h0.9M102.4 122.4h0.9M96.2 116.1h0.9M137.7 132.6h0.9M130.5 136.1h0.9M90.0 162.5h0.9M107.3 160.6h0.9M105.6 113.0h0.9M71.0 160.8h0.9M73.5 162.6h0.9M90.5 155.7h0.9M104.8 117.4h0.9M89.3 123.0h0.9M88.9 120.2h0.9M86.7 133.6h0.9M98.8 118.7h0.9M100.5 152.0h0.9M99.2 111.6h0.9M74.0 126.6h0.9M71.6 163.4h0.9M115.8 121.8h0.9M91.6 173.8h0.9M123.1 172.2h0.9M88.9 123.2h0.9M101.7 164.4h0.9M76.0 174.4h0.9M76.8 169.5h0.9M95.6 142.1h0.9M94.9 147.9h0.9M93.2 155.0h0.9M108.5 123.5h0.9M105.0 111.4h0.9M125.2 109.6h0.9M121.0 118.6h0.9M124.7 118.2h0.9M92.8 156.7h0.9M98.6 119.7h0.9M89.2 118.2h0.9M80.3 173.0h0.9M108.5 116.8h0.9M119.5 124.1h0.9M83.4 168.2h0.9M87.8 116.5h0.9M129.9 110.5h0.9M88.2 167.1h0.9M85.0 159.9h0.9M125.6 114.9h0.9M114.5 126.0h0.9M107.2 115.0h0.9M133.5 154.0h0.9M116.2 106.9h0.9M77.5 153.9h0.9M122.5 105.1h0.9M99.6 151.4h0.9M102.1 134.8h0.9M84.6 156.3h0.9M87.5 140.9h0.9M74.3 169.3h0.9M100.7 133.3h0.9M96.0 135.2h0.9M99.2 143.0h0.9M93.6 135.9h0.9M97.6 125.2h0.9M83.9 160.8h0.9M118.5 113.7h0.9M90.4 136.7h0.9M105.7 146.6h0.9M99.5 137.8h0.9M97.1 119.8h0.9M113.4 110.2h0.9M117.2 112.7h0.9M109.4 129.5h0.9M81.4 156.1h0.9M111.0 120.1h0.9M77.2 171.9h0.9M113.6 109.8h0.9M112.5 110.5h0.9M103.9 113.2h0.9M112.9 119.4h0.9M132.8 107.1h0.9M93.4 122.8h0.9M85.7 162.0h0.9M97.1 125.0h0.9M88.2 161.4h0.9M102.2 138.6h0.9M116.4 111.2h0.9M104.0 140.5h0.9M119.4 114.9h0.9M107.9 123.8h0.9M109.1 135.3h0.9M91.6 161.3h0.9M85.8 153.4h0.9M111.8 110.5h0.9M95.7 136.0h0.9M124.3 117.8h0.9M103.9 130.8h0.9M111.4 107.3h0.9M103.9 115.6h0.9M68.3 167.8h0.9M108.5 108.4h0.9M81.2 120.4h0.9M102.9 133.1h0.9M76.1 173.5h0.9M121.4 108.0h0.9M94.8 138.6h0.9M75.6 164.7h0.9M122.9 167.8h0.9M98.1 137.5h0.9M122.0 119.6h0.9M86.6 150.6h0.9M86.5 157.3h0.9M131.5 115.3h0.9M106.6 150.5h0.9M81.2 158.1h0.9M109.5 107.8h0.9M125.9 118.0h0.9M112.9 109.1h0.9M126.4 121.4h0.9M82.0 164.8h0.9M129.2 118.5h0.9M119.6 103.9h0.9M108.2 122.3h0.9M121.5 110.8h0.9M78.8 147.3h0.9M96.5 138.3h0.9M98.5 131.6h0.9M83.8 153.3h0.9M110.3 106.6h0.9M103.7 128.0h0.9M92.3 151.7h0.9M102.5 127.2h0.9M91.7 126.2h0.9M98.1 116.8h0.9M92.0 123.8h0.9M103.0 112.0h0.9M83.8 157.6h0.9M134.7 107.2h0.9M82.8 163.7h0.9M113.2 125.3h0.9M113.1 131.3h0.9M129.9 112.7h0.9M122.2 111.4h0.9M100.8 136.9h0.9M84.2 152.8h0.9M89.4 161.2h0.9M80.0 139.6h0.9M83.0 150.3h0.9M109.5 117.9h0.9" stroke="#000" stroke-width="0.9" stroke-opacity="0.16" fill="none"/>
<path d="M98.5 126.4h0.9M106.0 129.0h0.9M123.5 113.8h0.9M97.3 113.3h0.9M114.6 104.0h0.9M107.5 149.2h0.9M92.2 164.9h0.9M90.7 110.3h0.9M82.9 159.1h0.9M67.9 173.5h0.9M115.3 114.7h0.9M113.7 118.7h0.9M115.5 115.3h0.9M80.7 153.1h0.9M132.1 108.2h0.9M101.5 118.1h0.9M113.5 120.5h0.9M89.2 152.7h0.9M86.6 164.9h0.9M98.1 141.1h0.9M97.3 149.3h0.9M113.6 105.2h0.9M113.2 117.2h0.9M74.8 152.9h0.9M91.7 148.3h0.9M102.0 125.0h0.9M105.3 109.7h0.9M103.7 151.2h0.9M85.4 157.7h0.9M98.3 148.0h0.9M92.3 160.4h0.9M129.1 121.7h0.9M135.7 107.5h0.9M74.7 155.0h0.9M76.4 161.1h0.9M115.9 107.0h0.9M94.6 104.8h0.9M86.6 159.6h0.9M76.6 167.6h0.9M96.2 153.3h0.9M114.1 118.7h0.9M118.1 110.7h0.9M88.4 165.9h0.9M111.6 111.3h0.9M98.1 162.4h0.9M120.2 138.0h0.9M127.5 107.2h0.9M84.7 169.4h0.9M97.1 139.1h0.9M100.7 133.1h0.9M118.4 109.7h0.9M127.4 117.9h0.9M95.1 123.5h0.9M121.7 113.6h0.9M113.3 109.4h0.9M91.4 148.3h0.9M96.6 154.1h0.9M74.9 167.1h0.9M81.0 153.9h0.9M93.9 139.5h0.9M104.1 117.5h0.9M90.9 161.0h0.9M113.7 140.7h0.9M97.4 125.1h0.9M71.7 144.9h0.9M88.8 160.9h0.9M111.6 131.9h0.9M127.6 111.9h0.9M96.0 163.9h0.9M109.1 105.1h0.9M98.2 146.1h0.9M95.7 122.2h0.9M91.2 123.5h0.9M102.1 147.7h0.9M120.5 115.8h0.9M93.7 144.9h0.9M113.3 123.4h0.9M89.8 145.3h0.9M98.0 133.3h0.9M105.4 113.0h0.9M124.9 115.2h0.9M103.1 115.2h0.9M86.3 118.5h0.9M125.3 112.4h0.9M97.9 128.3h0.9M73.3 164.8h0.9M91.5 148.9h0.9M89.9 147.9h0.9M89.6 128.1h0.9M75.6 151.8h0.9M91.8 135.4h0.9M101.4 122.9h0.9M98.6 131.6h0.9M93.4 125.4h0.9M108.7 112.4h0.9M117.7 113.5h0.9M99.9 143.1h0.9M118.2 110.5h0.9M121.1 170.6h0.9M104.5 121.3h0.9M86.7 130.5h0.9M114.0 124.0h0.9M115.0 118.9h0.9M108.9 136.8h0.9M80.3 155.8h0.9M86.5 142.9h0.9M98.7 119.5h0.9M115.2 103.6h0.9M119.1 120.5h0.9M103.4 139.0h0.9M71.1 126.2h0.9M85.7 122.1h0.9M124.0 104.5h0.9M109.0 130.7h0.9M99.7 110.5h0.9M90.6 121.5h0.9M106.0 139.7h0.9M87.7 152.0h0.9M101.3 142.2h0.9M88.8 154.3h0.9M118.5 112.0h0.9M118.7 104.9h0.9M107.7 131.5h0.9M105.3 131.1h0.9M81.5 156.0h0.9M113.4 125.8h0.9M124.3 154.1h0.9M103.8 119.8h0.9M98.7 134.2h0.9M97.5 130.0h0.9M119.5 127.3h0.9M115.4 126.1h0.9M91.4 137.4h0.9M110.0 115.7h0.9M112.7 106.1h0.9M75.9 163.9h0.9M105.5 121.9h0.9M93.2 155.5h0.9M118.4 115.9h0.9M100.6 171.2h0.9M106.5 132.2h0.9M115.7 105.6h0.9M105.0 120.6h0.9M114.5 111.3h0.9M115.7 115.2h0.9M79.9 165.2h0.9M125.9 104.9h0.9M102.4 140.5h0.9M84.9 137.6h0.9M122.1 112.9h0.9M84.8 147.9h0.9M120.3 121.5h0.9M75.2 166.6h0.9M73.6 155.0h0.9M122.6 111.7h0.9M96.1 147.7h0.9M94.7 106.5h0.9M117.7 107.2h0.9M115.7 109.6h0.9M118.3 118.6h0.9M105.2 113.3h0.9M75.6 168.0h0.9M116.5 117.5h0.9M115.2 162.0h0.9M85.1 163.2h0.9M117.0 116.8h0.9M100.3 151.6h0.9M100.6 125.4h0.9M115.6 115.3h0.9M124.6 105.1h0.9M102.8 116.0h0.9M133.6 103.9h0.9M114.4 108.4h0.9M117.9 163.9h0.9M78.4 171.6h0.9M109.9 144.6h0.9M88.9 118.2h0.9M78.4 162.6h0.9M122.8 109.1h0.9M98.3 136.5h0.9M105.1 139.5h0.9M95.0 152.2h0.9M103.2 163.3h0.9M136.3 159.9h0.9M118.0 110.8h0.9M110.6 118.8h0.9M109.2 128.3h0.9M93.5 128.7h0.9M122.2 125.5h0.9M87.3 156.7h0.9M90.6 172.4h0.9M113.1 105.3h0.9M101.7 125.5h0.9M83.6 170.3h0.9M94.9 106.3h0.9M104.4 138.8h0.9M119.3 114.3h0.9M111.8 113.5h0.9M96.0 120.3h0.9M109.8 142.2h0.9M88.7 124.2h0.9" stroke="#000" stroke-width="0.9" stroke-opacity="0.16" fill="none"/>
</g>
<rect x="66.5" y="102.5" width="74" height="73" fill="none" stroke="#000" stroke-width="1.2"/>
<line x1="64.7" y1="106.5" x2="66.5" y2="106.5" stroke="#000" stroke-width="1.1" />
<line x1="64.7" y1="120.5" x2="66.5" y2="120.5" stroke="#000" stroke-width="1.1" />
<line x1="64.7" y1="134.9" x2="66.5" y2="134.9" stroke="#000" stroke-width="1.1" />
<line x1="64.7" y1="148.8" x2="66.5" y2="148.8" stroke="#000" stroke-width="1.1" />
<line x1="64.7" y1="162.5" x2="66.5" y2="162.5" stroke="#000" stroke-width="1.1" />
<line x1="66.8" y1="175.5" x2="66.8" y2="177.3" stroke="#000" stroke-width="1.1" />
<line x1="80.4" y1="175.5" x2="80.4" y2="177.3" stroke="#000" stroke-width="1.1" />
<line x1="94.7" y1="175.5" x2="94.7" y2="177.3" stroke="#000" stroke-width="1.1" />
<line x1="108.3" y1="175.5" x2="108.3" y2="177.3" stroke="#000" stroke-width="1.1" />
<line x1="122.3" y1="175.5" x2="122.3" y2="177.3" stroke="#000" stroke-width="1.1" />
<line x1="136.2" y1="175.5" x2="136.2" y2="177.3" stroke="#000" stroke-width="1.1" />
<path d="M99.6 124.6L114 128.5L113 157.3L96.7 171.7L79.4 175L75.2 173L82.3 141.5Z" fill="none" stroke="#000" stroke-width="2.5" stroke-linejoin="round"/>
<g>
<path d="M206.2 61.6h0.9M218.7 68.5h0.9M220.6 36.7h0.9M224.6 42.1h0.9M224.2 32.7h0.9M221.3 57.5h0.9M217.2 61.2h0.9M209.1 52.3h0.9M216.4 41.4h0.9M215.0 40.0h0.9M229.8 39.4h0.9M207.7 54.7h0.9M220.2 64.0h0.9M222.2 39.7h0.9M220.8 39.5h0.9M216.8 62.8h0.9M216.6 41.3h0.9M220.6 61.4h0.9M233.5 44.1h0.9M238.8 37.8h0.9M213.4 37.8h0.9M210.2 60.6h0.9M220.3 48.2h0.9M252.6 36.2h0.9M225.8 33.4h0.9M220.4 39.5h0.9M215.2 60.8h0.9M211.3 68.5h0.9M220.7 36.0h0.9M224.3 42.0h0.9M209.0 65.5h0.9M213.3 36.1h0.9M225.7 43.0h0.9M227.3 30.2h0.9M213.1 67.6h0.9M224.9 38.1h0.9M213.9 28.9h0.9M222.3 37.4h0.9M219.5 42.5h0.9M219.9 31.4h0.9M217.6 74.9h0.9M234.3 44.6h0.9M214.3 37.8h0.9M221.4 34.0h0.9M224.9 36.1h0.9M234.7 32.6h0.9M225.1 25.6h0.9M223.3 32.0h0.9M224.4 38.3h0.9M219.9 37.7h0.9M220.8 42.2h0.9M221.4 63.3h0.9M214.5 36.8h0.9M211.8 34.4h0.9M231.4 38.6h0.9M216.1 71.0h0.9M225.4 42.1h0.9M217.3 41.0h0.9M233.1 42.3h0.9M212.5 30.9h0.9M229.9 42.3h0.9M207.0 63.8h0.9M212.9 67.4h0.9M222.9 40.4h0.9M232.2 51.0h0.9M220.0 39.2h0.9M230.2 26.8h0.9M217.0 70.9h0.9M227.1 34.3h0.9M227.4 36.8h0.9M222.8 37.1h0.9M213.4 55.9h0.9M232.4 42.9h0.9M216.0 65.5h0.9M211.5 59.0h0.9M222.9 38.0h0.9M212.7 36.2h0.9M223.8 37.2h0.9M214.6 69.8h0.9M219.8 59.5h0.9M225.8 30.5h0.9M213.0 63.2h0.9M228.2 32.6h0.9M244.7 41.0h0.9M238.4 38.7h0.9M214.0 73.8h0.9M229.4 42.4h0.9M219.5 72.3h0.9M245.6 42.1h0.9M223.8 64.9h0.9M219.6 39.4h0.9M244.3 35.8h0.9M224.4 32.8h0.9M210.7 38.2h0.9M214.6 42.7h0.9M222.3 40.9h0.9M232.9 52.1h0.9M222.3 36.3h0.9M235.9 40.9h0.9M226.3 35.9h0.9M231.0 36.8h0.9M213.4 57.3h0.9M217.9 41.8h0.9M211.0 50.9h0.9M207.0 61.1h0.9M219.9 49.9h0.9M214.8 63.1h0.9M229.7 38.4h0.9M223.8 37.3h0.9M220.1 42.5h0.9M212.7 47.3h0.9M214.4 65.7h0.9M213.9 67.8h0.9M214.0 65.9h0.9M220.5 62.1h0.9M215.8 69.6h0.9M219.1 67.6h0.9M221.2 33.8h0.9M216.6 59.5h0.9M241.4 41.9h0.9M224.1 43.1h0.9M233.4 39.6h0.9M219.1 37.4h0.9M236.5 41.2h0.9M223.3 40.1h0.9M237.6 30.7h0.9M237.7 33.0h0.9M217.9 46.5h0.9M219.3 65.8h0.9M228.6 39.7h0.9M223.9 42.2h0.9M225.2 37.6h0.9M221.0 42.6h0.9M225.3 39.6h0.9M214.6 64.7h0.9M221.0 45.8h0.9M228.3 55.3h0.9M238.8 36.8h0.9M236.3 34.0h0.9M222.7 41.8h0.9M212.1 34.9h0.9M210.3 73.0h0.9M237.3 39.3h0.9M226.4 60.9h0.9M213.0 65.0h0.9M217.9 35.5h0.9M221.5 37.8h0.9M220.0 35.4h0.9M226.3 44.7h0.9M225.8 34.2h0.9M228.1 31.8h0.9M210.9 70.4h0.9M237.1 42.8h0.9M228.8 29.8h0.9M229.0 35.3h0.9M226.2 37.4h0.9M225.7 41.1h0.9M207.5 42.6h0.9M221.1 40.1h0.9M228.4 44.5h0.9M207.4 64.9h0.9M224.4 41.7h0.9M211.7 30.0h0.9M249.9 37.8h0.9M225.4 39.9h0.9M227.9 58.2h0.9M214.2 68.4h0.9M231.5 38.0h0.9M223.7 33.1h0.9M227.6 27.4h0.9M221.2 64.6h0.9M220.7 35.1h0.9M221.5 35.2h0.9M223.3 66.7h0.9M228.2 34.9h0.9M223.2 46.7h0.9M216.2 44.0h0.9M219.9 39.5h0.9M215.9 43.5h0.9M231.6 37.4h0.9M224.2 36.4h0.9M208.5 59.8h0.9M230.8 41.6h0.9M214.0 46.6h0.9M224.9 31.3h0.9M215.0 65.5h0.9M220.7 35.7h0.9M216.6 38.3h0.9M220.1 44.3h0.9M230.6 41.7h0.9M229.9 38.5h0.9M226.3 35.0h0.9M232.0 39.3h0.9M218.7 38.4h0.9M222.4 37.9h0.9" stroke="#000" stroke-width="0.9" stroke-opacity="0.3" fill="none"/>
<path d="M228.4 35.2h0.9M225.4 43.6h0.9M232.2 42.5h0.9M220.0 38.0h0.9M221.7 37.6h0.9M221.5 39.4h0.9M210.2 58.2h0.9M234.5 41.3h0.9M210.9 67.0h0.9M228.9 40.9h0.9M243.2 42.2h0.9M219.7 43.5h0.9M220.8 52.7h0.9M239.7 43.8h0.9M225.2 61.1h0.9M226.3 40.1h0.9M226.2 41.8h0.9M215.6 67.6h0.9M234.9 33.7h0.9M213.1 33.4h0.9M243.1 36.8h0.9M225.0 33.5h0.9M228.9 37.5h0.9M218.7 62.1h0.9M229.3 37.1h0.9M210.4 41.8h0.9M206.9 70.6h0.9M224.0 35.4h0.9M213.5 61.7h0.9M215.0 38.3h0.9M226.4 35.7h0.9M220.3 39.2h0.9M225.5 32.5h0.9M227.4 34.9h0.9M211.6 60.1h0.9M220.8 37.6h0.9M229.2 42.6h0.9M215.7 35.3h0.9M214.2 35.1h0.9M217.6 38.0h0.9M239.7 36.4h0.9M223.5 30.6h0.9M210.6 74.6h0.9M234.1 38.6h0.9M219.0 46.4h0.9M224.1 37.3h0.9M218.0 49.7h0.9M218.6 37.8h0.9M210.2 62.2h0.9M223.5 67.4h0.9M217.7 31.9h0.9M227.8 47.8h0.9M208.3 42.8h0.9M216.4 64.4h0.9M220.3 32.6h0.9M219.1 39.6h0.9M228.4 40.9h0.9M237.3 32.4h0.9M227.6 43.9h0.9M220.4 65.4h0.9M213.2 35.3h0.9M216.1 36.7h0.9M215.6 36.3h0.9M220.0 68.5h0.9M225.6 25.1h0.9M210.6 77.8h0.9M236.0 49.2h0.9M215.3 40.7h0.9M226.6 47.3h0.9M232.8 37.2h0.9M211.7 38.1h0.9M208.9 31.4h0.9M227.1 37.1h0.9M222.6 35.2h0.9M221.4 39.7h0.9M209.9 66.6h0.9M235.4 40.8h0.9M222.9 39.6h0.9M225.5 33.8h0.9M219.4 37.5h0.9M231.4 39.5h0.9M222.4 33.0h0.9M229.4 33.5h0.9M226.6 39.3h0.9M216.9 71.9h0.9M206.0 59.7h0.9M216.7 35.2h0.9M231.5 38.7h0.9M227.6 42.7h0.9M214.7 64.3h0.9M221.5 33.5h0.9M214.7 38.2h0.9M220.8 35.2h0.9M212.5 67.9h0.9M220.5 41.4h0.9M220.2 62.8h0.9M222.4 67.2h0.9M210.5 65.9h0.9M224.0 37.6h0.9M223.7 40.0h0.9M213.0 60.5h0.9M226.4 46.8h0.9M214.8 61.0h0.9M221.9 39.0h0.9M226.5 38.6h0.9M243.6 45.6h0.9M236.8 45.3h0.9M231.9 36.2h0.9M227.0 41.7h0.9M218.8 39.2h0.9M219.3 36.1h0.9M222.9 52.6h0.9M227.1 41.8h0.9M222.0 42.5h0.9M219.7 69.2h0.9M222.3 37.1h0.9M218.4 58.1h0.9M211.5 66.6h0.9M232.5 46.1h0.9M216.8 62.3h0.9M224.9 39.3h0.9M221.6 35.2h0.9M207.8 59.4h0.9M215.5 43.7h0.9M220.3 31.1h0.9M223.3 36.4h0.9M221.3 39.0h0.9M215.1 70.4h0.9M217.9 46.5h0.9M225.0 38.2h0.9M226.9 37.1h0.9M217.1 68.6h0.9M207.2 70.2h0.9M226.3 65.5h0.9M230.9 37.4h0.9M223.6 35.0h0.9M216.3 38.4h0.9M231.3 38.6h0.9M219.2 39.9h0.9M226.5 43.5h0.9M225.0 62.6h0.9M214.2 61.3h0.9M223.8 39.1h0.9M225.4 64.3h0.9M210.5 54.1h0.9M230.3 35.7h0.9M209.9 67.1h0.9M214.9 37.6h0.9M248.2 39.9h0.9M209.9 66.1h0.9M207.3 59.2h0.9M231.6 44.9h0.9M218.9 36.8h0.9M222.2 32.3h0.9M216.9 29.6h0.9M214.5 39.4h0.9M243.3 44.7h0.9M210.2 62.2h0.9M228.7 46.0h0.9M217.0 70.3h0.9M223.2 39.7h0.9M223.6 34.1h0.9M223.4 40.7h0.9M223.4 42.8h0.9M231.7 38.6h0.9M209.5 60.2h0.9M215.9 42.6h0.9M218.4 41.1h0.9M228.4 42.4h0.9M209.2 67.5h0.9M224.4 37.7h0.9M229.7 41.9h0.9M208.0 59.3h0.9M208.7 63.8h0.9M218.3 36.7h0.9M225.6 35.6h0.9M228.3 35.5h0.9M230.7 44.5h0.9M224.5 41.5h0.9M240.1 44.7h0.9M220.8 37.6h0.9M248.4 35.9h0.9M211.4 60.5h0.9M228.1 41.9h0.9M209.0 35.3h0.9M218.9 43.0h0.9M220.3 63.6h0.9M213.6 58.7h0.9M214.8 39.7h0.9M226.2 61.2h0.9M219.4 72.3h0.9M219.8 36.4h0.9M215.7 65.4h0.9M214.3 61.4h0.9M221.5 63.1h0.9" stroke="#000" stroke-width="0.9" stroke-opacity="0.3" fill="none"/>
<path d="M221.2 41.0h0.9M230.1 47.5h0.9M223.3 42.7h0.9M214.1 71.0h0.9M210.7 41.6h0.9M223.5 36.9h0.9M220.6 39.1h0.9M211.1 70.5h0.9M209.4 69.2h0.9M213.5 65.4h0.9M220.2 41.1h0.9M239.6 36.3h0.9M221.6 46.7h0.9M216.7 38.2h0.9M240.6 44.0h0.9M227.4 35.0h0.9M224.4 43.5h0.9M221.9 36.0h0.9M219.9 38.1h0.9M238.0 37.3h0.9M245.7 53.1h0.9M220.2 54.2h0.9M209.8 29.5h0.9M223.3 36.6h0.9M212.7 40.4h0.9M217.4 41.3h0.9M230.5 44.6h0.9M215.7 73.6h0.9M226.9 44.2h0.9M238.4 41.9h0.9M206.5 65.1h0.9M220.4 44.3h0.9M223.3 41.3h0.9M243.3 43.2h0.9M216.3 62.9h0.9M211.9 68.7h0.9M220.8 40.5h0.9M233.7 46.7h0.9M222.8 37.7h0.9M221.3 66.5h0.9M214.6 37.0h0.9M226.6 34.7h0.9M229.1 34.6h0.9M223.9 41.7h0.9M208.4 55.1h0.9M215.1 68.6h0.9M235.4 32.3h0.9M227.5 37.6h0.9M233.4 43.7h0.9M216.1 59.7h0.9M240.4 37.5h0.9M223.9 49.3h0.9M214.6 58.3h0.9M222.2 65.2h0.9M236.1 37.8h0.9M212.6 63.8h0.9M206.4 63.1h0.9M209.0 73.3h0.9M232.9 44.6h0.9M220.9 49.9h0.9M222.9 37.2h0.9M219.4 49.8h0.9M222.4 36.5h0.9M215.3 30.7h0.9M240.0 37.6h0.9M211.6 62.6h0.9M220.9 38.6h0.9M239.4 37.6h0.9M220.3 32.9h0.9M216.5 45.9h0.9M216.8 39.7h0.9M213.0 72.8h0.9M219.9 38.7h0.9M217.6 31.4h0.9M213.6 43.3h0.9M214.3 63.4h0.9M218.7 37.7h0.9M219.0 39.9h0.9M236.7 40.6h0.9M217.5 36.4h0.9M226.9 41.7h0.9M213.3 41.0h0.9M218.0 68.1h0.9M228.4 38.4h0.9M211.9 64.5h0.9M224.0 54.6h0.9M221.0 45.9h0.9M227.6 31.5h0.9M229.1 41.7h0.9M228.8 38.3h0.9M217.4 38.4h0.9M225.3 35.8h0.9M221.6 71.1h0.9M236.3 38.6h0.9M221.6 41.3h0.9M222.0 33.3h0.9M210.6 67.7h0.9M207.9 62.7h0.9M222.1 37.9h0.9M223.2 39.8h0.9M219.6 42.3h0.9M231.9 35.4h0.9M215.9 56.0h0.9M219.9 38.6h0.9M221.4 35.2h0.9M224.7 43.1h0.9M207.0 40.6h0.9M220.5 73.9h0.9M217.8 38.1h0.9M238.9 48.3h0.9M227.2 38.3h0.9M226.5 38.6h0.9M223.2 39.0h0.9M224.9 36.0h0.9M212.1 69.4h0.9M215.1 63.9h0.9M214.2 43.0h0.9M223.5 30.7h0.9M222.3 35.4h0.9M208.3 67.9h0.9M217.4 36.8h0.9M209.9 69.4h0.9M222.0 37.4h0.9M225.6 42.0h0.9M212.7 62.0h0.9M215.8 65.8h0.9M223.1 37.9h0.9M240.9 47.8h0.9M219.3 34.4h0.9M221.6 41.7h0.9M221.0 42.2h0.9M214.4 67.1h0.9M217.7 37.8h0.9M218.8 39.1h0.9M216.0 34.8h0.9M217.8 42.7h0.9M227.6 47.5h0.9M216.4 38.3h0.9M222.9 62.3h0.9M223.4 48.0h0.9M222.0 64.9h0.9M221.2 31.8h0.9M228.2 38.8h0.9M222.3 36.1h0.9M216.0 67.3h0.9M220.3 67.8h0.9M239.9 34.6h0.9M207.0 57.6h0.9M222.5 40.0h0.9M222.2 67.1h0.9M213.2 59.2h0.9M217.8 60.7h0.9M215.5 36.9h0.9M228.8 41.1h0.9M214.8 44.3h0.9M222.2 35.8h0.9M219.3 38.8h0.9M210.0 60.9h0.9M235.1 31.1h0.9M218.3 40.1h0.9M221.0 39.0h0.9M219.8 30.0h0.9M240.8 36.7h0.9M222.8 37.8h0.9M210.9 59.4h0.9M207.1 62.6h0.9M218.7 35.4h0.9M227.5 41.9h0.9M206.0 38.7h0.9M218.9 37.0h0.9M207.8 49.7h0.9M226.3 35.6h0.9M231.9 42.7h0.9M214.1 68.7h0.9M221.7 34.0h0.9M209.8 61.4h0.9M215.4 37.7h0.9M221.0 36.7h0.9M234.3 41.6h0.9M224.8 41.9h0.9M216.8 37.2h0.9M216.6 59.0h0.9M222.2 44.9h0.9M219.3 25.6h0.9M221.6 40.2h0.9M232.0 38.4h0.9M233.8 28.8h0.9M213.7 41.6h0.9M222.0 37.4h0.9M228.2 40.5h0.9M223.2 38.7h0.9M212.4 67.9h0.9M215.5 35.8h0.9M223.8 38.9h0.9M223.7 41.3h0.9" stroke="#000" stroke-width="0.9" stroke-opacity="0.3" fill="none"/>
<path d="M230.0 38.0h0.9M222.9 41.3h0.9M222.4 60.3h0.9M214.0 75.3h0.9M235.9 37.3h0.9M215.2 36.4h0.9M216.4 37.8h0.9M223.4 35.8h0.9M228.4 44.0h0.9M215.4 68.0h0.9M221.3 39.3h0.9M214.0 63.5h0.9M223.4 44.4h0.9M230.7 42.3h0.9M220.9 39.6h0.9M227.3 35.6h0.9M219.5 67.0h0.9M238.5 44.6h0.9M223.2 34.0h0.9M228.2 31.7h0.9M216.6 43.5h0.9M237.6 42.4h0.9M210.4 62.7h0.9M218.2 58.4h0.9M215.3 44.8h0.9M225.9 42.2h0.9M227.3 40.8h0.9M224.6 45.4h0.9M224.1 69.2h0.9M212.2 32.8h0.9M219.3 63.5h0.9M215.2 39.8h0.9M222.0 33.8h0.9M223.6 44.1h0.9M226.9 39.2h0.9M214.4 37.0h0.9M214.0 27.5h0.9M220.0 39.2h0.9M227.8 44.5h0.9M219.2 43.7h0.9M224.7 45.2h0.9M235.7 42.8h0.9M222.5 37.9h0.9M227.5 39.0h0.9M218.9 55.7h0.9M222.8 43.5h0.9M213.3 43.1h0.9M221.0 36.7h0.9M225.9 39.8h0.9M217.7 61.7h0.9M231.7 28.4h0.9M218.0 34.8h0.9M210.5 60.4h0.9M223.6 26.9h0.9M228.5 46.7h0.9M218.7 35.8h0.9M215.0 63.7h0.9M220.7 43.2h0.9M221.3 44.2h0.9M215.8 43.7h0.9M237.3 35.9h0.9M211.9 64.6h0.9M221.7 62.7h0.9M213.0 40.9h0.9M227.3 31.1h0.9M217.5 44.4h0.9M242.4 38.5h0.9M220.0 43.6h0.9M214.2 49.8h0.9M234.3 35.3h0.9M238.2 44.7h0.9M210.8 63.2h0.9M211.3 35.0h0.9M225.5 34.6h0.9M228.5 40.6h0.9M226.8 32.5h0.9M236.6 41.7h0.9M227.2 43.6h0.9M213.5 62.1h0.9M228.5 39.0h0.9M230.5 47.9h0.9M226.0 39.3h0.9M233.9 44.2h0.9M225.3 36.9h0.9M226.4 39.0h0.9M241.3 54.6h0.9M220.3 40.5h0.9M215.2 61.4h0.9M221.0 36.8h0.9M217.1 38.0h0.9M210.9 57.0h0.9M220.1 40.6h0.9M225.8 37.5h0.9M223.4 31.2h0.9M214.1 44.0h0.9M216.2 65.4h0.9M211.7 28.7h0.9M228.0 39.4h0.9M225.3 43.3h0.9M227.1 43.1h0.9M219.1 34.3h0.9M217.2 34.5h0.9M223.1 32.5h0.9M227.9 34.9h0.9M214.8 69.7h0.9M221.3 42.0h0.9M220.3 38.7h0.9M207.1 44.6h0.9M224.3 34.1h0.9M220.3 43.0h0.9M219.3 30.9h0.9M220.8 35.8h0.9M231.7 43.3h0.9M227.2 40.1h0.9M223.4 42.8h0.9M227.8 44.4h0.9M233.4 39.2h0.9M214.2 64.0h0.9M220.7 40.4h0.9M217.6 33.0h0.9M213.2 67.1h0.9M218.0 60.2h0.9M211.9 63.7h0.9M235.1 42.0h0.9M207.5 60.9h0.9M224.0 33.5h0.9M216.8 40.4h0.9M231.8 31.9h0.9M235.7 41.5h0.9M227.4 34.4h0.9M226.4 42.1h0.9M221.9 51.6h0.9M223.3 32.2h0.9M220.9 43.2h0.9M229.9 39.3h0.9M216.3 51.5h0.9M214.2 71.6h0.9M226.1 39.4h0.9M217.8 68.6h0.9M223.5 40.5h0.9M225.7 35.5h0.9M222.6 40.1h0.9M214.2 61.8h0.9M218.8 43.5h0.9M212.4 64.3h0.9M222.4 37.5h0.9M223.1 32.9h0.9M218.8 41.4h0.9M227.0 32.9h0.9M221.9 36.4h0.9M213.1 60.4h0.9M224.8 68.0h0.9M206.2 65.9h0.9M224.0 40.5h0.9M218.6 40.3h0.9M208.9 58.0h0.9M218.9 33.7h0.9M233.6 41.7h0.9M223.9 39.8h0.9M223.8 41.0h0.9M224.1 35.2h0.9M215.0 63.4h0.9M224.1 49.1h0.9M207.2 41.8h0.9M219.8 42.5h0.9M219.1 38.4h0.9M217.0 66.7h0.9M227.2 34.3h0.9M221.4 39.6h0.9M217.7 41.0h0.9M218.6 36.7h0.9M214.6 39.3h0.9M223.1 37.5h0.9M221.0 42.5h0.9M215.6 41.0h0.9M229.1 34.1h0.9M240.0 44.6h0.9M239.1 42.2h0.9M226.4 34.2h0.9M219.8 42.1h0.9M215.7 34.6h0.9M209.2 38.9h0.9M236.8 50.9h0.9M214.1 33.0h0.9M213.4 56.8h0.9M224.0 34.0h0.9M231.7 41.5h0.9M245.3 38.4h0.9M214.6 62.2h0.9M220.5 39.0h0.9M216.0 66.8h0.9M225.9 43.5h0.9M214.3 68.1h0.9M214.0 64.1h0.9" stroke="#000" stroke-width="0.9" stroke-opacity="0.3" fill="none"/>
<path d="M244.1 29.5h0.9M231.9 34.9h0.9M228.3 67.0h0.9M220.8 38.2h0.9M222.1 33.1h0.9M226.0 42.5h0.9M222.6 37.3h0.9M217.9 35.9h0.9M207.4 49.0h0.9M227.5 38.5h0.9M221.7 72.7h0.9M238.7 35.6h0.9M220.1 64.3h0.9M222.5 38.6h0.9M234.3 46.4h0.9M217.7 41.0h0.9M212.4 64.9h0.9M222.1 38.5h0.9M221.7 39.0h0.9M224.3 32.9h0.9M236.1 41.0h0.9M227.7 35.3h0.9M207.6 37.1h0.9M217.9 62.4h0.9M213.3 56.3h0.9M223.1 45.3h0.9M217.6 57.9h0.9M247.1 47.9h0.9M226.3 45.1h0.9M220.0 40.3h0.9M225.7 35.7h0.9M227.1 31.8h0.9M214.7 65.5h0.9M219.4 42.1h0.9M212.9 31.2h0.9M226.8 44.8h0.9M214.5 35.3h0.9M226.9 37.3h0.9M233.6 40.7h0.9M216.7 63.0h0.9M233.4 37.3h0.9M223.4 37.7h0.9M217.0 33.4h0.9M230.8 36.7h0.9M225.2 38.5h0.9M231.1 42.8h0.9M215.1 70.8h0.9M225.8 36.9h0.9M232.8 45.3h0.9M213.6 32.1h0.9M212.9 67.6h0.9M216.7 41.6h0.9M220.8 38.4h0.9M229.2 37.6h0.9M230.7 41.3h0.9M222.6 39.3h0.9M215.7 63.0h0.9M207.4 66.1h0.9M220.6 37.3h0.9M224.8 37.6h0.9M224.4 40.0h0.9M232.6 29.8h0.9M221.1 36.8h0.9M215.3 46.3h0.9M225.9 38.9h0.9M220.4 43.8h0.9M226.3 46.7h0.9M216.2 41.1h0.9M212.0 64.4h0.9M213.6 60.9h0.9M212.7 40.1h0.9M220.2 40.6h0.9M223.1 33.7h0.9M224.6 52.0h0.9M244.8 39.4h0.9M224.4 36.3h0.9M227.0 43.4h0.9M216.1 67.7h0.9M225.3 33.7h0.9M218.4 30.6h0.9M221.0 36.4h0.9M216.9 36.9h0.9M237.5 43.2h0.9M230.0 48.1h0.9M231.1 33.5h0.9M221.9 39.9h0.9M224.8 39.7h0.9M213.4 65.9h0.9M243.5 41.0h0.9M216.3 66.3h0.9M207.1 58.3h0.9M235.0 35.5h0.9M236.0 52.7h0.9M220.5 62.9h0.9M225.8 43.0h0.9M227.3 35.4h0.9M212.8 37.0h0.9M216.2 39.6h0.9M219.3 34.2h0.9M226.3 35.2h0.9M217.0 39.2h0.9M222.9 39.1h0.9M221.4 40.2h0.9M209.2 57.3h0.9M227.1 37.9h0.9M219.3 42.9h0.9M224.2 32.2h0.9M216.4 37.9h0.9M230.4 36.5h0.9M224.7 33.1h0.9M236.6 30.7h0.9M216.3 27.7h0.9M216.4 69.3h0.9M239.5 42.5h0.9M220.4 35.8h0.9M218.0 27.3h0.9M224.3 43.1h0.9M226.1 41.5h0.9M221.4 55.8h0.9M224.8 35.3h0.9M219.1 67.2h0.9M218.7 36.9h0.9M244.1 33.9h0.9M222.2 43.0h0.9M223.0 39.8h0.9M215.6 69.5h0.9M219.7 38.0h0.9M229.7 30.1h0.9M208.9 31.0h0.9M229.6 50.9h0.9M225.0 65.8h0.9M234.8 53.6h0.9M221.2 39.8h0.9M222.9 36.8h0.9M237.8 46.4h0.9M228.5 42.2h0.9M222.4 36.7h0.9M219.3 38.8h0.9M222.0 39.4h0.9M221.4 71.0h0.9M224.7 35.5h0.9M221.2 32.2h0.9M218.3 43.6h0.9M235.9 41.2h0.9M220.9 37.8h0.9M218.2 33.9h0.9M222.1 65.8h0.9M212.5 67.3h0.9M217.2 58.4h0.9M217.8 42.2h0.9M209.6 62.3h0.9M210.8 69.4h0.9M223.7 36.3h0.9M230.4 39.1h0.9M221.8 34.7h0.9M208.8 61.2h0.9M218.4 58.1h0.9M236.4 41.5h0.9M212.5 34.0h0.9M251.9 40.0h0.9M216.5 36.9h0.9M209.5 60.7h0.9M224.7 37.5h0.9M222.1 38.6h0.9M226.2 48.2h0.9M223.6 38.2h0.9M237.9 28.4h0.9M225.4 44.0h0.9M234.1 33.5h0.9M219.5 68.1h0.9M229.8 35.8h0.9M216.9 64.7h0.9M221.1 68.0h0.9M227.4 38.3h0.9M221.1 51.4h0.9M210.8 56.6h0.9M226.5 39.5h0.9M222.6 40.5h0.9M228.2 45.1h0.9M219.5 68.0h0.9M227.5 32.4h0.9M223.0 45.5h0.9M234.1 38.8h0.9M222.5 37.9h0.9M226.7 38.0h0.9M236.6 41.1h0.9M218.1 45.3h0.9M223.0 34.5h0.9M223.9 26.6h0.9M211.7 70.1h0.9M218.5 41.6h0.9M222.3 57.0h0.9M232.0 39.1h0.9M220.3 37.4h0.9" stroke="#000" stroke-width="0.9" stroke-opacity="0.3" fill="none"/>
</g>
<g>
<path d="M244.8 36.1h0.9M214.3 44.4h0.9M230.2 52.6h0.9M263.2 26.3h0.9M235.9 32.8h0.9M253.3 29.5h0.9M214.3 57.0h0.9M236.3 33.8h0.9M210.5 62.0h0.9M220.4 47.3h0.9M218.7 61.5h0.9M277.0 59.5h0.9M224.8 39.6h0.9M266.1 63.4h0.9M271.3 66.4h0.9M247.0 32.4h0.9M269.9 66.6h0.9M239.9 29.3h0.9M240.9 38.8h0.9M247.0 44.9h0.9M230.3 43.9h0.9M256.9 40.2h0.9M246.9 42.6h0.9M223.2 49.4h0.9M220.3 53.0h0.9M242.8 46.9h0.9M245.0 45.8h0.9M267.7 38.1h0.9M248.3 32.9h0.9M233.8 33.0h0.9M249.5 36.7h0.9M244.9 50.9h0.9M235.8 32.3h0.9M252.3 37.7h0.9M215.4 62.1h0.9M233.9 38.3h0.9M220.0 57.8h0.9M254.9 53.0h0.9M216.0 62.2h0.9M273.0 38.2h0.9M260.9 39.4h0.9M264.0 25.7h0.9M245.6 48.4h0.9M255.1 34.7h0.9M265.8 60.1h0.9M272.6 70.9h0.9M274.9 12.8h0.9M250.9 38.5h0.9M243.5 37.9h0.9M258.3 68.0h0.9M245.2 60.9h0.9M231.9 49.0h0.9M263.0 66.5h0.9M253.8 34.7h0.9M263.0 63.4h0.9M270.7 64.4h0.9M235.4 32.5h0.9M257.5 67.3h0.9M252.6 26.9h0.9M241.4 28.1h0.9M245.5 33.5h0.9M256.1 33.0h0.9M226.4 60.2h0.9M256.2 34.4h0.9M264.9 64.9h0.9M237.6 40.0h0.9M260.0 41.2h0.9M264.6 23.5h0.9M216.1 45.0h0.9M243.1 35.4h0.9M233.7 47.2h0.9M230.6 62.2h0.9M216.1 47.7h0.9M248.6 38.5h0.9M258.4 28.0h0.9M262.9 60.8h0.9M256.3 33.2h0.9M245.3 64.8h0.9M255.6 66.9h0.9M259.6 72.5h0.9M251.7 55.6h0.9M249.4 28.5h0.9M246.9 66.1h0.9M260.6 71.1h0.9M243.5 63.5h0.9M257.7 65.0h0.9M274.8 69.8h0.9M257.1 20.0h0.9M233.2 41.5h0.9M274.7 38.3h0.9M248.8 66.0h0.9M249.8 37.0h0.9M246.0 48.0h0.9M262.6 71.9h0.9M258.2 19.6h0.9M257.2 59.9h0.9M273.3 42.4h0.9M265.1 30.3h0.9M257.0 31.3h0.9M248.4 37.4h0.9M232.8 39.5h0.9M270.1 28.3h0.9M268.4 66.9h0.9M252.5 41.3h0.9M260.7 25.0h0.9M219.5 67.7h0.9M251.5 27.9h0.9M228.3 53.2h0.9M265.2 66.2h0.9M248.6 31.8h0.9M260.7 62.4h0.9M233.1 38.8h0.9M217.4 57.9h0.9M243.9 37.8h0.9M252.7 36.8h0.9M273.9 34.1h0.9M270.0 66.1h0.9M262.4 30.5h0.9M268.3 43.9h0.9M266.4 67.6h0.9M244.9 38.9h0.9M260.7 66.2h0.9M254.1 55.9h0.9M250.7 36.7h0.9M261.7 24.2h0.9M215.9 59.0h0.9M254.3 34.7h0.9M227.1 55.1h0.9M273.8 36.1h0.9M244.4 42.7h0.9M267.9 30.8h0.9M248.5 65.8h0.9M264.9 73.1h0.9M257.1 35.6h0.9M226.9 56.1h0.9M216.2 30.4h0.9M244.8 35.4h0.9M257.1 74.2h0.9M260.0 73.3h0.9M249.8 21.8h0.9M252.1 39.6h0.9M221.8 56.2h0.9M250.9 43.2h0.9M239.6 27.1h0.9M267.9 72.7h0.9M246.6 35.5h0.9M276.8 66.3h0.9M244.5 74.3h0.9M266.8 39.2h0.9M251.7 42.9h0.9M230.7 67.9h0.9M240.9 33.6h0.9M238.8 39.5h0.9M263.0 35.4h0.9M249.9 63.1h0.9M264.7 62.6h0.9M248.5 45.1h0.9M251.2 32.2h0.9M267.9 65.1h0.9M265.9 24.5h0.9M243.9 41.8h0.9M252.8 33.4h0.9M248.2 69.9h0.9M245.0 72.7h0.9M259.1 31.3h0.9M262.1 35.5h0.9M221.1 54.7h0.9M259.5 43.1h0.9M223.7 41.4h0.9M261.1 38.6h0.9M216.7 59.2h0.9M266.9 65.9h0.9M258.2 40.6h0.9M224.9 46.0h0.9M258.4 34.5h0.9M275.4 26.3h0.9M224.2 55.2h0.9M246.3 36.8h0.9M247.5 37.2h0.9M251.0 28.5h0.9M261.4 66.9h0.9M250.1 34.4h0.9M261.3 65.4h0.9M256.3 35.2h0.9M273.9 48.3h0.9M225.0 50.0h0.9M216.9 50.9h0.9M206.9 32.8h0.9M250.0 38.7h0.9M265.0 31.3h0.9M240.2 32.1h0.9M244.1 33.7h0.9M252.5 25.5h0.9M242.2 67.2h0.9M248.4 34.4h0.9M225.3 49.4h0.9M214.2 58.1h0.9M222.0 61.0h0.9M210.5 54.0h0.9M259.7 71.7h0.9M232.7 47.8h0.9M250.8 34.4h0.9M252.4 20.7h0.9M246.7 67.1h0.9M253.8 35.6h0.9M252.6 27.0h0.9M262.9 34.0h0.9M275.0 64.8h0.9M258.2 64.9h0.9M246.4 21.6h0.9M258.0 63.6h0.9M212.7 58.4h0.9M241.7 41.3h0.9M239.6 36.4h0.9M218.8 64.1h0.9M260.6 68.1h0.9M252.3 19.1h0.9M253.0 33.2h0.9M257.1 68.8h0.9M220.2 53.9h0.9M225.5 54.1h0.9M236.2 69.1h0.9M237.3 43.6h0.9M254.5 31.3h0.9M270.4 31.9h0.9M270.7 68.4h0.9M248.1 40.9h0.9M243.0 64.7h0.9M259.1 68.8h0.9M254.1 69.0h0.9M239.5 34.2h0.9M249.3 40.5h0.9M264.5 29.2h0.9M252.3 36.3h0.9M224.8 59.6h0.9M251.6 34.2h0.9M264.6 25.5h0.9M245.6 38.2h0.9M251.5 32.9h0.9M254.4 46.9h0.9M259.5 64.5h0.9M239.6 42.9h0.9M258.3 57.8h0.9M254.9 71.5h0.9M212.4 57.5h0.9M258.8 33.0h0.9M262.4 27.7h0.9" stroke="#000" stroke-width="0.9" stroke-opacity="0.17" fill="none"/>
<path d="M241.3 40.3h0.9M253.5 73.9h0.9M214.4 53.8h0.9M240.0 41.1h0.9M256.6 39.4h0.9M229.8 62.3h0.9M267.0 28.9h0.9M246.8 33.2h0.9M208.0 59.5h0.9M265.8 31.5h0.9M272.5 62.2h0.9M258.3 39.6h0.9M262.8 40.3h0.9M255.2 35.2h0.9M265.1 34.8h0.9M228.4 54.8h0.9M263.8 38.0h0.9M258.3 66.1h0.9M246.6 31.1h0.9M258.4 29.6h0.9M239.6 37.5h0.9M216.5 39.7h0.9M254.1 64.8h0.9M261.6 71.2h0.9M250.8 34.2h0.9M269.3 65.4h0.9M256.1 65.6h0.9M264.9 68.1h0.9M228.8 61.6h0.9M254.0 26.9h0.9M258.3 64.0h0.9M224.6 49.1h0.9M225.7 48.0h0.9M251.9 30.8h0.9M257.2 33.8h0.9M253.1 65.7h0.9M252.4 25.3h0.9M243.1 37.7h0.9M219.9 62.4h0.9M241.8 46.6h0.9M251.2 28.5h0.9M261.9 65.8h0.9M239.9 79.7h0.9M256.5 69.7h0.9M253.4 69.1h0.9M225.2 53.3h0.9M263.9 32.6h0.9M257.1 41.2h0.9M261.9 12.0h0.9M257.2 27.6h0.9M251.5 46.4h0.9M247.8 31.3h0.9M249.8 26.2h0.9M239.6 34.6h0.9M255.7 36.6h0.9M255.1 41.3h0.9M210.7 59.5h0.9M212.1 57.8h0.9M254.9 40.5h0.9M254.0 73.7h0.9M261.3 65.6h0.9M260.5 38.3h0.9M220.5 36.2h0.9M268.3 28.2h0.9M233.6 40.6h0.9M276.3 70.5h0.9M266.6 58.9h0.9M249.3 39.3h0.9M252.2 67.2h0.9M242.4 66.1h0.9M256.9 19.6h0.9M239.5 38.4h0.9M257.5 66.2h0.9M246.3 46.9h0.9M247.6 35.0h0.9M236.3 46.0h0.9M241.9 34.0h0.9M236.5 47.6h0.9M241.9 40.5h0.9M265.2 45.5h0.9M240.6 32.7h0.9M254.3 32.4h0.9M219.4 50.9h0.9M228.4 45.2h0.9M241.9 28.5h0.9M225.8 49.4h0.9M247.4 34.3h0.9M259.3 45.6h0.9M258.9 30.7h0.9M251.2 36.3h0.9M211.7 59.7h0.9M236.8 31.0h0.9M254.5 36.2h0.9M252.4 35.5h0.9M231.7 30.0h0.9M256.8 34.7h0.9M246.5 30.1h0.9M265.7 63.2h0.9M254.8 38.9h0.9M212.3 30.6h0.9M243.7 27.5h0.9M235.3 43.9h0.9M257.7 66.1h0.9M244.1 19.8h0.9M257.6 33.7h0.9M257.4 71.7h0.9M270.8 43.8h0.9M265.1 73.9h0.9M247.2 44.0h0.9M231.3 60.0h0.9M258.2 37.1h0.9M237.2 39.1h0.9M260.4 38.9h0.9M263.5 79.0h0.9M253.5 32.7h0.9M246.0 43.0h0.9M268.0 35.1h0.9M239.5 68.7h0.9M253.6 67.9h0.9M256.9 65.0h0.9M262.2 61.1h0.9M223.4 55.2h0.9M253.0 41.1h0.9M245.5 70.4h0.9M227.6 50.5h0.9M256.8 69.7h0.9M256.7 34.3h0.9M241.2 27.5h0.9M209.8 34.5h0.9M226.6 62.6h0.9M232.3 61.8h0.9M239.9 37.1h0.9M266.1 37.9h0.9M255.6 66.1h0.9M252.9 37.8h0.9M253.7 64.6h0.9M268.5 59.2h0.9M230.7 54.8h0.9M241.2 45.9h0.9M259.4 33.6h0.9M223.0 55.3h0.9M257.1 66.8h0.9M276.4 29.1h0.9M231.9 68.8h0.9M257.7 32.5h0.9M264.7 30.1h0.9M239.5 70.9h0.9M259.3 65.3h0.9M257.9 28.8h0.9M242.5 42.6h0.9M266.1 63.6h0.9M250.2 21.8h0.9M247.0 32.2h0.9M245.9 34.3h0.9M257.0 38.5h0.9M266.1 69.5h0.9M265.4 30.2h0.9M241.2 32.1h0.9M262.6 65.2h0.9M248.1 72.5h0.9M238.6 33.6h0.9M249.6 62.7h0.9M254.5 64.6h0.9M228.2 61.3h0.9M215.6 64.2h0.9M254.8 32.1h0.9M263.7 69.1h0.9M248.3 30.3h0.9M268.7 67.8h0.9M257.1 68.8h0.9M244.5 49.0h0.9M249.5 59.9h0.9M247.3 32.1h0.9M232.1 37.6h0.9M251.7 33.7h0.9M249.4 76.7h0.9M217.7 57.8h0.9M249.9 44.2h0.9M268.5 44.7h0.9M251.6 29.8h0.9M245.7 35.9h0.9M253.9 26.0h0.9M260.8 30.5h0.9M238.1 37.9h0.9M241.7 71.3h0.9M246.7 66.6h0.9M260.5 67.9h0.9M256.1 23.0h0.9M231.7 58.4h0.9M207.4 66.9h0.9M212.1 59.2h0.9M276.3 34.4h0.9M265.4 26.9h0.9M276.2 66.5h0.9M216.0 50.9h0.9M235.1 43.4h0.9M231.5 44.5h0.9M249.9 57.3h0.9M262.7 20.8h0.9M226.6 61.0h0.9M248.1 66.1h0.9M265.7 39.3h0.9M262.5 25.5h0.9M228.0 43.7h0.9M218.9 48.1h0.9M249.1 66.9h0.9M245.9 30.0h0.9M273.1 35.3h0.9M251.1 41.5h0.9M273.4 68.7h0.9M209.6 32.1h0.9M261.3 76.3h0.9M220.1 57.3h0.9M257.2 39.9h0.9M273.2 25.6h0.9M256.9 26.5h0.9M236.2 35.0h0.9M266.4 67.0h0.9M269.1 65.9h0.9M266.5 67.1h0.9M225.1 43.8h0.9M255.4 71.9h0.9M259.4 34.0h0.9M220.6 42.2h0.9M258.8 74.1h0.9M254.6 75.5h0.9M247.8 31.6h0.9M215.6 61.7h0.9M208.8 52.2h0.9M247.6 36.5h0.9M251.7 39.1h0.9M252.7 25.1h0.9M253.4 76.5h0.9M248.4 29.2h0.9M251.6 37.6h0.9M265.0 28.7h0.9M246.8 33.1h0.9M265.4 68.2h0.9M254.3 37.4h0.9M247.0 27.7h0.9M254.1 33.1h0.9M246.6 62.6h0.9M260.3 34.7h0.9M243.8 29.8h0.9M211.9 56.0h0.9M246.1 38.5h0.9" stroke="#000" stroke-width="0.9" stroke-opacity="0.17" fill="none"/>
</g>
<rect x="204.5" y="8.5" width="74" height="74" fill="none" stroke="#000" stroke-width="1.2"/>
<text x="192.35" y="19.8" font-size="6.90" font-weight="normal" fill="#222" >10</text>
<text x="198.7" y="17" font-size="4.69" fill="#222">5</text>
<text x="192.35" y="36.1" font-size="6.90" font-weight="normal" fill="#222" >10</text>
<text x="198.7" y="33.3" font-size="4.69" fill="#222">4</text>
<text x="192.35" y="52.6" font-size="6.90" font-weight="normal" fill="#222" >10</text>
<text x="198.7" y="49.8" font-size="4.69" fill="#222">3</text>
<text x="192.35" y="69.4" font-size="6.90" font-weight="normal" fill="#222" >10</text>
<text x="198.7" y="66.6" font-size="4.69" fill="#222">2</text>
<text x="197.51" y="78.4" font-size="6.90" font-weight="normal" fill="#222" >0</text>
<line x1="202.9" y1="16.2" x2="204.5" y2="16.2" stroke="#000" stroke-width="1.1" />
<line x1="202.9" y1="32.5" x2="204.5" y2="32.5" stroke="#000" stroke-width="1.1" />
<line x1="202.9" y1="48.8" x2="204.5" y2="48.8" stroke="#000" stroke-width="1.1" />
<line x1="202.9" y1="65.1" x2="204.5" y2="65.1" stroke="#000" stroke-width="1.1" />
<line x1="202.9" y1="74.5" x2="204.5" y2="74.5" stroke="#000" stroke-width="1.1" />
<line x1="202.9" y1="21.2" x2="204.5" y2="21.2" stroke="#000" stroke-width="1.1" />
<line x1="202.9" y1="37.7" x2="204.5" y2="37.7" stroke="#000" stroke-width="1.1" />
<line x1="202.9" y1="54" x2="204.5" y2="54" stroke="#000" stroke-width="1.1" />
<line x1="202.9" y1="70.3" x2="204.5" y2="70.3" stroke="#000" stroke-width="1.1" />
<text x="209.17" y="93" font-size="6.90" font-weight="normal" fill="#222" >0</text>
<text x="215.15" y="93" font-size="6.90" font-weight="normal" fill="#222" >10</text>
<text x="221.5" y="90.2" font-size="4.69" fill="#222">2</text>
<text x="233.95" y="93" font-size="6.90" font-weight="normal" fill="#222" >10</text>
<text x="240.3" y="90.2" font-size="4.69" fill="#222">3</text>
<text x="250.55" y="93" font-size="6.90" font-weight="normal" fill="#222" >10</text>
<text x="256.9" y="90.2" font-size="4.69" fill="#222">4</text>
<text x="267.45" y="93" font-size="6.90" font-weight="normal" fill="#222" >10</text>
<text x="273.8" y="90.2" font-size="4.69" fill="#222">5</text>
<line x1="211.1" y1="82.5" x2="211.1" y2="84.1" stroke="#000" stroke-width="1.1" />
<line x1="218.5" y1="82.5" x2="218.5" y2="84.1" stroke="#000" stroke-width="1.1" />
<line x1="235.5" y1="82.5" x2="235.5" y2="84.1" stroke="#000" stroke-width="1.1" />
<line x1="252.5" y1="82.5" x2="252.5" y2="84.1" stroke="#000" stroke-width="1.1" />
<line x1="269.5" y1="82.5" x2="269.5" y2="84.1" stroke="#000" stroke-width="1.1" />
<line x1="206.5" y1="82.5" x2="206.5" y2="84.1" stroke="#000" stroke-width="1.1" />
<line x1="214" y1="82.5" x2="214" y2="84.1" stroke="#000" stroke-width="1.1" />
<line x1="226" y1="82.5" x2="226" y2="84.1" stroke="#000" stroke-width="1.1" />
<line x1="243" y1="82.5" x2="243" y2="84.1" stroke="#000" stroke-width="1.1" />
<line x1="260" y1="82.5" x2="260" y2="84.1" stroke="#000" stroke-width="1.1" />
<line x1="276" y1="82.5" x2="276" y2="84.1" stroke="#000" stroke-width="1.1" />
<rect x="205.3" y="56.2" width="24" height="18.7" fill="none" stroke="#000" stroke-width="2.3"/>
<g>
<path d="M215.1 112.5h0.9M225.7 110.6h0.9M215.6 115.9h0.9M237.0 125.8h0.9M241.2 121.3h0.9M213.4 127.9h0.9M217.1 126.0h0.9M219.6 113.2h0.9M234.3 126.0h0.9M214.3 115.9h0.9M217.5 114.0h0.9M214.4 127.3h0.9M214.0 123.6h0.9M214.9 119.2h0.9M210.7 123.6h0.9M246.5 120.8h0.9M244.4 124.3h0.9M212.8 110.6h0.9M228.8 117.1h0.9M223.0 112.6h0.9M213.7 111.8h0.9M212.0 124.1h0.9M217.9 122.3h0.9M223.8 117.1h0.9M210.9 108.0h0.9M210.6 114.1h0.9M251.6 126.8h0.9M242.1 121.7h0.9M215.1 124.0h0.9M216.5 114.5h0.9M213.8 108.1h0.9M237.1 124.4h0.9M214.5 123.4h0.9M213.3 122.3h0.9M216.0 129.0h0.9M219.2 114.4h0.9M233.8 125.8h0.9M212.3 111.1h0.9M212.0 126.7h0.9M216.3 113.2h0.9M212.3 126.9h0.9M219.7 114.8h0.9M217.7 123.4h0.9M209.7 126.1h0.9M218.0 125.7h0.9M218.4 123.8h0.9M213.9 126.2h0.9M226.5 108.6h0.9M213.2 122.6h0.9M215.0 117.7h0.9M237.8 127.5h0.9M237.5 125.1h0.9M216.0 123.5h0.9M235.2 123.6h0.9M214.4 118.3h0.9M253.4 124.5h0.9M209.1 121.3h0.9M239.1 124.4h0.9M217.0 118.5h0.9M222.5 114.4h0.9M245.0 122.7h0.9M213.5 121.2h0.9M216.8 126.4h0.9M247.2 126.2h0.9M220.7 114.8h0.9M206.6 128.8h0.9M214.5 128.7h0.9M229.3 125.0h0.9M217.0 109.5h0.9M211.5 127.7h0.9M221.8 112.7h0.9M238.1 123.8h0.9M218.8 122.3h0.9M215.3 126.3h0.9M215.7 115.8h0.9M242.4 123.0h0.9M221.6 113.7h0.9M221.3 127.0h0.9M219.1 120.1h0.9M232.1 126.4h0.9M221.7 110.0h0.9M258.8 124.7h0.9M249.2 122.7h0.9M237.9 128.5h0.9M215.5 123.9h0.9M211.0 113.4h0.9M240.7 124.9h0.9M243.1 122.2h0.9M222.4 115.3h0.9M223.0 114.9h0.9M214.7 110.6h0.9M213.4 120.8h0.9M222.7 112.1h0.9M216.3 125.5h0.9M217.9 126.1h0.9M239.1 121.6h0.9M220.8 109.4h0.9M214.6 114.0h0.9M219.6 115.9h0.9M213.6 127.1h0.9M217.4 112.0h0.9M213.9 122.5h0.9M219.9 110.5h0.9M213.8 114.5h0.9M217.0 112.1h0.9M209.4 126.0h0.9M236.8 125.2h0.9M218.8 113.9h0.9M233.7 124.2h0.9M214.6 126.9h0.9M217.0 111.9h0.9M247.2 127.0h0.9M234.0 123.5h0.9M226.8 125.4h0.9M225.9 109.1h0.9M220.3 127.7h0.9M213.9 129.8h0.9M219.7 111.6h0.9M213.0 126.3h0.9M215.7 124.9h0.9M218.4 122.3h0.9M206.3 124.6h0.9M242.0 124.0h0.9M213.3 126.2h0.9M218.9 123.4h0.9M209.5 112.1h0.9M225.3 114.9h0.9M217.7 112.3h0.9M241.9 123.4h0.9M220.6 113.6h0.9M215.2 109.2h0.9M212.7 121.5h0.9M255.2 124.9h0.9M216.2 123.5h0.9M219.6 110.9h0.9M212.2 125.9h0.9M224.0 112.3h0.9M219.5 114.0h0.9M219.4 111.0h0.9M246.5 121.6h0.9M211.3 119.4h0.9M244.5 126.2h0.9M220.7 112.8h0.9M208.9 121.9h0.9M212.0 112.3h0.9M217.7 112.6h0.9M245.8 126.2h0.9M213.9 131.1h0.9M217.7 113.7h0.9M241.0 125.2h0.9M214.0 112.2h0.9M244.8 123.4h0.9M232.6 126.3h0.9M217.5 122.8h0.9M212.4 127.7h0.9M218.1 124.3h0.9M210.0 125.5h0.9M238.1 125.1h0.9M218.0 111.6h0.9M211.5 127.2h0.9M221.9 117.8h0.9M214.8 123.6h0.9M243.6 120.9h0.9M214.5 123.0h0.9M215.7 114.9h0.9M207.6 124.7h0.9M215.9 125.8h0.9M220.3 117.6h0.9M212.9 124.2h0.9M213.0 125.6h0.9M215.6 112.6h0.9M212.4 122.9h0.9M217.4 109.7h0.9M252.9 126.7h0.9M212.5 123.2h0.9M224.1 117.9h0.9M252.2 127.7h0.9M220.1 111.9h0.9M245.8 121.6h0.9M219.7 126.7h0.9M216.8 128.5h0.9M232.7 123.3h0.9M215.8 127.6h0.9M210.5 125.6h0.9M233.9 126.2h0.9M209.9 114.3h0.9M240.7 128.1h0.9M209.6 123.8h0.9M241.0 122.7h0.9M238.4 127.1h0.9M213.8 110.7h0.9M215.0 105.9h0.9M212.8 119.3h0.9M220.1 116.5h0.9M255.5 125.5h0.9M215.7 122.5h0.9M222.5 114.0h0.9M225.0 114.7h0.9M222.4 115.5h0.9M212.9 124.6h0.9M217.4 111.7h0.9M211.5 123.2h0.9M243.2 123.0h0.9M215.1 128.0h0.9M224.4 117.1h0.9M222.0 115.6h0.9M217.8 112.0h0.9M219.4 114.5h0.9M211.2 123.3h0.9M221.8 110.2h0.9M217.3 126.2h0.9M243.9 124.1h0.9M218.6 125.1h0.9M248.2 123.0h0.9M214.0 117.2h0.9M242.0 125.4h0.9M228.3 125.1h0.9M217.2 125.3h0.9M216.7 112.2h0.9M218.2 125.6h0.9M218.0 113.2h0.9M209.4 126.1h0.9M209.2 126.8h0.9M219.7 115.5h0.9M219.2 120.1h0.9M210.0 111.7h0.9M249.2 123.4h0.9M213.8 125.1h0.9M213.8 124.1h0.9M220.7 113.4h0.9M218.1 112.4h0.9M213.3 124.6h0.9M241.2 124.2h0.9M216.3 125.1h0.9M212.9 122.4h0.9M215.5 111.1h0.9M221.1 110.2h0.9M216.5 111.7h0.9M234.1 121.7h0.9M217.2 112.5h0.9M218.1 113.9h0.9M212.8 113.6h0.9M222.5 126.6h0.9M213.3 125.2h0.9" stroke="#000" stroke-width="0.9" stroke-opacity="0.33" fill="none"/>
<path d="M232.8 122.1h0.9M220.9 110.3h0.9M214.9 126.4h0.9M222.3 111.7h0.9M213.7 124.4h0.9M215.3 114.0h0.9M208.3 115.3h0.9M224.1 114.0h0.9M214.8 121.0h0.9M250.3 121.7h0.9M217.8 109.1h0.9M214.3 124.2h0.9M215.9 113.6h0.9M232.4 123.7h0.9M253.6 120.7h0.9M210.4 120.8h0.9M222.7 111.2h0.9M236.1 122.1h0.9M218.1 124.3h0.9M216.1 113.4h0.9M213.0 108.9h0.9M207.5 126.6h0.9M243.9 127.0h0.9M210.7 124.4h0.9M214.1 115.7h0.9M218.7 124.4h0.9M230.7 123.8h0.9M234.7 124.6h0.9M238.3 127.0h0.9M215.1 111.8h0.9M215.6 112.0h0.9M216.6 115.1h0.9M214.5 122.7h0.9M214.9 124.9h0.9M238.0 123.0h0.9M208.5 125.8h0.9M222.9 114.6h0.9M246.2 123.1h0.9M223.1 112.4h0.9M216.7 115.1h0.9M222.1 123.6h0.9M228.1 127.3h0.9M218.5 123.4h0.9M224.1 113.7h0.9M215.4 112.8h0.9M219.8 115.7h0.9M214.9 124.1h0.9M218.1 111.9h0.9M224.2 116.1h0.9M209.2 122.8h0.9M209.4 122.6h0.9M213.2 112.2h0.9M213.5 123.8h0.9M217.5 113.2h0.9M218.1 111.2h0.9M249.2 123.4h0.9M236.7 122.9h0.9M247.6 122.8h0.9M210.0 124.4h0.9M214.4 123.7h0.9M221.6 116.3h0.9M216.0 114.3h0.9M220.9 114.6h0.9M216.1 123.6h0.9M219.3 111.7h0.9M212.2 123.9h0.9M218.5 110.7h0.9M213.0 125.7h0.9M219.1 119.1h0.9M220.3 115.8h0.9M247.2 124.6h0.9M213.6 125.4h0.9M216.3 109.9h0.9M221.5 113.3h0.9M223.7 115.6h0.9M217.9 108.4h0.9M221.8 117.9h0.9M216.0 125.3h0.9M222.2 113.3h0.9M213.4 119.3h0.9M235.9 123.3h0.9M225.5 117.1h0.9M216.8 126.3h0.9M220.7 110.6h0.9M227.8 123.4h0.9M241.5 123.0h0.9M224.0 116.8h0.9M215.5 124.8h0.9M213.4 111.4h0.9M228.0 110.9h0.9M210.7 113.2h0.9M216.4 113.3h0.9M219.4 112.5h0.9M212.9 125.6h0.9M214.9 123.2h0.9M210.8 112.9h0.9M214.0 129.4h0.9M241.8 122.5h0.9M220.0 114.4h0.9M217.3 115.0h0.9M247.9 122.5h0.9M256.9 124.3h0.9M236.8 126.7h0.9M215.3 126.6h0.9M213.6 125.5h0.9M214.0 115.9h0.9M220.5 115.8h0.9M218.6 113.1h0.9M211.9 128.3h0.9M212.8 127.8h0.9M219.0 110.4h0.9M213.6 113.5h0.9M211.7 111.5h0.9M239.0 124.2h0.9M216.4 126.5h0.9M210.4 124.7h0.9M219.6 124.2h0.9M213.5 127.9h0.9M213.2 121.6h0.9M221.3 114.0h0.9M218.3 113.7h0.9M216.4 121.3h0.9M251.5 125.8h0.9M210.4 124.3h0.9M237.4 127.1h0.9M213.6 114.1h0.9M218.6 120.4h0.9M255.0 123.3h0.9M213.8 121.2h0.9M219.6 115.0h0.9M216.0 112.9h0.9M243.7 126.9h0.9M215.6 120.2h0.9M219.3 109.3h0.9M219.2 123.7h0.9M214.4 114.4h0.9M215.5 116.4h0.9M216.0 122.6h0.9M219.9 130.4h0.9M226.0 113.1h0.9M214.7 124.1h0.9M251.3 122.0h0.9M252.1 124.2h0.9M212.7 119.1h0.9M244.8 121.8h0.9M250.0 127.1h0.9M223.5 112.2h0.9M236.9 129.2h0.9M216.1 115.2h0.9M217.5 113.9h0.9M218.6 114.9h0.9M217.8 108.7h0.9M218.0 118.3h0.9M217.0 113.3h0.9M217.5 123.4h0.9M237.6 124.9h0.9M217.9 112.2h0.9M217.9 114.5h0.9M218.4 119.1h0.9M217.7 122.6h0.9M244.7 125.1h0.9M212.2 124.7h0.9M218.9 114.6h0.9M208.4 125.7h0.9M214.1 117.8h0.9M218.4 123.6h0.9M211.1 127.2h0.9M219.0 113.0h0.9M207.2 119.6h0.9M240.7 124.8h0.9M213.4 125.4h0.9M240.7 125.5h0.9M255.5 126.7h0.9M208.6 128.9h0.9M230.6 123.8h0.9M218.1 126.2h0.9M261.1 126.1h0.9M215.6 126.7h0.9M228.9 124.6h0.9M225.5 111.5h0.9M242.1 125.1h0.9M222.6 114.9h0.9M222.6 112.7h0.9M240.9 128.2h0.9M234.1 124.2h0.9M214.0 124.0h0.9M214.4 112.7h0.9M212.9 114.0h0.9M224.0 113.6h0.9M248.8 122.7h0.9M217.8 113.0h0.9M242.5 126.7h0.9M219.8 110.2h0.9M241.8 123.4h0.9M216.7 125.8h0.9M213.8 125.0h0.9M215.4 116.3h0.9M213.2 126.1h0.9M256.0 128.2h0.9M210.8 123.9h0.9M217.5 125.5h0.9M220.1 114.9h0.9M213.8 109.2h0.9M244.9 126.2h0.9M261.5 122.9h0.9M224.9 111.5h0.9M211.1 126.7h0.9M219.3 126.2h0.9M253.5 127.0h0.9M219.3 113.2h0.9M219.8 122.6h0.9M220.4 114.0h0.9M220.8 116.1h0.9M223.8 115.3h0.9M212.3 124.7h0.9M209.0 124.6h0.9M215.8 113.6h0.9M222.9 112.9h0.9M218.8 110.9h0.9M214.4 126.1h0.9M217.2 116.4h0.9M212.4 126.1h0.9M237.4 121.8h0.9M212.8 112.0h0.9M246.0 121.8h0.9M217.2 117.9h0.9M215.4 111.6h0.9M245.0 125.3h0.9M249.0 122.9h0.9M217.7 125.6h0.9M231.7 123.8h0.9M247.7 124.1h0.9M225.5 116.1h0.9M247.2 126.8h0.9M240.6 123.1h0.9M218.8 124.9h0.9M227.7 127.1h0.9M257.1 123.8h0.9M214.7 110.1h0.9M225.3 123.9h0.9M259.3 121.2h0.9M218.3 110.4h0.9M231.4 125.1h0.9M211.8 111.6h0.9" stroke="#000" stroke-width="0.9" stroke-opacity="0.33" fill="none"/>
<path d="M234.1 123.8h0.9M218.1 113.3h0.9M235.9 125.6h0.9M224.2 128.3h0.9M222.1 115.7h0.9M251.1 125.0h0.9M209.3 117.1h0.9M222.5 118.0h0.9M214.1 123.0h0.9M215.1 132.7h0.9M225.4 111.1h0.9M221.3 115.6h0.9M218.5 116.7h0.9M211.7 125.5h0.9M213.1 125.6h0.9M234.1 121.7h0.9M219.6 113.5h0.9M222.3 111.1h0.9M220.8 117.1h0.9M208.2 124.9h0.9M210.3 123.2h0.9M218.6 114.2h0.9M245.7 124.5h0.9M213.6 124.4h0.9M248.6 126.2h0.9M207.2 122.7h0.9M225.9 112.5h0.9M258.7 124.4h0.9M235.1 126.6h0.9M218.4 114.5h0.9M235.4 128.1h0.9M216.8 107.9h0.9M251.9 121.9h0.9M212.6 117.6h0.9M213.0 115.7h0.9M211.8 125.1h0.9M237.0 123.6h0.9M242.2 125.0h0.9M224.7 111.2h0.9M214.7 124.0h0.9M218.7 114.2h0.9M220.3 115.6h0.9M234.3 125.5h0.9M215.7 126.0h0.9M256.3 125.5h0.9M210.6 128.7h0.9M215.6 120.2h0.9M244.3 124.6h0.9M214.6 124.0h0.9M208.1 126.9h0.9M211.8 124.6h0.9M217.7 119.0h0.9M214.1 126.4h0.9M256.6 125.0h0.9M208.2 125.4h0.9M240.6 126.0h0.9M229.7 123.2h0.9M241.9 123.6h0.9M215.3 114.0h0.9M208.7 124.1h0.9M213.7 118.7h0.9M221.0 113.8h0.9M216.3 127.5h0.9M216.8 112.0h0.9M217.2 112.0h0.9M213.7 122.7h0.9M246.0 127.4h0.9M255.0 127.2h0.9M226.5 106.1h0.9M214.5 119.9h0.9M223.3 117.7h0.9M212.1 125.6h0.9M236.3 127.9h0.9M217.6 117.4h0.9M228.5 113.8h0.9M218.6 125.1h0.9M212.8 122.4h0.9M247.1 123.0h0.9M225.3 113.4h0.9M211.9 124.3h0.9M211.2 114.7h0.9M253.8 128.8h0.9M216.1 125.4h0.9M222.7 113.0h0.9M217.3 112.8h0.9M217.2 126.1h0.9M220.7 111.8h0.9M247.8 126.8h0.9M211.6 128.4h0.9M223.0 115.4h0.9M234.6 129.0h0.9M233.2 125.4h0.9M219.9 125.2h0.9M212.2 109.4h0.9M218.2 115.0h0.9M220.0 114.4h0.9M211.7 124.4h0.9M209.3 127.6h0.9M221.4 117.4h0.9M214.4 117.7h0.9M223.0 124.9h0.9M222.2 110.7h0.9M223.8 109.1h0.9M241.3 121.8h0.9M222.0 117.5h0.9M216.5 121.4h0.9M226.3 113.9h0.9M220.6 118.8h0.9M216.3 122.6h0.9M218.0 121.3h0.9M223.4 113.7h0.9M235.8 126.5h0.9M215.2 126.3h0.9M253.8 122.2h0.9M239.4 123.2h0.9M219.6 116.2h0.9M235.4 125.5h0.9M213.9 113.7h0.9M208.5 126.4h0.9M221.6 121.4h0.9M217.0 115.1h0.9M212.1 116.8h0.9M214.8 124.7h0.9M213.9 126.9h0.9M211.2 124.6h0.9M212.9 126.4h0.9M229.1 115.1h0.9M216.6 111.0h0.9M215.2 110.4h0.9M218.8 124.1h0.9M212.5 113.9h0.9M217.4 115.6h0.9M227.1 122.2h0.9M238.4 125.3h0.9M216.9 124.6h0.9M215.1 112.7h0.9M211.9 124.0h0.9M222.5 117.3h0.9M214.7 115.8h0.9M209.8 112.8h0.9M218.4 123.9h0.9M216.2 125.4h0.9M235.4 125.0h0.9M221.0 125.7h0.9M206.8 122.0h0.9M207.1 112.3h0.9M231.7 125.7h0.9M233.5 120.5h0.9M210.7 118.8h0.9M249.7 123.2h0.9M219.6 116.5h0.9M218.3 112.7h0.9M234.0 124.5h0.9M216.8 126.6h0.9M212.0 123.1h0.9M217.2 121.9h0.9M224.9 126.2h0.9M213.3 125.5h0.9M235.6 125.2h0.9M233.7 124.3h0.9M219.4 117.1h0.9M242.3 124.3h0.9M213.6 114.6h0.9M221.9 114.8h0.9M212.3 127.7h0.9M209.2 126.1h0.9M230.8 125.4h0.9M243.1 123.3h0.9M248.9 125.3h0.9M240.9 124.6h0.9M213.3 124.9h0.9M222.1 113.2h0.9M216.1 116.7h0.9M241.4 123.9h0.9M222.8 116.2h0.9M211.0 125.5h0.9M218.4 113.8h0.9M217.7 112.2h0.9M222.8 113.8h0.9M214.9 113.2h0.9M231.5 121.9h0.9M216.0 113.4h0.9M221.5 114.4h0.9M250.6 127.7h0.9M242.8 126.2h0.9M226.1 112.2h0.9M211.2 120.4h0.9M211.7 123.9h0.9M217.7 125.0h0.9M222.2 110.8h0.9M216.3 128.8h0.9M251.9 123.6h0.9M226.4 114.7h0.9M214.7 126.4h0.9M210.5 125.4h0.9M233.1 127.6h0.9M219.4 120.7h0.9M213.2 124.5h0.9M216.3 125.3h0.9M216.4 125.6h0.9M235.1 125.0h0.9M210.3 126.4h0.9M215.0 115.0h0.9M248.2 124.6h0.9M206.9 128.6h0.9M214.1 124.4h0.9M243.6 125.3h0.9M220.8 110.9h0.9M248.2 125.1h0.9M252.0 124.9h0.9M218.2 124.8h0.9M216.3 126.9h0.9M213.7 123.6h0.9M213.3 120.8h0.9M211.8 119.6h0.9M222.5 115.7h0.9M221.3 117.9h0.9M211.1 127.7h0.9M214.3 124.2h0.9M215.0 127.1h0.9M219.9 115.1h0.9M247.9 125.1h0.9M242.9 122.2h0.9M215.8 127.6h0.9M211.9 126.2h0.9M212.6 122.1h0.9M213.2 124.0h0.9M217.3 113.2h0.9M221.3 114.5h0.9M210.4 126.4h0.9M209.1 127.9h0.9M244.0 124.4h0.9M243.9 120.1h0.9M220.3 113.6h0.9M240.6 126.3h0.9M219.7 110.5h0.9M216.9 115.7h0.9M224.3 110.9h0.9M215.8 112.7h0.9M218.8 125.2h0.9M211.8 123.8h0.9M215.9 112.4h0.9M212.6 124.0h0.9M211.1 130.6h0.9" stroke="#000" stroke-width="0.9" stroke-opacity="0.33" fill="none"/>
<path d="M249.7 125.3h0.9M216.0 115.9h0.9M216.2 123.0h0.9M248.1 121.9h0.9M252.6 125.4h0.9M232.1 123.2h0.9M229.5 109.7h0.9M249.0 123.2h0.9M241.7 123.6h0.9M248.0 128.2h0.9M218.9 111.7h0.9M221.6 116.2h0.9M222.7 111.2h0.9M238.7 122.0h0.9M216.2 122.4h0.9M218.1 114.3h0.9M217.6 114.9h0.9M216.1 112.8h0.9M213.2 123.7h0.9M222.5 118.9h0.9M229.1 126.6h0.9M208.2 123.8h0.9M213.9 130.9h0.9M212.4 126.6h0.9M225.0 116.6h0.9M214.0 127.4h0.9M226.2 105.8h0.9M215.4 123.5h0.9M222.7 117.1h0.9M233.8 125.4h0.9M225.0 114.2h0.9M215.9 118.2h0.9M217.0 116.3h0.9M213.8 124.0h0.9M220.9 125.7h0.9M249.0 127.3h0.9M221.0 114.6h0.9M215.2 125.2h0.9M239.9 126.0h0.9M218.0 127.7h0.9M215.5 128.3h0.9M212.2 126.4h0.9M218.8 113.8h0.9M219.3 115.0h0.9M214.5 126.2h0.9M213.6 112.0h0.9M245.1 122.3h0.9M211.9 122.2h0.9M216.2 113.6h0.9M252.0 124.0h0.9M217.3 114.1h0.9M241.6 121.0h0.9M244.6 127.2h0.9M213.6 122.9h0.9M212.7 126.4h0.9M241.1 123.5h0.9M211.5 121.9h0.9M213.0 121.2h0.9M214.4 113.9h0.9M211.7 124.7h0.9M219.7 117.1h0.9M216.1 124.3h0.9M221.8 114.0h0.9M218.8 118.0h0.9M242.3 124.0h0.9M250.3 120.6h0.9M214.6 123.5h0.9M251.1 123.3h0.9M255.9 126.1h0.9M212.4 127.6h0.9M215.9 127.2h0.9M218.5 114.7h0.9M219.8 113.3h0.9M223.7 123.6h0.9M216.6 111.2h0.9M242.1 123.7h0.9M217.4 124.4h0.9M253.6 124.6h0.9M226.0 129.2h0.9M240.9 124.5h0.9M227.0 115.2h0.9M214.6 126.0h0.9M250.0 123.9h0.9M211.5 124.4h0.9M210.6 115.2h0.9M214.4 131.2h0.9M242.0 129.3h0.9M244.2 123.5h0.9M243.3 123.7h0.9M219.6 117.3h0.9M217.6 114.9h0.9M219.9 113.5h0.9M253.9 125.9h0.9M236.7 126.2h0.9M221.2 113.5h0.9M219.4 116.5h0.9M242.7 126.5h0.9M220.1 112.5h0.9M242.5 125.2h0.9M219.8 116.1h0.9M215.1 114.1h0.9M213.0 124.8h0.9M217.0 113.9h0.9M235.0 127.2h0.9M211.0 126.7h0.9M220.5 114.1h0.9M217.0 119.9h0.9M226.0 123.3h0.9M238.1 123.6h0.9M214.3 126.5h0.9M236.2 124.4h0.9M232.7 125.4h0.9M253.9 125.3h0.9M222.2 108.6h0.9M247.9 120.3h0.9M231.0 127.0h0.9M211.6 127.9h0.9M217.3 112.7h0.9M217.0 122.3h0.9M212.4 125.8h0.9M215.3 115.0h0.9M215.7 112.4h0.9M217.3 123.3h0.9M222.0 116.7h0.9M217.2 128.3h0.9M211.8 122.8h0.9M215.8 122.8h0.9M211.6 128.0h0.9M215.4 125.0h0.9M216.1 126.3h0.9M224.9 112.4h0.9M238.4 127.7h0.9M215.4 114.9h0.9M214.0 115.9h0.9M215.9 126.3h0.9M242.5 123.8h0.9M241.1 127.2h0.9M238.1 125.9h0.9M220.6 113.7h0.9M238.7 127.8h0.9M210.7 124.7h0.9M220.6 122.7h0.9M248.5 125.6h0.9M220.9 111.6h0.9M248.6 125.1h0.9M223.0 111.5h0.9M252.2 121.8h0.9M238.5 123.4h0.9M217.3 126.7h0.9M213.6 121.6h0.9M213.6 130.1h0.9M217.8 121.2h0.9M251.0 127.2h0.9M209.2 123.3h0.9M223.1 115.1h0.9M248.1 124.5h0.9M211.0 127.3h0.9M222.1 116.4h0.9M216.5 124.2h0.9M254.5 124.7h0.9M251.6 125.9h0.9M211.6 120.2h0.9M223.8 115.0h0.9M219.7 113.5h0.9M212.8 124.4h0.9M209.5 124.5h0.9M219.2 117.3h0.9M216.6 114.6h0.9M216.2 111.3h0.9M221.0 118.3h0.9M214.3 111.7h0.9M211.9 124.3h0.9M226.2 111.9h0.9M218.5 112.3h0.9M210.6 125.5h0.9M215.5 121.8h0.9M220.0 110.6h0.9M219.8 111.6h0.9M210.1 127.6h0.9M247.0 129.9h0.9M240.7 123.6h0.9M219.1 111.2h0.9M210.6 113.4h0.9M240.4 124.5h0.9M221.0 116.9h0.9M238.8 125.9h0.9M239.5 124.2h0.9M237.5 124.3h0.9M211.6 110.6h0.9M217.8 111.1h0.9M212.8 123.3h0.9M215.8 124.8h0.9M239.0 122.7h0.9M209.4 124.7h0.9M217.1 111.3h0.9M226.5 111.8h0.9M212.3 122.7h0.9M237.5 124.0h0.9M219.0 111.4h0.9M225.3 117.9h0.9M220.0 111.9h0.9M214.4 115.0h0.9M211.5 119.0h0.9M247.6 124.2h0.9M221.3 111.3h0.9M256.4 127.8h0.9M217.3 115.1h0.9M216.1 122.5h0.9M251.1 126.4h0.9M215.4 122.2h0.9M219.7 114.1h0.9M216.3 123.1h0.9M217.5 114.8h0.9M216.9 112.8h0.9M216.0 117.7h0.9M235.8 125.3h0.9M210.0 124.6h0.9M245.1 121.8h0.9M221.2 114.4h0.9M216.9 128.8h0.9M220.1 114.5h0.9M222.0 112.0h0.9M218.9 114.3h0.9M248.4 126.0h0.9M213.7 129.2h0.9M216.4 126.9h0.9M215.2 113.7h0.9M215.8 114.0h0.9M216.2 126.6h0.9M218.7 115.1h0.9M217.0 127.5h0.9M220.4 117.3h0.9M213.2 127.0h0.9M218.6 110.5h0.9M217.7 129.2h0.9M213.5 126.1h0.9M220.8 114.6h0.9M214.6 122.8h0.9M217.7 126.5h0.9M224.9 115.4h0.9M219.1 114.1h0.9M221.8 113.5h0.9M219.6 117.0h0.9M237.2 121.7h0.9" stroke="#000" stroke-width="0.9" stroke-opacity="0.33" fill="none"/>
<path d="M215.5 128.1h0.9M213.0 126.5h0.9M244.0 123.8h0.9M213.4 127.2h0.9M236.9 127.0h0.9M219.2 113.5h0.9M207.3 114.0h0.9M231.9 124.3h0.9M213.5 126.3h0.9M206.7 123.3h0.9M219.0 116.3h0.9M219.1 113.7h0.9M209.7 125.1h0.9M221.8 107.9h0.9M245.3 125.7h0.9M224.8 113.1h0.9M211.6 124.6h0.9M215.2 121.4h0.9M240.9 125.8h0.9M239.8 122.9h0.9M211.1 124.9h0.9M239.1 124.9h0.9M215.0 128.1h0.9M211.2 125.2h0.9M212.9 125.4h0.9M226.5 111.5h0.9M217.8 115.9h0.9M219.3 113.2h0.9M211.9 133.0h0.9M211.5 122.4h0.9M216.0 111.9h0.9M215.9 122.0h0.9M213.5 114.4h0.9M219.1 116.1h0.9M239.7 126.2h0.9M209.8 125.6h0.9M229.2 127.5h0.9M220.5 113.6h0.9M255.9 128.0h0.9M235.9 123.6h0.9M236.2 125.9h0.9M218.6 113.2h0.9M226.7 126.4h0.9M216.8 111.1h0.9M215.7 115.6h0.9M238.5 124.0h0.9M217.0 113.9h0.9M215.8 113.9h0.9M215.2 113.0h0.9M214.4 126.8h0.9M218.0 114.1h0.9M216.3 115.6h0.9M222.0 124.6h0.9M214.1 124.8h0.9M209.8 123.6h0.9M246.6 126.5h0.9M216.6 123.3h0.9M220.9 122.4h0.9M218.7 113.2h0.9M216.7 120.4h0.9M229.1 125.7h0.9M220.5 112.1h0.9M211.1 121.5h0.9M211.9 110.4h0.9M214.7 113.7h0.9M211.5 122.2h0.9M223.8 113.6h0.9M247.4 122.7h0.9M243.8 125.3h0.9M217.7 113.8h0.9M228.1 113.0h0.9M247.9 125.3h0.9M217.1 112.1h0.9M224.5 113.8h0.9M212.6 127.9h0.9M220.9 115.2h0.9M213.6 127.7h0.9M214.3 129.7h0.9M242.2 126.8h0.9M217.0 123.2h0.9M210.7 124.1h0.9M214.9 110.4h0.9M211.6 124.9h0.9M214.7 112.6h0.9M215.4 123.8h0.9M213.9 113.8h0.9M214.5 113.6h0.9M242.0 123.8h0.9M240.4 126.5h0.9M215.6 114.8h0.9M235.4 126.9h0.9M212.8 122.1h0.9M220.4 114.3h0.9M213.0 124.8h0.9M216.6 114.2h0.9M207.8 111.4h0.9M216.5 124.7h0.9M213.5 124.6h0.9M218.3 122.6h0.9M214.6 128.3h0.9M209.2 116.1h0.9M220.2 116.7h0.9M208.7 117.0h0.9M212.4 124.5h0.9M212.9 127.0h0.9M215.6 125.0h0.9M221.5 108.9h0.9M215.0 115.6h0.9M213.7 123.0h0.9M225.6 124.5h0.9M257.5 119.9h0.9M217.3 125.3h0.9M218.8 114.8h0.9M223.3 111.9h0.9M220.4 117.0h0.9M211.7 123.9h0.9M236.4 122.0h0.9M249.3 123.3h0.9M219.7 118.1h0.9M239.4 126.9h0.9M218.2 116.4h0.9M240.8 126.2h0.9M216.4 125.0h0.9M219.6 116.4h0.9M219.2 111.8h0.9M240.1 125.5h0.9M213.8 110.7h0.9M237.3 131.2h0.9M248.7 124.8h0.9M252.8 125.4h0.9M223.7 116.4h0.9M216.2 120.4h0.9M214.0 109.5h0.9M215.9 124.0h0.9M231.3 124.0h0.9M241.7 122.7h0.9M212.3 122.6h0.9M210.9 125.2h0.9M250.3 127.0h0.9M211.5 129.9h0.9M211.4 123.7h0.9M214.8 112.3h0.9M216.4 113.9h0.9M211.8 127.8h0.9M213.4 126.3h0.9M208.9 124.4h0.9M212.5 124.1h0.9M222.4 132.2h0.9M241.2 120.9h0.9M210.7 128.1h0.9M216.4 114.9h0.9M216.1 114.3h0.9M247.1 125.0h0.9M212.9 124.4h0.9M255.1 125.1h0.9M244.0 125.0h0.9M217.2 111.0h0.9M215.6 113.3h0.9M206.3 107.6h0.9M219.5 111.0h0.9M212.6 131.5h0.9M218.3 120.5h0.9M220.4 114.6h0.9M216.8 121.7h0.9M216.6 123.6h0.9M214.8 113.2h0.9M213.9 117.5h0.9M220.8 115.9h0.9M208.9 121.6h0.9M215.7 115.9h0.9M216.1 122.5h0.9M220.2 126.4h0.9M216.3 114.3h0.9M215.8 119.9h0.9M211.1 112.9h0.9M247.9 123.9h0.9M246.4 125.4h0.9M253.8 123.2h0.9M220.3 114.5h0.9M237.6 121.2h0.9M241.4 125.9h0.9M217.5 117.6h0.9M213.3 113.9h0.9M243.7 121.7h0.9M208.0 127.2h0.9M215.9 127.8h0.9M219.4 125.2h0.9M211.7 124.9h0.9M251.1 122.1h0.9M213.6 121.1h0.9M238.1 121.4h0.9M216.8 122.6h0.9M238.2 122.9h0.9M216.3 116.2h0.9M211.7 127.3h0.9M220.0 113.6h0.9M217.9 122.2h0.9M215.8 123.2h0.9M211.8 121.2h0.9M249.1 124.7h0.9M220.7 111.4h0.9M217.8 123.4h0.9M227.8 110.4h0.9M212.6 118.3h0.9M217.1 115.7h0.9M210.3 112.2h0.9M212.8 126.0h0.9M211.7 124.2h0.9M208.7 125.8h0.9M215.5 127.1h0.9M217.6 121.9h0.9M207.0 113.5h0.9M220.8 109.0h0.9M213.2 127.5h0.9M218.6 112.2h0.9M256.9 122.1h0.9M244.7 123.5h0.9M234.1 119.6h0.9M210.5 130.7h0.9M211.5 113.4h0.9M235.3 125.8h0.9M216.9 124.7h0.9M214.0 120.5h0.9M227.3 117.3h0.9M234.5 123.1h0.9M217.9 114.8h0.9M216.8 122.4h0.9M220.2 116.3h0.9M212.7 126.8h0.9M218.8 117.7h0.9M213.2 128.5h0.9M233.3 127.1h0.9M251.5 122.9h0.9M218.6 130.1h0.9M219.1 115.1h0.9M214.3 126.6h0.9M224.8 123.0h0.9M217.2 109.9h0.9M255.2 124.5h0.9M218.4 121.7h0.9M227.5 124.8h0.9M211.5 127.1h0.9M216.7 115.9h0.9" stroke="#000" stroke-width="0.9" stroke-opacity="0.33" fill="none"/>
</g>
<g>
<path d="M215.4 155.7h0.9M260.1 127.0h0.9M215.7 153.9h0.9M218.6 151.8h0.9M216.6 164.1h0.9M269.5 124.4h0.9M211.9 168.3h0.9M211.5 169.1h0.9M269.4 115.7h0.9M215.3 153.2h0.9M215.8 154.8h0.9M215.0 166.3h0.9M211.0 146.6h0.9M210.0 157.1h0.9M211.0 159.2h0.9M215.3 162.3h0.9M216.8 162.9h0.9M208.9 142.0h0.9M214.8 154.7h0.9M215.7 125.8h0.9M209.9 165.7h0.9M265.6 119.6h0.9M217.2 154.2h0.9M213.5 164.1h0.9M217.0 155.0h0.9M213.8 147.8h0.9M255.6 119.5h0.9M214.0 157.4h0.9M235.6 161.9h0.9M256.9 119.3h0.9M209.9 137.4h0.9M213.2 158.5h0.9M215.1 159.9h0.9M210.0 164.3h0.9M261.0 118.2h0.9M214.9 148.7h0.9M209.9 173.0h0.9M215.2 156.3h0.9M213.9 107.6h0.9M248.9 153.3h0.9M215.4 170.8h0.9M211.5 161.5h0.9M217.5 169.8h0.9M212.5 159.5h0.9M265.0 123.5h0.9M247.8 126.4h0.9M270.2 124.2h0.9M259.3 123.0h0.9M271.5 122.4h0.9M264.1 123.5h0.9M210.0 135.8h0.9M265.2 122.7h0.9M216.3 163.1h0.9M266.8 119.1h0.9M206.9 164.4h0.9M217.9 165.8h0.9M258.0 116.7h0.9M210.3 165.8h0.9M261.9 122.5h0.9M246.8 123.2h0.9M215.6 169.7h0.9M215.0 154.5h0.9M256.6 121.1h0.9M212.2 133.8h0.9M253.6 125.6h0.9M211.7 167.3h0.9M264.0 119.4h0.9M263.3 126.4h0.9M216.7 135.7h0.9M210.3 158.3h0.9M216.7 147.6h0.9M208.5 159.9h0.9M218.1 148.8h0.9M212.9 147.6h0.9M212.2 156.6h0.9M248.1 123.5h0.9M210.0 165.3h0.9M217.4 160.7h0.9M265.5 125.8h0.9M212.6 156.4h0.9M251.4 121.0h0.9M217.7 146.2h0.9M216.1 159.3h0.9M212.8 153.4h0.9M267.6 124.4h0.9M209.4 157.7h0.9M214.5 157.1h0.9M215.3 163.1h0.9M215.5 137.4h0.9M270.2 121.4h0.9M216.1 145.8h0.9M218.6 159.8h0.9M249.1 121.4h0.9M215.4 164.5h0.9M215.4 152.6h0.9M213.3 152.5h0.9M224.5 163.2h0.9M258.4 116.9h0.9M215.0 134.0h0.9M262.1 113.4h0.9M212.0 157.5h0.9M267.6 130.3h0.9M218.2 117.7h0.9M210.0 149.6h0.9M214.8 163.4h0.9M216.9 156.2h0.9M219.7 164.8h0.9M208.8 152.6h0.9M262.2 126.6h0.9M209.0 159.2h0.9M217.2 163.1h0.9M249.7 159.6h0.9M207.1 142.9h0.9M211.7 146.8h0.9M211.6 168.0h0.9M207.5 167.2h0.9M219.1 143.2h0.9M265.6 117.1h0.9M211.3 168.7h0.9M267.4 119.5h0.9M251.8 174.0h0.9M213.3 156.9h0.9M210.2 142.9h0.9M222.6 151.7h0.9M213.9 138.7h0.9M212.1 151.9h0.9M266.8 122.1h0.9M221.9 147.9h0.9M264.7 119.1h0.9M219.9 152.9h0.9M218.2 137.6h0.9M257.6 122.1h0.9M214.3 168.7h0.9M257.0 124.5h0.9M211.7 154.6h0.9M216.8 166.0h0.9M218.7 157.8h0.9M252.1 123.9h0.9M264.1 116.9h0.9M214.2 154.7h0.9M216.4 159.9h0.9M212.1 150.2h0.9M216.0 173.1h0.9M219.0 156.3h0.9M250.9 117.8h0.9M213.3 139.4h0.9M214.1 154.8h0.9M216.2 165.0h0.9M211.9 146.9h0.9M218.9 130.2h0.9M210.2 167.7h0.9M211.2 161.2h0.9M213.8 162.2h0.9M215.2 163.9h0.9M212.7 148.7h0.9M246.0 127.5h0.9M207.6 144.4h0.9M260.7 122.6h0.9M218.3 163.2h0.9M256.1 118.9h0.9M206.1 160.4h0.9M275.7 117.8h0.9M263.0 113.8h0.9M215.0 151.0h0.9M261.9 129.9h0.9M211.2 146.7h0.9M258.3 117.4h0.9M209.3 146.1h0.9M258.0 124.6h0.9M214.4 148.8h0.9" stroke="#000" stroke-width="0.9" stroke-opacity="0.18" fill="none"/>
<path d="M211.5 132.5h0.9M212.1 158.4h0.9M213.6 137.9h0.9M214.3 160.6h0.9M261.2 117.1h0.9M210.1 147.1h0.9M218.9 153.9h0.9M211.1 145.1h0.9M213.6 141.8h0.9M212.8 147.8h0.9M266.8 119.1h0.9M213.3 146.0h0.9M212.7 152.1h0.9M264.9 116.9h0.9M213.1 165.0h0.9M214.3 159.4h0.9M217.1 150.2h0.9M217.9 159.0h0.9M262.7 124.3h0.9M259.8 126.1h0.9M220.4 168.4h0.9M212.9 150.1h0.9M245.0 129.0h0.9M214.3 154.3h0.9M217.4 148.1h0.9M264.2 118.5h0.9M252.6 118.0h0.9M248.4 159.8h0.9M272.3 121.0h0.9M216.7 150.1h0.9M261.8 122.7h0.9M212.0 169.5h0.9M253.4 120.5h0.9M258.1 121.6h0.9M216.8 159.5h0.9M219.6 147.3h0.9M217.6 155.8h0.9M219.4 124.1h0.9M248.0 119.9h0.9M213.7 150.2h0.9M248.7 120.9h0.9M267.3 118.9h0.9M262.9 120.7h0.9M223.2 140.6h0.9M211.9 171.0h0.9M217.4 143.2h0.9M209.5 152.9h0.9M255.1 120.9h0.9M266.1 118.8h0.9M211.0 157.9h0.9M215.2 173.4h0.9M213.0 150.9h0.9M213.5 152.8h0.9M215.8 151.5h0.9M216.7 148.2h0.9M258.4 120.3h0.9M208.5 134.0h0.9M272.8 112.4h0.9M265.5 124.4h0.9M260.5 115.9h0.9M215.5 146.0h0.9M211.4 168.7h0.9M222.5 161.8h0.9M206.5 144.5h0.9M210.3 164.7h0.9M211.7 166.4h0.9M215.8 141.8h0.9M214.2 162.2h0.9M211.8 155.2h0.9M246.5 128.3h0.9M210.6 155.5h0.9M256.6 123.8h0.9M259.1 124.2h0.9M254.4 124.7h0.9M274.2 119.5h0.9M219.7 153.1h0.9M208.9 142.8h0.9M213.6 153.4h0.9M209.6 148.3h0.9M208.7 140.3h0.9M245.1 116.0h0.9M265.1 118.7h0.9M253.4 115.6h0.9M213.1 155.1h0.9M220.3 151.0h0.9M265.5 126.1h0.9M211.1 141.5h0.9M217.1 146.8h0.9M269.9 116.8h0.9M258.7 120.4h0.9M214.1 168.1h0.9M213.0 170.8h0.9M212.6 145.6h0.9M275.4 120.5h0.9M213.0 141.2h0.9M271.8 117.3h0.9M212.4 142.5h0.9M243.6 110.4h0.9M265.4 121.6h0.9M218.1 142.9h0.9M218.2 161.3h0.9M266.4 124.3h0.9M210.4 167.2h0.9M239.2 148.8h0.9M271.1 121.4h0.9M208.5 162.2h0.9M218.3 123.5h0.9M218.4 153.2h0.9M219.6 155.8h0.9M208.2 147.7h0.9M216.4 160.1h0.9M258.9 121.5h0.9M218.0 156.3h0.9M271.0 122.0h0.9M212.6 144.7h0.9M265.5 118.5h0.9M220.5 148.8h0.9M214.0 146.7h0.9M255.5 122.5h0.9M211.7 138.8h0.9M213.5 142.6h0.9M263.0 121.6h0.9M223.2 140.1h0.9M228.5 105.1h0.9M260.3 117.4h0.9M256.3 122.5h0.9M207.8 143.9h0.9M211.3 165.0h0.9M267.0 126.2h0.9M270.8 116.8h0.9M216.3 156.6h0.9M219.2 144.1h0.9M211.7 145.6h0.9M248.2 118.3h0.9M270.8 120.5h0.9M257.4 121.7h0.9M212.5 168.6h0.9M210.2 152.0h0.9M212.4 172.0h0.9M249.3 116.2h0.9M212.9 163.0h0.9M210.0 138.5h0.9M213.6 167.0h0.9M217.5 155.3h0.9M217.2 157.7h0.9M217.9 142.2h0.9M216.8 171.0h0.9M268.4 126.2h0.9M252.9 122.4h0.9M210.0 143.0h0.9M205.7 160.5h0.9M232.9 123.5h0.9M215.7 142.9h0.9M214.4 154.2h0.9M217.6 155.7h0.9M272.4 127.6h0.9M214.1 145.6h0.9M256.5 120.2h0.9M220.4 142.3h0.9M257.6 124.7h0.9M209.6 157.6h0.9M211.7 174.0h0.9M216.2 154.7h0.9M260.0 120.9h0.9M261.9 122.3h0.9M267.6 118.8h0.9M214.6 148.1h0.9M261.4 119.9h0.9M212.8 145.7h0.9M214.5 159.2h0.9" stroke="#000" stroke-width="0.9" stroke-opacity="0.18" fill="none"/>
</g>
<rect x="204.5" y="102.5" width="74" height="73" fill="none" stroke="#000" stroke-width="1.2"/>
<text x="191.65" y="112.4" font-size="6.90" font-weight="normal" fill="#222" >10</text>
<text x="198" y="109.6" font-size="4.69" fill="#222">5</text>
<text x="191.65" y="128.7" font-size="6.90" font-weight="normal" fill="#222" >10</text>
<text x="198" y="125.9" font-size="4.69" fill="#222">4</text>
<text x="191.65" y="145.6" font-size="6.90" font-weight="normal" fill="#222" >10</text>
<text x="198" y="142.8" font-size="4.69" fill="#222">3</text>
<text x="191.65" y="163.5" font-size="6.90" font-weight="normal" fill="#222" >10</text>
<text x="198" y="160.7" font-size="4.69" fill="#222">2</text>
<text x="197.51" y="171.4" font-size="6.90" font-weight="normal" fill="#222" >0</text>
<line x1="202.9" y1="109.3" x2="204.5" y2="109.3" stroke="#000" stroke-width="1.1" />
<line x1="202.9" y1="125.3" x2="204.5" y2="125.3" stroke="#000" stroke-width="1.1" />
<line x1="202.9" y1="142.1" x2="204.5" y2="142.1" stroke="#000" stroke-width="1.1" />
<line x1="202.9" y1="160" x2="204.5" y2="160" stroke="#000" stroke-width="1.1" />
<line x1="202.9" y1="168.5" x2="204.5" y2="168.5" stroke="#000" stroke-width="1.1" />
<line x1="202.9" y1="114" x2="204.5" y2="114" stroke="#000" stroke-width="1.1" />
<line x1="202.9" y1="130.5" x2="204.5" y2="130.5" stroke="#000" stroke-width="1.1" />
<line x1="202.9" y1="147" x2="204.5" y2="147" stroke="#000" stroke-width="1.1" />
<line x1="202.9" y1="164.5" x2="204.5" y2="164.5" stroke="#000" stroke-width="1.1" />
<text x="209.17" y="187.3" font-size="6.90" font-weight="normal" fill="#222" >0</text>
<text x="215.15" y="187.3" font-size="6.90" font-weight="normal" fill="#222" >10</text>
<text x="221.5" y="184.5" font-size="4.69" fill="#222">2</text>
<text x="233.95" y="187.3" font-size="6.90" font-weight="normal" fill="#222" >10</text>
<text x="240.3" y="184.5" font-size="4.69" fill="#222">3</text>
<text x="250.55" y="187.3" font-size="6.90" font-weight="normal" fill="#222" >10</text>
<text x="256.9" y="184.5" font-size="4.69" fill="#222">4</text>
<text x="267.45" y="187.3" font-size="6.90" font-weight="normal" fill="#222" >10</text>
<text x="273.8" y="184.5" font-size="4.69" fill="#222">5</text>
<line x1="211.1" y1="175.5" x2="211.1" y2="177.1" stroke="#000" stroke-width="1.1" />
<line x1="218.5" y1="175.5" x2="218.5" y2="177.1" stroke="#000" stroke-width="1.1" />
<line x1="235.5" y1="175.5" x2="235.5" y2="177.1" stroke="#000" stroke-width="1.1" />
<line x1="252.5" y1="175.5" x2="252.5" y2="177.1" stroke="#000" stroke-width="1.1" />
<line x1="269.5" y1="175.5" x2="269.5" y2="177.1" stroke="#000" stroke-width="1.1" />
<line x1="206.5" y1="175.5" x2="206.5" y2="177.1" stroke="#000" stroke-width="1.1" />
<line x1="214" y1="175.5" x2="214" y2="177.1" stroke="#000" stroke-width="1.1" />
<line x1="226" y1="175.5" x2="226" y2="177.1" stroke="#000" stroke-width="1.1" />
<line x1="243" y1="175.5" x2="243" y2="177.1" stroke="#000" stroke-width="1.1" />
<line x1="260" y1="175.5" x2="260" y2="177.1" stroke="#000" stroke-width="1.1" />
<line x1="276" y1="175.5" x2="276" y2="177.1" stroke="#000" stroke-width="1.1" />
<rect x="206.6" y="119.6" width="20" height="55.3" fill="none" stroke="#000" stroke-width="2.3"/>
<g>
<path d="M379.5 43.2h0.9M345.6 41.6h0.9M384.0 40.7h0.9M385.3 44.4h0.9M384.8 42.4h0.9M380.5 43.2h0.9M373.7 40.6h0.9M383.4 42.4h0.9M372.2 46.1h0.9M376.1 40.9h0.9M377.1 44.5h0.9M381.5 43.5h0.9M375.9 48.0h0.9M379.6 44.0h0.9M371.6 45.9h0.9M358.2 42.1h0.9M373.9 44.6h0.9M390.3 46.6h0.9M385.1 40.9h0.9M369.2 39.2h0.9M359.2 46.1h0.9M375.8 42.2h0.9M355.8 40.9h0.9M378.8 45.6h0.9M369.6 44.4h0.9M366.8 46.7h0.9M364.4 46.6h0.9M364.9 48.3h0.9M367.2 39.9h0.9M375.9 41.9h0.9M374.2 52.7h0.9M369.1 45.2h0.9M377.9 41.7h0.9M363.1 44.5h0.9M372.2 42.8h0.9M380.0 39.3h0.9M378.1 44.0h0.9M378.9 39.5h0.9M377.1 45.5h0.9M378.5 42.7h0.9M359.3 46.3h0.9M370.1 45.1h0.9M360.3 43.6h0.9M383.8 44.0h0.9M371.6 48.6h0.9M384.7 43.7h0.9M368.6 45.1h0.9M384.9 40.1h0.9M346.6 44.1h0.9M372.1 43.8h0.9M359.3 48.8h0.9M383.3 44.1h0.9M366.6 43.1h0.9M365.7 46.1h0.9M376.4 44.8h0.9M383.6 44.8h0.9M350.4 43.7h0.9M376.0 47.8h0.9M381.0 48.4h0.9M368.3 41.4h0.9M376.8 44.9h0.9M374.4 42.9h0.9M381.6 46.5h0.9M366.3 46.5h0.9M371.8 42.3h0.9M379.3 49.7h0.9M399.1 41.7h0.9M373.7 42.1h0.9M362.9 40.5h0.9M365.1 40.3h0.9M366.1 40.3h0.9M358.5 38.7h0.9M378.0 45.4h0.9M381.3 42.3h0.9M383.3 43.0h0.9M378.2 47.1h0.9M381.1 41.5h0.9M383.5 41.3h0.9M379.1 46.0h0.9M368.5 43.4h0.9M370.6 38.5h0.9M372.1 40.1h0.9M383.4 43.7h0.9M384.9 48.4h0.9M370.7 44.6h0.9M385.1 41.8h0.9M383.1 40.1h0.9M363.8 44.9h0.9M368.6 49.4h0.9M378.3 47.6h0.9M383.7 44.7h0.9M358.5 39.2h0.9M382.6 42.9h0.9M375.2 46.8h0.9M359.5 41.6h0.9M358.3 48.0h0.9M366.8 44.4h0.9M392.7 44.6h0.9M385.0 45.8h0.9M359.9 38.5h0.9M357.2 46.3h0.9M356.1 42.5h0.9M354.7 44.5h0.9M369.5 39.5h0.9M358.1 40.9h0.9M375.6 44.4h0.9M348.9 42.3h0.9M361.2 44.3h0.9M381.1 49.1h0.9M389.8 45.3h0.9M380.6 42.0h0.9M381.7 42.5h0.9M384.2 44.9h0.9M384.5 43.4h0.9M376.9 44.7h0.9M386.4 41.2h0.9M353.4 46.0h0.9M370.2 45.1h0.9M379.3 46.2h0.9M382.0 44.6h0.9M377.3 43.3h0.9M369.1 46.7h0.9M365.2 43.4h0.9M349.8 39.8h0.9M356.8 39.6h0.9M370.1 43.4h0.9M366.3 35.8h0.9M378.8 42.2h0.9" stroke="#000" stroke-width="0.9" stroke-opacity="0.28" fill="none"/>
<path d="M353.1 43.9h0.9M376.1 52.3h0.9M387.5 42.2h0.9M380.1 43.0h0.9M377.6 40.6h0.9M386.6 43.4h0.9M371.2 46.5h0.9M377.9 45.7h0.9M380.4 47.5h0.9M356.5 46.0h0.9M378.7 48.7h0.9M384.2 40.9h0.9M380.1 44.4h0.9M381.2 44.6h0.9M381.7 43.0h0.9M382.4 43.0h0.9M356.1 43.3h0.9M372.1 39.8h0.9M349.2 41.5h0.9M369.3 40.5h0.9M377.5 42.3h0.9M386.0 46.7h0.9M377.0 45.8h0.9M354.7 41.3h0.9M387.2 46.3h0.9M384.4 42.2h0.9M387.2 44.3h0.9M364.6 38.8h0.9M363.1 47.5h0.9M381.6 43.6h0.9M378.3 42.3h0.9M376.3 42.5h0.9M350.2 45.0h0.9M351.1 50.4h0.9M385.0 41.7h0.9M368.6 44.2h0.9M383.6 40.8h0.9M374.4 41.1h0.9M371.7 41.8h0.9M364.3 39.7h0.9M348.3 42.7h0.9M381.4 43.8h0.9M355.7 44.6h0.9M351.4 40.9h0.9M370.9 48.5h0.9M355.8 45.0h0.9M361.2 45.9h0.9M359.8 40.6h0.9M374.3 46.2h0.9M383.8 45.8h0.9M367.5 43.3h0.9M376.4 48.3h0.9M373.0 41.8h0.9M378.8 46.5h0.9M363.1 42.6h0.9M358.0 44.2h0.9M373.1 40.5h0.9M373.2 48.7h0.9M366.3 40.1h0.9M381.2 38.4h0.9M367.9 40.2h0.9M382.1 45.8h0.9M385.0 41.7h0.9M379.9 45.0h0.9M381.7 44.3h0.9M366.0 42.4h0.9M378.8 41.5h0.9M386.7 45.7h0.9M354.8 42.7h0.9M380.3 42.8h0.9M382.0 43.8h0.9M373.3 40.7h0.9M353.6 45.9h0.9M382.8 40.8h0.9M362.8 40.7h0.9M366.8 48.5h0.9M374.4 43.9h0.9M373.6 42.3h0.9M381.7 45.2h0.9M362.3 42.6h0.9M365.3 38.9h0.9M386.1 44.8h0.9M371.7 44.2h0.9M377.5 45.3h0.9M382.8 39.4h0.9M371.7 48.0h0.9M381.6 42.8h0.9M352.0 40.2h0.9M385.0 40.3h0.9M374.0 43.9h0.9M363.5 39.1h0.9M366.6 43.1h0.9M359.8 44.4h0.9M372.1 46.7h0.9M374.4 42.2h0.9M359.3 41.4h0.9M371.7 45.1h0.9M377.0 45.6h0.9M374.1 45.1h0.9M372.1 40.7h0.9M376.6 40.2h0.9M368.3 46.3h0.9M376.4 40.4h0.9M382.2 45.8h0.9M384.3 44.3h0.9M375.7 45.4h0.9M383.1 46.6h0.9M361.5 44.7h0.9M376.3 40.3h0.9M381.5 43.6h0.9M375.5 43.4h0.9M360.9 42.3h0.9M370.9 47.2h0.9M389.2 48.7h0.9M354.4 39.2h0.9M367.1 43.4h0.9M359.2 46.2h0.9M371.7 41.3h0.9M364.0 43.8h0.9M376.2 45.3h0.9M386.0 44.0h0.9M366.0 46.6h0.9M370.6 42.3h0.9M366.9 41.6h0.9M380.0 47.5h0.9M373.0 39.5h0.9M387.5 43.9h0.9M373.4 41.2h0.9" stroke="#000" stroke-width="0.9" stroke-opacity="0.28" fill="none"/>
<path d="M376.7 43.9h0.9M388.8 44.6h0.9M371.5 44.4h0.9M370.1 41.8h0.9M383.3 47.8h0.9M390.1 47.5h0.9M374.1 43.3h0.9M352.4 43.6h0.9M342.0 37.7h0.9M384.2 44.1h0.9M381.4 45.4h0.9M355.3 47.3h0.9M370.1 40.1h0.9M369.2 43.5h0.9M357.1 41.6h0.9M379.3 36.9h0.9M372.6 46.5h0.9M381.4 46.4h0.9M362.2 42.6h0.9M380.7 46.0h0.9M371.1 44.7h0.9M376.9 42.0h0.9M385.8 45.0h0.9M376.2 41.6h0.9M367.1 44.2h0.9M364.3 44.3h0.9M367.4 47.0h0.9M373.8 42.9h0.9M378.1 41.9h0.9M384.5 43.9h0.9M372.2 45.0h0.9M363.8 44.0h0.9M375.5 45.7h0.9M386.8 45.8h0.9M384.2 41.2h0.9M365.5 42.9h0.9M355.7 46.4h0.9M359.6 44.8h0.9M372.2 46.7h0.9M386.5 43.0h0.9M379.2 38.9h0.9M358.9 41.5h0.9M368.5 44.3h0.9M366.1 40.3h0.9M380.8 40.6h0.9M363.1 41.0h0.9M363.8 49.0h0.9M377.1 44.4h0.9M363.4 43.9h0.9M376.2 41.9h0.9M359.4 45.1h0.9M368.7 47.8h0.9M383.7 41.4h0.9M377.0 42.1h0.9M380.9 41.8h0.9M364.7 44.9h0.9M385.0 49.5h0.9M381.4 44.2h0.9M357.2 41.2h0.9M382.7 43.7h0.9M372.1 43.3h0.9M365.8 42.9h0.9M360.1 40.7h0.9M374.3 44.4h0.9M376.4 43.2h0.9M357.0 45.1h0.9M374.2 42.0h0.9M368.9 46.8h0.9M367.0 38.0h0.9M375.9 39.0h0.9M382.3 42.2h0.9M366.2 39.9h0.9M367.2 39.1h0.9M384.7 43.4h0.9M361.8 39.6h0.9M372.1 39.8h0.9M377.3 42.3h0.9M380.3 43.5h0.9M368.8 48.6h0.9M374.1 40.6h0.9M383.1 41.3h0.9M369.7 47.7h0.9M375.6 45.9h0.9M386.3 43.7h0.9M366.8 49.3h0.9M380.1 40.8h0.9M385.9 44.4h0.9M355.2 45.4h0.9M365.4 36.3h0.9M376.0 41.3h0.9M378.6 43.7h0.9M378.6 45.0h0.9M371.9 40.7h0.9M370.1 43.5h0.9M371.0 46.0h0.9M367.5 44.5h0.9M353.2 42.6h0.9M373.6 42.9h0.9M383.9 38.9h0.9M378.0 46.4h0.9M374.9 45.9h0.9M365.9 43.6h0.9M380.7 41.3h0.9M375.4 41.1h0.9M383.2 41.0h0.9M358.2 43.1h0.9M365.7 45.1h0.9M375.4 49.7h0.9M373.7 42.0h0.9M386.2 39.5h0.9M372.9 43.3h0.9M350.3 44.5h0.9M380.2 43.5h0.9M369.3 47.0h0.9M380.0 42.4h0.9M385.2 39.7h0.9M373.4 45.5h0.9M384.5 44.5h0.9M373.0 44.6h0.9M382.1 43.5h0.9M360.0 48.0h0.9M375.7 39.7h0.9M380.6 41.8h0.9M374.7 42.4h0.9M371.9 44.0h0.9M366.3 45.0h0.9M365.7 43.7h0.9M382.8 42.8h0.9" stroke="#000" stroke-width="0.9" stroke-opacity="0.28" fill="none"/>
<path d="M375.1 45.6h0.9M365.2 46.1h0.9M379.9 47.6h0.9M378.5 44.7h0.9M375.2 42.3h0.9M392.0 41.5h0.9M369.9 44.9h0.9M381.9 45.4h0.9M380.4 47.5h0.9M379.7 45.7h0.9M394.8 45.8h0.9M382.1 40.0h0.9M371.1 44.4h0.9M351.2 47.8h0.9M375.8 43.3h0.9M368.0 45.8h0.9M370.1 38.5h0.9M377.8 41.4h0.9M367.0 42.6h0.9M361.2 49.8h0.9M372.9 45.1h0.9M355.4 46.1h0.9M361.2 36.4h0.9M371.0 42.8h0.9M357.7 42.4h0.9M375.0 44.7h0.9M379.6 43.4h0.9M365.5 44.4h0.9M364.9 44.1h0.9M390.5 45.1h0.9M364.6 43.6h0.9M374.6 40.2h0.9M377.3 45.2h0.9M379.6 42.8h0.9M369.5 37.6h0.9M383.6 42.7h0.9M372.7 41.9h0.9M374.6 41.9h0.9M386.3 48.1h0.9M369.5 41.5h0.9M370.1 37.5h0.9M378.8 40.9h0.9M352.3 45.2h0.9M379.1 41.6h0.9M376.0 43.0h0.9M365.2 45.1h0.9M358.0 46.9h0.9M364.3 44.4h0.9M356.4 39.5h0.9M364.6 46.0h0.9M364.5 43.7h0.9M373.1 45.9h0.9M388.1 42.8h0.9M375.6 41.6h0.9M366.4 43.6h0.9M379.4 42.5h0.9M383.9 48.8h0.9M385.3 39.0h0.9M357.1 39.6h0.9M378.8 45.7h0.9M356.9 38.9h0.9M369.9 36.1h0.9M357.6 43.4h0.9M376.3 42.0h0.9M370.5 42.3h0.9M364.2 47.1h0.9M380.6 41.6h0.9M378.6 41.7h0.9M384.2 41.9h0.9M380.5 42.9h0.9M373.3 35.2h0.9M366.2 43.8h0.9M380.8 42.9h0.9M373.5 44.3h0.9M362.7 42.9h0.9M362.3 34.3h0.9M385.8 39.2h0.9M359.3 44.3h0.9M356.3 43.9h0.9M388.4 43.3h0.9M373.0 43.1h0.9M372.6 47.2h0.9M358.0 45.3h0.9M373.1 43.1h0.9M358.7 38.3h0.9M376.6 48.9h0.9M377.8 45.9h0.9M381.4 46.2h0.9M385.8 46.5h0.9M368.5 44.3h0.9M377.2 40.1h0.9M381.9 43.3h0.9M380.6 40.7h0.9M369.3 45.2h0.9M384.7 46.3h0.9M358.2 40.4h0.9M381.8 46.4h0.9M381.8 42.5h0.9M375.2 47.3h0.9M361.5 41.0h0.9M346.0 43.6h0.9M383.7 47.3h0.9M382.0 44.1h0.9M382.3 47.6h0.9M376.6 44.4h0.9M388.1 40.9h0.9M387.6 42.8h0.9M364.4 43.8h0.9M359.4 36.9h0.9M382.3 43.9h0.9M381.0 47.1h0.9M376.0 41.2h0.9M384.3 42.4h0.9M359.0 44.2h0.9M363.6 48.5h0.9M358.2 42.5h0.9M360.8 47.5h0.9M376.5 47.2h0.9M354.0 43.1h0.9M343.6 40.2h0.9M357.9 40.8h0.9M358.2 42.9h0.9M366.5 44.7h0.9M355.9 45.9h0.9M378.0 43.5h0.9M377.5 44.4h0.9M371.1 41.0h0.9M358.6 50.6h0.9" stroke="#000" stroke-width="0.9" stroke-opacity="0.28" fill="none"/>
<path d="M354.5 42.1h0.9M377.8 41.9h0.9M381.6 40.0h0.9M389.3 46.5h0.9M384.9 45.5h0.9M388.0 44.7h0.9M352.4 46.4h0.9M378.8 44.2h0.9M372.0 41.4h0.9M369.6 43.7h0.9M373.8 43.4h0.9M361.2 45.2h0.9M363.4 45.5h0.9M366.1 40.0h0.9M379.1 44.4h0.9M378.5 41.1h0.9M365.8 39.5h0.9M374.5 42.3h0.9M369.0 40.1h0.9M365.1 46.3h0.9M379.8 45.8h0.9M341.5 42.7h0.9M390.5 47.7h0.9M351.3 40.0h0.9M373.5 42.8h0.9M377.5 43.6h0.9M377.0 43.1h0.9M382.9 41.9h0.9M376.5 41.4h0.9M351.7 40.6h0.9M381.7 44.6h0.9M365.0 46.0h0.9M369.0 45.0h0.9M378.6 43.9h0.9M368.4 40.4h0.9M383.5 40.1h0.9M349.0 43.8h0.9M379.8 46.6h0.9M382.7 44.5h0.9M379.9 45.0h0.9M373.3 39.1h0.9M369.6 43.9h0.9M378.8 45.8h0.9M379.0 42.4h0.9M364.9 45.2h0.9M382.5 39.7h0.9M355.6 43.0h0.9M383.5 47.2h0.9M381.9 45.3h0.9M386.6 41.5h0.9M367.7 44.2h0.9M371.7 45.5h0.9M378.0 41.5h0.9M378.3 43.8h0.9M372.8 43.4h0.9M369.3 44.0h0.9M383.4 40.6h0.9M380.2 42.8h0.9M382.0 44.4h0.9M380.8 43.1h0.9M375.7 45.0h0.9M372.0 44.0h0.9M362.3 44.5h0.9M363.7 43.4h0.9M372.2 46.8h0.9M383.5 41.7h0.9M378.2 43.4h0.9M352.2 44.3h0.9M387.7 40.3h0.9M367.5 44.6h0.9M366.0 38.0h0.9M384.7 46.5h0.9M383.4 44.4h0.9M379.7 48.9h0.9M378.3 41.1h0.9M371.4 40.7h0.9M363.1 39.5h0.9M370.6 48.2h0.9M366.1 46.1h0.9M383.8 44.3h0.9M367.3 46.9h0.9M364.7 51.8h0.9M376.9 41.4h0.9M351.9 40.4h0.9M383.5 44.6h0.9M365.4 43.8h0.9M374.1 42.3h0.9M359.0 44.2h0.9M360.0 46.0h0.9M375.3 46.1h0.9M347.5 47.4h0.9M380.5 43.3h0.9M385.2 44.3h0.9M366.2 40.9h0.9M376.7 44.0h0.9M372.7 44.7h0.9M362.7 41.9h0.9M353.1 45.5h0.9M358.8 40.5h0.9M378.0 44.9h0.9M372.2 50.0h0.9M360.9 44.0h0.9M379.8 42.8h0.9M375.9 42.3h0.9M388.0 45.9h0.9M355.4 41.1h0.9M374.2 45.4h0.9M361.8 41.4h0.9M365.0 46.9h0.9M369.6 49.7h0.9M376.3 42.2h0.9M374.6 36.3h0.9M377.3 41.7h0.9M377.0 41.7h0.9M374.5 43.3h0.9M384.4 48.0h0.9M376.9 42.3h0.9M374.7 41.5h0.9M378.3 43.4h0.9M388.2 47.2h0.9M385.2 40.4h0.9M369.3 47.1h0.9M373.3 43.1h0.9M369.6 44.8h0.9M358.8 41.5h0.9M382.5 47.8h0.9M385.6 42.4h0.9" stroke="#000" stroke-width="0.9" stroke-opacity="0.28" fill="none"/>
</g>
<g>
<path d="M382.9 62.1h0.9M390.3 60.3h0.9M387.9 69.7h0.9M378.8 45.7h0.9M361.1 52.3h0.9M368.1 47.8h0.9M383.7 47.5h0.9M384.6 72.3h0.9M397.0 39.4h0.9M382.7 66.5h0.9M365.4 48.4h0.9M386.3 59.9h0.9M387.0 50.6h0.9M388.6 70.3h0.9M387.4 71.3h0.9M391.8 58.5h0.9M368.2 45.5h0.9M392.1 59.5h0.9M392.8 50.2h0.9M384.0 68.6h0.9M383.3 56.8h0.9M379.3 65.0h0.9M378.8 49.7h0.9M383.3 55.5h0.9M370.7 48.3h0.9M385.7 46.8h0.9M387.9 45.6h0.9M392.1 61.5h0.9M366.5 43.2h0.9M350.0 51.0h0.9M385.9 68.8h0.9M387.0 53.8h0.9M385.9 65.2h0.9M385.3 62.4h0.9M383.1 53.8h0.9M383.5 76.1h0.9M382.0 64.2h0.9M391.5 37.5h0.9M381.9 41.2h0.9M362.6 43.1h0.9M383.4 54.9h0.9M387.8 42.6h0.9M382.3 53.0h0.9M390.6 79.8h0.9M345.8 34.0h0.9M375.0 50.3h0.9M366.3 46.0h0.9M385.8 55.5h0.9M389.0 54.7h0.9M412.1 48.1h0.9M381.2 53.6h0.9M390.6 63.5h0.9M389.5 38.0h0.9M385.4 46.8h0.9M357.1 44.6h0.9M387.1 43.8h0.9M381.4 49.8h0.9M384.7 41.1h0.9M386.5 54.4h0.9M388.3 50.5h0.9M379.4 43.5h0.9M384.0 64.3h0.9M380.8 50.1h0.9M381.8 58.9h0.9M388.5 37.1h0.9M369.4 42.0h0.9M381.3 67.1h0.9M381.2 62.0h0.9M382.8 46.9h0.9M388.2 73.6h0.9M384.9 58.2h0.9M392.3 45.7h0.9M386.9 56.9h0.9M391.7 47.0h0.9M360.1 39.2h0.9M389.8 59.6h0.9M391.9 54.2h0.9M386.7 55.3h0.9M388.4 64.6h0.9M383.7 55.4h0.9M383.1 36.3h0.9M382.0 48.8h0.9M386.1 55.7h0.9M389.8 17.5h0.9M384.9 41.5h0.9M344.4 38.4h0.9M386.7 65.7h0.9M380.7 26.6h0.9M381.5 62.6h0.9M387.1 41.6h0.9M384.2 46.7h0.9M390.8 45.3h0.9M385.4 58.7h0.9M388.2 47.2h0.9M369.2 51.1h0.9M364.8 48.3h0.9M389.6 58.8h0.9M388.0 49.1h0.9M372.3 41.1h0.9M349.9 45.6h0.9M386.2 56.2h0.9M389.4 62.8h0.9M369.0 49.1h0.9M380.5 57.3h0.9M367.2 40.3h0.9M375.4 46.3h0.9M395.5 69.6h0.9M357.1 50.8h0.9M383.9 52.9h0.9M404.5 19.6h0.9M390.3 72.8h0.9M387.1 64.9h0.9M387.5 58.2h0.9M385.0 67.6h0.9M384.0 56.6h0.9M395.7 61.4h0.9M374.5 42.9h0.9M381.3 62.1h0.9M381.4 61.9h0.9M380.2 59.4h0.9M367.1 42.6h0.9M389.0 75.5h0.9M377.1 44.8h0.9M381.4 39.2h0.9M388.0 47.1h0.9M385.1 34.6h0.9M385.6 65.6h0.9M392.0 69.0h0.9M370.7 49.0h0.9M379.6 60.9h0.9M388.3 63.1h0.9M356.3 53.7h0.9M359.6 43.4h0.9M388.5 56.6h0.9M385.4 62.4h0.9M368.9 47.4h0.9M373.6 35.6h0.9M369.8 41.3h0.9M389.6 40.9h0.9M391.1 67.6h0.9M365.1 47.2h0.9M387.4 54.6h0.9M383.1 60.7h0.9M387.7 56.1h0.9M368.0 47.9h0.9M381.6 73.4h0.9M408.0 50.0h0.9M381.0 71.6h0.9M367.1 41.8h0.9M386.7 68.9h0.9M375.1 46.7h0.9M352.6 12.0h0.9M387.1 61.2h0.9M387.8 55.0h0.9M379.6 50.7h0.9M375.5 36.3h0.9M386.7 52.5h0.9M375.2 44.3h0.9M385.7 57.8h0.9M384.0 68.9h0.9M388.1 64.9h0.9M382.5 40.8h0.9M344.9 14.8h0.9M364.4 45.5h0.9M388.8 48.7h0.9M389.7 74.5h0.9M390.0 70.5h0.9M374.5 45.7h0.9M341.9 39.1h0.9M385.2 63.2h0.9M394.3 43.9h0.9M364.4 47.2h0.9M383.4 48.5h0.9M386.0 55.4h0.9" stroke="#000" stroke-width="0.9" stroke-opacity="0.17" fill="none"/>
<path d="M387.3 66.4h0.9M392.2 62.8h0.9M385.3 67.5h0.9M386.4 61.0h0.9M381.0 58.4h0.9M389.9 53.5h0.9M369.5 39.3h0.9M372.4 45.7h0.9M385.2 66.1h0.9M383.9 59.7h0.9M384.0 58.1h0.9M386.3 63.0h0.9M369.8 47.6h0.9M387.5 13.5h0.9M368.8 46.7h0.9M386.4 71.2h0.9M365.4 44.3h0.9M385.7 58.9h0.9M376.3 58.3h0.9M378.7 54.2h0.9M381.1 50.7h0.9M390.8 53.0h0.9M388.7 64.8h0.9M387.2 70.5h0.9M389.4 59.8h0.9M359.7 44.7h0.9M387.9 68.6h0.9M383.2 52.8h0.9M370.2 49.2h0.9M360.7 52.3h0.9M372.6 45.9h0.9M387.5 46.0h0.9M390.2 61.3h0.9M410.2 65.8h0.9M376.5 39.0h0.9M385.8 75.1h0.9M357.2 53.7h0.9M388.9 65.5h0.9M355.9 51.2h0.9M383.8 56.0h0.9M376.4 42.0h0.9M384.2 50.1h0.9M344.0 51.1h0.9M385.9 51.6h0.9M381.9 71.7h0.9M359.4 49.7h0.9M383.6 72.1h0.9M359.9 42.0h0.9M387.0 47.0h0.9M349.1 36.9h0.9M394.2 60.5h0.9M386.4 65.5h0.9M390.0 57.6h0.9M386.0 52.2h0.9M383.1 64.5h0.9M394.1 59.6h0.9M384.8 66.9h0.9M383.0 49.7h0.9M384.1 59.2h0.9M387.8 37.4h0.9M377.0 38.4h0.9M373.5 43.7h0.9M380.3 45.1h0.9M389.0 62.9h0.9M374.7 46.7h0.9M391.7 72.4h0.9M381.5 70.7h0.9M382.8 65.6h0.9M378.9 56.1h0.9M388.4 61.9h0.9M389.6 57.6h0.9M357.8 50.2h0.9M391.0 47.4h0.9M388.6 45.3h0.9M386.5 62.1h0.9M391.5 69.9h0.9M380.7 55.1h0.9M369.8 40.8h0.9M389.3 52.2h0.9M382.8 58.6h0.9M391.4 66.9h0.9M386.0 51.2h0.9M380.1 53.9h0.9M388.9 51.1h0.9M388.4 65.1h0.9M366.3 44.2h0.9M383.1 66.3h0.9M386.6 76.2h0.9M386.0 63.7h0.9M357.7 43.5h0.9M375.4 47.2h0.9M367.0 47.7h0.9M393.9 60.2h0.9M384.7 59.0h0.9M360.9 53.6h0.9M387.7 60.6h0.9M369.1 40.5h0.9M382.5 44.2h0.9M387.5 71.5h0.9M362.7 47.2h0.9M370.2 48.5h0.9M387.1 75.7h0.9M388.5 48.4h0.9M359.5 46.2h0.9M386.5 68.3h0.9M386.3 64.4h0.9M386.2 49.1h0.9M381.6 44.7h0.9M383.4 64.6h0.9M392.2 44.6h0.9M381.7 63.2h0.9M383.4 64.1h0.9M388.1 58.4h0.9M383.0 59.9h0.9M384.7 57.2h0.9M385.6 57.4h0.9M384.4 41.9h0.9M383.9 56.1h0.9M371.4 45.2h0.9M387.4 44.5h0.9M384.8 65.3h0.9M381.2 54.6h0.9M363.4 39.2h0.9M383.2 51.2h0.9M382.7 66.2h0.9M351.2 50.0h0.9M387.8 69.7h0.9M388.4 62.4h0.9M380.2 44.4h0.9M382.3 65.4h0.9M383.6 55.6h0.9M368.1 44.0h0.9M383.6 55.0h0.9M368.9 50.7h0.9M388.8 56.0h0.9M385.2 59.8h0.9M382.9 68.6h0.9M389.5 70.4h0.9M387.9 54.8h0.9M384.6 75.0h0.9M392.4 69.5h0.9M385.9 52.4h0.9M384.6 46.1h0.9M373.0 45.2h0.9M371.0 38.8h0.9M364.2 45.8h0.9M377.3 12.4h0.9M390.7 70.6h0.9M376.0 48.0h0.9M353.1 45.8h0.9M382.8 60.5h0.9M386.4 63.5h0.9M388.8 35.6h0.9M383.3 47.9h0.9M390.4 37.4h0.9M385.9 52.6h0.9M388.1 71.0h0.9M386.2 53.3h0.9M367.4 40.1h0.9M385.8 46.0h0.9M382.4 57.2h0.9M359.1 34.4h0.9M392.0 59.3h0.9M385.1 74.3h0.9M386.2 68.1h0.9M382.3 57.6h0.9M381.5 60.6h0.9M360.4 51.7h0.9M383.3 45.2h0.9M374.0 50.7h0.9M366.7 47.1h0.9M388.6 48.7h0.9M387.1 59.9h0.9" stroke="#000" stroke-width="0.9" stroke-opacity="0.17" fill="none"/>
</g>
<rect x="340.5" y="8.5" width="74" height="74" fill="none" stroke="#000" stroke-width="1.2"/>
<text x="328.15" y="19.8" font-size="6.90" font-weight="normal" fill="#222" >10</text>
<text x="334.5" y="17" font-size="4.69" fill="#222">5</text>
<text x="328.15" y="36.1" font-size="6.90" font-weight="normal" fill="#222" >10</text>
<text x="334.5" y="33.3" font-size="4.69" fill="#222">4</text>
<text x="328.15" y="52.6" font-size="6.90" font-weight="normal" fill="#222" >10</text>
<text x="334.5" y="49.8" font-size="4.69" fill="#222">3</text>
<text x="328.15" y="69.4" font-size="6.90" font-weight="normal" fill="#222" >10</text>
<text x="334.5" y="66.6" font-size="4.69" fill="#222">2</text>
<text x="334.01" y="78.4" font-size="6.90" font-weight="normal" fill="#222" >0</text>
<line x1="338.9" y1="16.2" x2="340.5" y2="16.2" stroke="#000" stroke-width="1.1" />
<line x1="338.9" y1="32.5" x2="340.5" y2="32.5" stroke="#000" stroke-width="1.1" />
<line x1="338.9" y1="48.8" x2="340.5" y2="48.8" stroke="#000" stroke-width="1.1" />
<line x1="338.9" y1="65.1" x2="340.5" y2="65.1" stroke="#000" stroke-width="1.1" />
<line x1="338.9" y1="74.5" x2="340.5" y2="74.5" stroke="#000" stroke-width="1.1" />
<line x1="338.9" y1="21.2" x2="340.5" y2="21.2" stroke="#000" stroke-width="1.1" />
<line x1="338.9" y1="37.7" x2="340.5" y2="37.7" stroke="#000" stroke-width="1.1" />
<line x1="338.9" y1="54" x2="340.5" y2="54" stroke="#000" stroke-width="1.1" />
<line x1="338.9" y1="70.3" x2="340.5" y2="70.3" stroke="#000" stroke-width="1.1" />
<text x="345.77" y="93" font-size="6.90" font-weight="normal" fill="#222" >0</text>
<text x="351.75" y="93" font-size="6.90" font-weight="normal" fill="#222" >10</text>
<text x="358.1" y="90.2" font-size="4.69" fill="#222">2</text>
<text x="369.75" y="93" font-size="6.90" font-weight="normal" fill="#222" >10</text>
<text x="376.1" y="90.2" font-size="4.69" fill="#222">3</text>
<text x="386.75" y="93" font-size="6.90" font-weight="normal" fill="#222" >10</text>
<text x="393.1" y="90.2" font-size="4.69" fill="#222">4</text>
<text x="403.75" y="93" font-size="6.90" font-weight="normal" fill="#222" >10</text>
<text x="410.1" y="90.2" font-size="4.69" fill="#222">5</text>
<line x1="347.7" y1="82.5" x2="347.7" y2="84.1" stroke="#000" stroke-width="1.1" />
<line x1="355" y1="82.5" x2="355" y2="84.1" stroke="#000" stroke-width="1.1" />
<line x1="373" y1="82.5" x2="373" y2="84.1" stroke="#000" stroke-width="1.1" />
<line x1="390" y1="82.5" x2="390" y2="84.1" stroke="#000" stroke-width="1.1" />
<line x1="407" y1="82.5" x2="407" y2="84.1" stroke="#000" stroke-width="1.1" />
<line x1="343" y1="82.5" x2="343" y2="84.1" stroke="#000" stroke-width="1.1" />
<line x1="351" y1="82.5" x2="351" y2="84.1" stroke="#000" stroke-width="1.1" />
<line x1="362" y1="82.5" x2="362" y2="84.1" stroke="#000" stroke-width="1.1" />
<line x1="380" y1="82.5" x2="380" y2="84.1" stroke="#000" stroke-width="1.1" />
<line x1="397" y1="82.5" x2="397" y2="84.1" stroke="#000" stroke-width="1.1" />
<line x1="412" y1="82.5" x2="412" y2="84.1" stroke="#000" stroke-width="1.1" />
<rect x="347.9" y="27.6" width="43.5" height="24.4" fill="none" stroke="#000" stroke-width="2.3"/>
<g>
<path d="M385.6 135.2h0.9M383.6 129.7h0.9M357.6 161.1h0.9M352.6 165.1h0.9M353.1 167.7h0.9M377.9 166.4h0.9M392.0 127.5h0.9M363.2 162.2h0.9M348.9 163.3h0.9M386.8 123.4h0.9M385.2 132.3h0.9M350.5 163.8h0.9M387.2 130.5h0.9M387.8 133.6h0.9M383.8 131.2h0.9M371.6 165.4h0.9M376.5 160.7h0.9M381.5 134.2h0.9M358.1 161.7h0.9M389.2 129.3h0.9M370.0 166.3h0.9M378.6 161.8h0.9M354.5 162.6h0.9M352.8 165.3h0.9M355.7 166.5h0.9M355.6 167.4h0.9M382.3 162.6h0.9M361.8 166.5h0.9M356.4 164.5h0.9M384.4 138.2h0.9M385.5 131.3h0.9M350.7 162.8h0.9M387.5 127.9h0.9M358.8 163.5h0.9M387.6 136.0h0.9M358.6 162.5h0.9M356.8 168.6h0.9M387.6 134.1h0.9M346.7 169.0h0.9M344.4 163.0h0.9M375.3 162.9h0.9M386.9 125.5h0.9M349.9 165.9h0.9M378.0 162.6h0.9M363.1 157.6h0.9M372.3 169.3h0.9M361.8 164.1h0.9M360.3 160.8h0.9M367.8 160.4h0.9M390.8 130.2h0.9M352.9 168.6h0.9M359.2 159.8h0.9M389.6 136.2h0.9M353.9 159.7h0.9M368.4 160.1h0.9M362.4 157.2h0.9M359.1 164.9h0.9M366.4 163.0h0.9M387.3 139.4h0.9M358.3 162.6h0.9M360.6 167.4h0.9M345.2 158.1h0.9M361.4 165.8h0.9M374.5 166.9h0.9M384.7 130.6h0.9M385.4 130.8h0.9M376.2 155.9h0.9M366.7 160.2h0.9M385.8 130.7h0.9M361.9 163.8h0.9M342.8 165.9h0.9M385.3 130.6h0.9M381.4 158.7h0.9M359.2 161.3h0.9M356.7 171.8h0.9M365.9 164.5h0.9M386.4 130.6h0.9M379.2 132.9h0.9M384.6 130.4h0.9M345.9 166.9h0.9M363.8 164.4h0.9M384.3 130.4h0.9M356.6 160.1h0.9M384.8 129.6h0.9M387.2 124.5h0.9M368.0 162.9h0.9M383.4 158.5h0.9M355.7 166.5h0.9M381.9 131.7h0.9M375.9 162.1h0.9M386.2 127.0h0.9M386.6 124.6h0.9M384.0 134.0h0.9M375.3 165.9h0.9M369.3 161.3h0.9M370.0 161.6h0.9M371.6 157.3h0.9M360.0 164.7h0.9M368.8 166.3h0.9M375.0 156.5h0.9M375.2 163.1h0.9M356.9 165.3h0.9M350.8 165.4h0.9M372.6 159.1h0.9M358.6 167.0h0.9M364.6 165.8h0.9M350.6 165.8h0.9M365.0 162.6h0.9M355.9 160.8h0.9M370.1 161.9h0.9M369.4 159.5h0.9M364.3 158.2h0.9M363.1 159.9h0.9M385.8 130.1h0.9M349.8 166.3h0.9M359.5 161.1h0.9M361.4 164.1h0.9M350.3 162.8h0.9M384.4 134.2h0.9M366.9 160.5h0.9M350.0 167.3h0.9M381.3 131.8h0.9M364.5 164.4h0.9M360.1 169.7h0.9M361.7 164.5h0.9M375.4 164.6h0.9M389.6 125.9h0.9M380.6 137.7h0.9M389.2 128.0h0.9M356.9 161.8h0.9M382.7 122.2h0.9M348.6 158.4h0.9M348.8 159.8h0.9M386.7 131.2h0.9M367.5 161.6h0.9M386.0 128.5h0.9M374.1 159.1h0.9M369.3 164.6h0.9M355.6 170.3h0.9M380.9 127.3h0.9M354.7 162.8h0.9M357.5 167.3h0.9M386.6 130.3h0.9" stroke="#000" stroke-width="0.9" stroke-opacity="0.3" fill="none"/>
<path d="M375.3 163.1h0.9M380.1 131.5h0.9M362.4 164.8h0.9M369.3 161.0h0.9M366.1 157.5h0.9M354.4 159.1h0.9M369.8 152.7h0.9M371.6 166.7h0.9M386.3 127.2h0.9M362.9 163.2h0.9M355.8 164.1h0.9M369.1 168.8h0.9M386.3 132.7h0.9M385.9 130.5h0.9M387.8 131.0h0.9M360.9 157.5h0.9M383.8 130.4h0.9M378.5 161.6h0.9M374.3 161.1h0.9M351.9 160.6h0.9M385.1 128.4h0.9M369.2 164.3h0.9M373.4 162.3h0.9M356.1 161.7h0.9M383.6 128.6h0.9M352.4 164.9h0.9M371.3 162.7h0.9M360.7 163.9h0.9M371.7 160.5h0.9M361.9 159.9h0.9M342.5 165.4h0.9M361.4 162.9h0.9M371.6 159.3h0.9M350.7 165.0h0.9M355.9 163.4h0.9M353.3 172.1h0.9M350.9 163.1h0.9M358.2 163.2h0.9M381.1 164.2h0.9M368.4 169.4h0.9M380.6 135.9h0.9M386.1 138.5h0.9M359.5 158.5h0.9M355.2 164.5h0.9M387.4 129.0h0.9M356.9 166.2h0.9M378.3 126.0h0.9M365.1 157.5h0.9M355.5 162.8h0.9M373.6 161.7h0.9M374.0 169.0h0.9M353.8 160.1h0.9M385.3 129.5h0.9M364.7 161.0h0.9M359.4 160.5h0.9M374.1 165.9h0.9M361.0 170.1h0.9M365.8 158.3h0.9M371.8 156.7h0.9M366.3 159.8h0.9M354.0 159.4h0.9M356.6 161.7h0.9M359.6 165.2h0.9M369.5 157.7h0.9M387.3 133.6h0.9M369.3 160.3h0.9M353.9 162.7h0.9M373.7 162.9h0.9M354.7 161.7h0.9M369.2 166.4h0.9M383.6 132.1h0.9M354.1 160.6h0.9M385.1 133.1h0.9M351.6 167.0h0.9M364.1 164.0h0.9M390.1 130.5h0.9M373.1 168.8h0.9M374.5 160.5h0.9M372.7 163.1h0.9M386.5 129.4h0.9M352.7 167.1h0.9M364.7 162.0h0.9M358.8 164.2h0.9M369.9 162.3h0.9M374.0 160.3h0.9M368.3 166.1h0.9M350.0 167.7h0.9M365.5 155.0h0.9M347.9 163.3h0.9M388.9 132.1h0.9M361.4 161.2h0.9M353.5 165.2h0.9M371.9 160.2h0.9M357.7 164.5h0.9M370.8 163.4h0.9M367.5 159.0h0.9M358.1 163.9h0.9M373.3 165.1h0.9M355.2 166.8h0.9M366.0 162.5h0.9M362.1 166.9h0.9M387.2 123.2h0.9M389.1 131.4h0.9M365.9 166.9h0.9M363.5 159.2h0.9M370.4 161.0h0.9M357.4 160.3h0.9M363.8 166.6h0.9M380.6 129.7h0.9M367.7 161.3h0.9M388.1 129.2h0.9M362.9 168.3h0.9M360.6 163.0h0.9M363.8 168.2h0.9M355.9 162.7h0.9M377.7 164.5h0.9M349.6 156.9h0.9M362.8 161.8h0.9M360.9 162.7h0.9M380.6 158.9h0.9M357.4 164.4h0.9M356.9 163.0h0.9M372.3 168.2h0.9M370.3 162.2h0.9M377.7 128.5h0.9M364.9 163.0h0.9M369.3 159.1h0.9M367.7 161.2h0.9M370.9 157.8h0.9M381.9 127.3h0.9M382.2 130.4h0.9M381.9 126.7h0.9M387.3 123.9h0.9M356.5 169.6h0.9M383.7 125.6h0.9M363.0 157.6h0.9M351.7 164.4h0.9M384.2 130.2h0.9M367.0 159.6h0.9M362.2 166.7h0.9M382.0 126.2h0.9M364.9 167.2h0.9M360.1 167.1h0.9" stroke="#000" stroke-width="0.9" stroke-opacity="0.3" fill="none"/>
<path d="M384.9 129.6h0.9M357.7 163.3h0.9M349.6 163.5h0.9M352.3 163.2h0.9M382.7 129.3h0.9M354.8 164.2h0.9M348.8 171.4h0.9M362.1 167.0h0.9M361.3 166.0h0.9M358.6 168.1h0.9M342.9 167.3h0.9M357.4 164.8h0.9M385.6 128.0h0.9M383.4 129.6h0.9M386.3 132.8h0.9M370.0 163.7h0.9M385.2 125.3h0.9M386.5 130.2h0.9M359.4 159.3h0.9M367.9 165.7h0.9M354.2 164.4h0.9M360.2 160.4h0.9M359.4 161.8h0.9M371.1 159.1h0.9M359.2 168.5h0.9M385.6 131.1h0.9M355.8 164.3h0.9M350.2 161.7h0.9M384.9 121.4h0.9M386.2 132.9h0.9M370.0 158.0h0.9M387.8 127.4h0.9M359.5 169.9h0.9M351.7 164.5h0.9M385.0 128.2h0.9M345.7 164.0h0.9M381.0 133.0h0.9M385.3 126.0h0.9M369.8 166.1h0.9M383.6 130.4h0.9M386.1 126.6h0.9M382.0 126.5h0.9M376.0 161.4h0.9M381.9 127.0h0.9M353.3 170.9h0.9M356.5 164.6h0.9M386.3 130.9h0.9M384.1 136.9h0.9M363.6 165.1h0.9M381.4 159.3h0.9M388.3 126.5h0.9M352.9 159.9h0.9M370.6 164.0h0.9M357.6 163.6h0.9M367.1 169.7h0.9M362.0 162.2h0.9M359.8 167.0h0.9M367.4 158.8h0.9M385.4 131.3h0.9M355.4 167.5h0.9M368.2 163.0h0.9M383.1 128.7h0.9M353.8 163.9h0.9M384.6 133.8h0.9M357.4 164.6h0.9M367.6 157.6h0.9M377.1 161.1h0.9M352.7 166.6h0.9M361.7 163.8h0.9M366.2 162.6h0.9M386.4 130.5h0.9M369.5 167.9h0.9M366.7 163.3h0.9M383.9 161.5h0.9M373.4 159.5h0.9M356.4 163.4h0.9M342.1 161.1h0.9M363.3 161.5h0.9M374.7 160.4h0.9M370.8 160.9h0.9M372.1 165.5h0.9M384.3 133.8h0.9M370.4 156.6h0.9M391.2 135.4h0.9M384.9 127.4h0.9M380.6 165.1h0.9M389.7 128.4h0.9M346.1 163.1h0.9M361.8 163.8h0.9M378.0 161.9h0.9M368.9 159.5h0.9M383.6 128.0h0.9M386.9 120.5h0.9M365.6 162.6h0.9M367.0 161.2h0.9M355.7 164.9h0.9M352.1 168.4h0.9M384.7 130.5h0.9M377.2 163.7h0.9M387.0 132.3h0.9M356.1 160.2h0.9M351.7 164.9h0.9M364.0 163.7h0.9M357.2 167.4h0.9M361.6 166.7h0.9M374.3 157.2h0.9M364.6 164.3h0.9M383.8 163.5h0.9M372.2 166.2h0.9M342.1 167.8h0.9M387.0 126.9h0.9M359.7 160.5h0.9M366.6 163.6h0.9M366.0 168.8h0.9M379.2 128.3h0.9M360.0 161.1h0.9M376.7 168.1h0.9M358.0 165.7h0.9M355.7 162.1h0.9M385.5 134.1h0.9M385.3 125.4h0.9M386.3 134.0h0.9M387.4 130.4h0.9M382.0 130.0h0.9M360.6 169.9h0.9M363.7 160.1h0.9M358.7 163.7h0.9M346.9 170.3h0.9M349.8 165.6h0.9M365.5 167.3h0.9M353.6 155.1h0.9M358.6 164.3h0.9M384.3 134.4h0.9M382.6 133.5h0.9M369.8 163.5h0.9M385.5 131.3h0.9M363.7 167.0h0.9M385.5 130.8h0.9M359.3 164.3h0.9M354.6 168.6h0.9M362.0 164.5h0.9M383.0 129.3h0.9M365.6 159.1h0.9" stroke="#000" stroke-width="0.9" stroke-opacity="0.3" fill="none"/>
<path d="M360.1 164.5h0.9M348.5 163.2h0.9M359.1 167.4h0.9M354.6 167.6h0.9M365.5 164.5h0.9M369.1 165.7h0.9M364.6 161.4h0.9M357.2 161.8h0.9M383.9 132.8h0.9M361.6 161.8h0.9M386.4 127.4h0.9M382.5 129.9h0.9M384.1 126.9h0.9M384.7 131.6h0.9M350.0 158.9h0.9M342.2 165.2h0.9M366.6 160.5h0.9M348.9 160.9h0.9M386.7 127.4h0.9M386.2 126.5h0.9M382.9 132.5h0.9M387.1 128.8h0.9M382.8 129.8h0.9M347.1 167.5h0.9M387.6 127.7h0.9M360.3 157.3h0.9M384.1 131.9h0.9M364.5 160.3h0.9M387.6 127.8h0.9M385.3 130.7h0.9M367.7 164.1h0.9M383.0 128.5h0.9M360.1 162.1h0.9M346.9 162.1h0.9M356.2 157.9h0.9M349.1 167.5h0.9M379.3 164.9h0.9M357.7 167.0h0.9M363.8 166.1h0.9M359.6 163.2h0.9M372.9 164.4h0.9M384.1 126.9h0.9M389.3 127.8h0.9M362.5 162.2h0.9M350.3 166.5h0.9M356.5 166.5h0.9M358.3 165.0h0.9M360.1 164.5h0.9M384.8 134.1h0.9M354.6 165.1h0.9M354.8 164.1h0.9M358.2 170.0h0.9M384.8 134.2h0.9M383.8 129.5h0.9M346.9 163.6h0.9M385.1 125.0h0.9M353.5 164.7h0.9M381.6 139.0h0.9M357.5 161.8h0.9M349.5 164.9h0.9M372.8 155.5h0.9M356.2 166.8h0.9M370.8 161.5h0.9M356.6 165.5h0.9M364.4 158.6h0.9M370.9 157.0h0.9M381.9 131.4h0.9M362.0 167.9h0.9M356.6 168.8h0.9M366.5 162.1h0.9M386.7 132.9h0.9M366.6 159.5h0.9M380.2 136.3h0.9M360.6 157.1h0.9M365.1 158.2h0.9M372.6 158.2h0.9M357.3 160.0h0.9M383.5 132.4h0.9M360.6 163.7h0.9M386.2 128.5h0.9M386.3 134.5h0.9M385.7 133.6h0.9M386.9 129.4h0.9M370.2 159.8h0.9M344.6 162.5h0.9M365.7 163.0h0.9M382.2 130.5h0.9M355.7 165.2h0.9M388.6 124.6h0.9M344.3 166.8h0.9M351.3 166.4h0.9M363.4 162.4h0.9M358.6 167.0h0.9M357.0 166.3h0.9M384.6 127.7h0.9M345.8 163.6h0.9M357.0 159.0h0.9M363.7 158.5h0.9M386.7 127.5h0.9M374.1 162.6h0.9M384.4 130.6h0.9M375.6 160.8h0.9M370.5 161.5h0.9M370.1 160.9h0.9M367.9 164.9h0.9M350.0 163.9h0.9M373.3 162.6h0.9M378.3 130.6h0.9M358.2 168.8h0.9M365.3 164.7h0.9M390.1 122.4h0.9M387.9 133.4h0.9M385.3 130.2h0.9M361.3 170.6h0.9M368.5 165.3h0.9M362.8 162.7h0.9M366.1 161.7h0.9M363.5 164.2h0.9M351.4 160.0h0.9M369.5 157.5h0.9M388.8 136.4h0.9M376.5 156.5h0.9M362.6 158.2h0.9M373.3 161.3h0.9M352.3 164.3h0.9M387.2 129.9h0.9M387.8 135.1h0.9M390.3 131.9h0.9M357.6 159.9h0.9M382.0 128.4h0.9M357.0 157.2h0.9M376.0 163.9h0.9M363.5 156.5h0.9M354.2 169.9h0.9M367.0 166.0h0.9M366.4 162.0h0.9M350.4 163.4h0.9M366.5 163.7h0.9M367.2 161.0h0.9M363.8 166.1h0.9M367.9 164.3h0.9M351.7 161.8h0.9" stroke="#000" stroke-width="0.9" stroke-opacity="0.3" fill="none"/>
<path d="M361.5 154.7h0.9M347.9 166.8h0.9M362.5 168.1h0.9M346.4 163.0h0.9M390.0 135.9h0.9M377.0 158.1h0.9M363.5 159.5h0.9M367.7 164.0h0.9M384.2 129.4h0.9M357.1 163.9h0.9M355.6 165.0h0.9M363.7 163.5h0.9M356.2 166.0h0.9M347.5 169.7h0.9M367.9 168.3h0.9M390.0 132.6h0.9M384.8 142.5h0.9M357.6 166.7h0.9M357.0 161.7h0.9M366.6 166.6h0.9M376.0 166.8h0.9M360.9 163.3h0.9M375.3 160.9h0.9M341.6 168.4h0.9M355.7 163.4h0.9M367.7 160.1h0.9M364.1 165.7h0.9M366.1 160.1h0.9M385.4 134.4h0.9M367.4 161.0h0.9M359.0 161.6h0.9M386.5 127.4h0.9M363.0 159.2h0.9M363.6 160.9h0.9M382.3 132.9h0.9M352.3 166.3h0.9M359.4 161.5h0.9M362.4 156.9h0.9M358.6 162.5h0.9M353.4 160.8h0.9M383.9 128.0h0.9M364.0 160.7h0.9M344.5 169.2h0.9M380.5 128.0h0.9M348.5 162.6h0.9M353.4 167.9h0.9M385.6 128.2h0.9M381.4 125.2h0.9M361.9 160.1h0.9M356.2 168.7h0.9M382.0 132.4h0.9M372.2 156.1h0.9M362.4 159.1h0.9M372.9 164.5h0.9M364.1 166.8h0.9M367.7 156.8h0.9M371.4 163.6h0.9M356.2 165.0h0.9M373.7 169.5h0.9M362.4 162.9h0.9M369.0 161.3h0.9M382.8 128.7h0.9M364.3 160.2h0.9M388.8 130.9h0.9M352.8 162.8h0.9M379.3 164.2h0.9M361.3 162.1h0.9M365.8 160.9h0.9M369.5 160.5h0.9M371.2 166.8h0.9M384.6 131.0h0.9M354.4 160.7h0.9M362.4 162.4h0.9M366.1 162.7h0.9M367.9 165.6h0.9M385.1 122.5h0.9M358.7 164.8h0.9M387.1 131.3h0.9M366.4 165.4h0.9M385.5 130.5h0.9M355.5 164.6h0.9M345.0 165.8h0.9M385.1 130.6h0.9M382.2 128.8h0.9M358.1 159.3h0.9M355.7 161.9h0.9M365.5 162.6h0.9M385.0 132.7h0.9M382.9 134.9h0.9M365.3 166.5h0.9M383.4 134.6h0.9M357.6 164.1h0.9M349.4 165.5h0.9M355.1 168.4h0.9M363.0 162.6h0.9M371.1 161.9h0.9M388.5 130.9h0.9M363.5 164.6h0.9M362.4 159.6h0.9M364.6 167.0h0.9M389.2 129.4h0.9M363.5 161.6h0.9M385.0 125.5h0.9M385.5 120.8h0.9M364.1 162.7h0.9M347.9 161.9h0.9M357.3 163.6h0.9M385.7 160.5h0.9M385.4 127.0h0.9M354.7 161.3h0.9M370.2 159.9h0.9M344.5 168.3h0.9M356.1 161.8h0.9M357.4 161.8h0.9M387.3 133.5h0.9M387.4 137.2h0.9M370.3 152.2h0.9M384.1 128.9h0.9M365.3 165.1h0.9M354.7 163.7h0.9M362.1 158.9h0.9M376.5 161.0h0.9M383.0 130.7h0.9M378.4 163.1h0.9M364.2 166.3h0.9M363.2 164.1h0.9M356.4 160.0h0.9M361.1 161.2h0.9M365.7 162.8h0.9M349.0 168.1h0.9M353.3 164.5h0.9M370.3 167.0h0.9M353.7 166.1h0.9M383.3 124.5h0.9M367.2 159.4h0.9M366.8 164.7h0.9M386.8 130.0h0.9M384.3 130.0h0.9M349.2 166.4h0.9M386.6 133.1h0.9M347.8 164.5h0.9M366.6 165.5h0.9" stroke="#000" stroke-width="0.9" stroke-opacity="0.3" fill="none"/>
</g>
<g>
<path d="M352.6 155.8h0.9M382.9 125.9h0.9M379.0 163.8h0.9M374.2 158.7h0.9M364.3 158.2h0.9M382.1 129.8h0.9M347.8 167.8h0.9M368.6 148.8h0.9M385.1 127.1h0.9M375.7 137.7h0.9M390.3 125.0h0.9M365.4 163.8h0.9M379.6 161.3h0.9M384.2 162.5h0.9M352.3 162.6h0.9M385.4 124.9h0.9M358.8 150.6h0.9M379.3 157.0h0.9M392.6 158.6h0.9M358.2 166.6h0.9M378.0 153.5h0.9M360.8 160.5h0.9M370.0 163.3h0.9M364.8 144.0h0.9M374.1 154.8h0.9M385.9 120.5h0.9M362.0 156.8h0.9M365.3 166.1h0.9M362.0 162.9h0.9M377.4 153.7h0.9M363.5 167.3h0.9M369.6 159.1h0.9M390.2 132.3h0.9M383.7 155.0h0.9M379.4 162.3h0.9M380.9 164.2h0.9M371.7 155.3h0.9M381.0 134.8h0.9M361.6 162.9h0.9M358.2 167.8h0.9M364.8 160.7h0.9M361.2 161.2h0.9M379.8 132.3h0.9M353.7 165.8h0.9M346.9 166.9h0.9M363.0 156.8h0.9M363.0 165.9h0.9M402.7 161.9h0.9M370.4 166.2h0.9M380.1 160.7h0.9M369.7 164.5h0.9M357.1 154.8h0.9M381.2 149.2h0.9M380.1 160.1h0.9M383.5 158.4h0.9M356.6 167.0h0.9M377.8 160.8h0.9M369.7 160.4h0.9M355.6 167.0h0.9M388.9 124.5h0.9M370.0 161.7h0.9M370.2 150.7h0.9M375.7 151.1h0.9M380.4 115.2h0.9M386.0 138.1h0.9M362.6 152.6h0.9M380.2 130.7h0.9M367.0 170.2h0.9M377.6 121.6h0.9M375.9 158.1h0.9M380.5 159.2h0.9M348.0 168.7h0.9M387.6 135.6h0.9M381.5 109.5h0.9M364.9 165.1h0.9M385.1 135.3h0.9M385.4 151.2h0.9M387.7 138.4h0.9M365.8 156.5h0.9M370.7 159.7h0.9M378.8 163.0h0.9M374.1 164.9h0.9M386.6 156.7h0.9M392.0 123.4h0.9M380.6 126.1h0.9M357.2 156.9h0.9M365.5 160.2h0.9M387.0 130.5h0.9M386.2 124.8h0.9M385.5 117.2h0.9M397.2 154.5h0.9M367.8 112.0h0.9M361.1 163.6h0.9M365.5 157.0h0.9M373.7 167.0h0.9M363.8 164.3h0.9M358.3 150.8h0.9M375.6 161.2h0.9M365.3 159.2h0.9M366.4 161.8h0.9M386.1 117.6h0.9M381.4 159.5h0.9M344.1 167.3h0.9M387.9 135.1h0.9M380.1 161.8h0.9M360.9 158.5h0.9M370.6 164.4h0.9M383.6 161.3h0.9M356.6 164.8h0.9M391.9 126.9h0.9M366.6 166.4h0.9M361.2 162.4h0.9M343.8 160.4h0.9M344.3 167.8h0.9M345.4 156.8h0.9M349.9 171.9h0.9M360.0 164.0h0.9M379.7 158.8h0.9M352.9 163.1h0.9M370.5 171.1h0.9M381.8 159.0h0.9M385.0 161.2h0.9M351.0 157.3h0.9M389.4 167.3h0.9M386.5 138.8h0.9M376.5 160.4h0.9M360.9 160.6h0.9M367.8 165.2h0.9M355.3 158.7h0.9M378.4 158.3h0.9M382.7 121.4h0.9M362.1 154.1h0.9M377.8 147.6h0.9M378.8 124.1h0.9M351.2 163.3h0.9M361.0 166.2h0.9M372.4 162.2h0.9M357.8 165.4h0.9M377.2 135.5h0.9M382.7 160.8h0.9M370.5 156.6h0.9M382.3 131.7h0.9M378.2 157.1h0.9M355.0 134.2h0.9M352.3 164.5h0.9M397.8 134.2h0.9M371.5 155.6h0.9M377.2 158.5h0.9M377.2 157.1h0.9M387.5 134.0h0.9M380.8 155.9h0.9M389.7 159.0h0.9M350.4 167.5h0.9M381.4 161.1h0.9M375.0 156.0h0.9M392.6 157.5h0.9M362.4 153.4h0.9M384.0 153.8h0.9M366.2 154.1h0.9M374.2 152.2h0.9M365.2 156.4h0.9M343.2 171.7h0.9M363.2 162.6h0.9M351.2 159.3h0.9M347.3 163.1h0.9M385.0 124.9h0.9M383.2 126.2h0.9M356.5 155.3h0.9M371.0 147.9h0.9M366.8 170.3h0.9M372.8 140.8h0.9M377.4 166.1h0.9M375.2 159.7h0.9M358.5 157.3h0.9M374.9 160.0h0.9M390.1 157.7h0.9M387.2 152.7h0.9M372.9 164.4h0.9M369.0 161.3h0.9M386.1 123.8h0.9M370.0 169.2h0.9M367.9 159.4h0.9M373.4 154.9h0.9M375.1 167.1h0.9M387.6 165.5h0.9M386.2 141.8h0.9M363.9 165.2h0.9M368.4 159.7h0.9M374.1 153.0h0.9M358.0 158.8h0.9M365.6 152.9h0.9M356.7 164.5h0.9M353.8 155.5h0.9M390.4 136.4h0.9M377.6 159.5h0.9M371.5 164.7h0.9M350.3 155.6h0.9M352.4 152.3h0.9M384.6 130.0h0.9M349.8 161.1h0.9M341.5 162.0h0.9M354.1 160.4h0.9M352.6 152.4h0.9M373.3 159.3h0.9M374.0 159.3h0.9M371.7 155.3h0.9M372.3 162.1h0.9M372.5 150.0h0.9M390.9 151.3h0.9M387.6 134.4h0.9M386.5 128.6h0.9M351.6 167.9h0.9M385.4 158.0h0.9M395.3 134.0h0.9M387.5 127.5h0.9M376.7 156.8h0.9M387.2 149.3h0.9M389.7 134.7h0.9M383.1 162.5h0.9M346.0 166.3h0.9M349.9 157.5h0.9M388.2 130.9h0.9M371.5 153.7h0.9M381.6 126.9h0.9" stroke="#000" stroke-width="0.9" stroke-opacity="0.17" fill="none"/>
<path d="M368.6 167.8h0.9M386.7 153.8h0.9M370.3 168.5h0.9M359.5 135.1h0.9M366.0 164.1h0.9M385.0 167.5h0.9M373.6 159.9h0.9M392.2 155.5h0.9M379.0 152.9h0.9M370.4 161.4h0.9M388.8 129.4h0.9M388.5 119.1h0.9M387.6 121.6h0.9M357.4 152.3h0.9M371.1 150.8h0.9M387.8 160.7h0.9M347.1 170.1h0.9M381.7 151.5h0.9M382.4 159.8h0.9M375.3 168.0h0.9M395.7 129.7h0.9M383.5 163.3h0.9M396.0 160.1h0.9M375.4 127.1h0.9M377.9 126.9h0.9M382.1 161.5h0.9M356.5 161.5h0.9M382.4 124.0h0.9M358.3 156.6h0.9M383.6 161.1h0.9M351.3 163.0h0.9M367.6 151.6h0.9M384.2 130.3h0.9M378.4 169.2h0.9M374.4 159.1h0.9M385.1 165.5h0.9M373.0 152.1h0.9M369.1 156.0h0.9M385.3 133.4h0.9M390.6 127.3h0.9M377.5 157.7h0.9M354.1 173.6h0.9M371.7 160.8h0.9M352.1 169.7h0.9M387.6 134.4h0.9M356.7 170.7h0.9M389.8 163.1h0.9M376.1 158.5h0.9M388.1 162.6h0.9M375.0 154.2h0.9M343.0 171.6h0.9M385.3 130.1h0.9M381.3 162.2h0.9M381.3 157.3h0.9M358.2 168.9h0.9M369.9 164.6h0.9M380.4 154.2h0.9M386.0 162.5h0.9M358.7 162.1h0.9M352.2 162.8h0.9M396.6 137.6h0.9M391.5 140.1h0.9M382.1 130.7h0.9M357.8 163.6h0.9M376.0 160.2h0.9M391.0 129.1h0.9M392.5 155.8h0.9M360.4 163.2h0.9M390.5 127.5h0.9M365.7 163.1h0.9M397.7 129.1h0.9M383.1 152.1h0.9M379.8 139.1h0.9M381.9 116.8h0.9M367.0 164.1h0.9M372.8 170.1h0.9M373.5 161.1h0.9M375.6 163.2h0.9M364.6 161.3h0.9M389.6 133.2h0.9M381.7 125.0h0.9M360.1 172.0h0.9M364.9 151.3h0.9M371.3 157.9h0.9M386.4 162.5h0.9M355.9 159.2h0.9M378.8 160.4h0.9M371.3 125.2h0.9M357.8 158.1h0.9M362.8 165.6h0.9M358.8 169.2h0.9M348.3 151.4h0.9M358.4 161.9h0.9M383.9 127.9h0.9M352.5 158.5h0.9M368.4 157.4h0.9M374.7 168.7h0.9M349.9 157.3h0.9M356.3 162.5h0.9M366.9 148.6h0.9M352.8 160.6h0.9M355.1 161.1h0.9M389.6 152.1h0.9M392.4 140.3h0.9M377.1 161.7h0.9M372.4 156.0h0.9M365.5 158.7h0.9M364.1 169.8h0.9M363.9 165.4h0.9M368.8 150.1h0.9M363.7 151.8h0.9M383.4 158.1h0.9M371.7 156.8h0.9M368.4 162.3h0.9M396.1 165.1h0.9M373.9 155.8h0.9M390.1 153.6h0.9M370.4 156.5h0.9M378.5 165.3h0.9M356.7 157.7h0.9M374.8 156.1h0.9M383.5 129.4h0.9M369.8 157.7h0.9M386.5 134.9h0.9M397.2 116.6h0.9M362.1 167.5h0.9M370.8 158.8h0.9M371.5 162.0h0.9M380.7 153.2h0.9M378.1 136.1h0.9M385.4 151.0h0.9M388.4 168.5h0.9M408.9 133.7h0.9M373.5 153.2h0.9M379.7 125.4h0.9M356.7 151.4h0.9M383.6 132.0h0.9M387.7 162.4h0.9M373.2 164.9h0.9M347.8 167.7h0.9M374.0 169.9h0.9M380.1 149.0h0.9M350.4 171.8h0.9M373.7 162.3h0.9M391.8 136.5h0.9M363.1 160.4h0.9M379.7 159.2h0.9M369.3 170.0h0.9M369.4 163.9h0.9M383.6 164.9h0.9M352.6 164.3h0.9M349.9 158.5h0.9M368.3 152.4h0.9M371.2 152.3h0.9M386.2 127.5h0.9M381.3 128.3h0.9M345.9 170.1h0.9M355.4 152.2h0.9M366.2 158.7h0.9M383.1 145.4h0.9M384.3 134.0h0.9M367.9 160.4h0.9M378.4 152.5h0.9M346.1 162.4h0.9M368.2 162.3h0.9M354.6 163.2h0.9M361.9 157.0h0.9M363.7 160.8h0.9M391.3 134.7h0.9M359.1 155.3h0.9M360.2 168.9h0.9M373.0 154.2h0.9M381.7 156.1h0.9M387.1 126.1h0.9M385.7 132.5h0.9M357.8 157.0h0.9M398.5 149.1h0.9M364.7 163.4h0.9M383.6 125.8h0.9M390.1 124.7h0.9M370.4 163.5h0.9M356.0 157.2h0.9M349.1 157.2h0.9M376.4 153.7h0.9M378.3 153.1h0.9M380.1 154.8h0.9M379.1 158.7h0.9M368.8 172.1h0.9M378.2 166.8h0.9M354.1 167.1h0.9M369.7 168.2h0.9M369.2 157.0h0.9M351.4 147.1h0.9M389.7 153.4h0.9M390.7 124.9h0.9M362.8 153.3h0.9M363.2 162.1h0.9M390.7 127.5h0.9M380.2 153.7h0.9M351.2 151.3h0.9M384.4 138.9h0.9M356.4 155.6h0.9M364.0 161.4h0.9M378.9 160.4h0.9M356.1 163.7h0.9M367.5 160.2h0.9M378.9 156.0h0.9M383.3 122.9h0.9M369.1 164.1h0.9M384.2 155.6h0.9M361.9 163.3h0.9M382.2 134.5h0.9M365.4 164.4h0.9M389.0 131.1h0.9M341.6 171.0h0.9M378.1 151.8h0.9M379.0 160.9h0.9M367.8 150.6h0.9M379.9 156.8h0.9M376.6 150.7h0.9M360.5 162.5h0.9M388.6 130.2h0.9M386.3 159.2h0.9M341.7 166.5h0.9" stroke="#000" stroke-width="0.9" stroke-opacity="0.17" fill="none"/>
</g>
<rect x="340.5" y="102.5" width="74" height="73" fill="none" stroke="#000" stroke-width="1.2"/>
<text x="328.15" y="112.4" font-size="6.90" font-weight="normal" fill="#222" >10</text>
<text x="334.5" y="109.6" font-size="4.69" fill="#222">5</text>
<text x="328.15" y="128.7" font-size="6.90" font-weight="normal" fill="#222" >10</text>
<text x="334.5" y="125.9" font-size="4.69" fill="#222">4</text>
<text x="328.15" y="145.6" font-size="6.90" font-weight="normal" fill="#222" >10</text>
<text x="334.5" y="142.8" font-size="4.69" fill="#222">3</text>
<text x="328.15" y="163.5" font-size="6.90" font-weight="normal" fill="#222" >10</text>
<text x="334.5" y="160.7" font-size="4.69" fill="#222">2</text>
<text x="334.01" y="171.4" font-size="6.90" font-weight="normal" fill="#222" >0</text>
<line x1="338.9" y1="109.3" x2="340.5" y2="109.3" stroke="#000" stroke-width="1.1" />
<line x1="338.9" y1="125.3" x2="340.5" y2="125.3" stroke="#000" stroke-width="1.1" />
<line x1="338.9" y1="142.1" x2="340.5" y2="142.1" stroke="#000" stroke-width="1.1" />
<line x1="338.9" y1="160" x2="340.5" y2="160" stroke="#000" stroke-width="1.1" />
<line x1="338.9" y1="168.5" x2="340.5" y2="168.5" stroke="#000" stroke-width="1.1" />
<line x1="338.9" y1="114" x2="340.5" y2="114" stroke="#000" stroke-width="1.1" />
<line x1="338.9" y1="130.5" x2="340.5" y2="130.5" stroke="#000" stroke-width="1.1" />
<line x1="338.9" y1="147" x2="340.5" y2="147" stroke="#000" stroke-width="1.1" />
<line x1="338.9" y1="164.5" x2="340.5" y2="164.5" stroke="#000" stroke-width="1.1" />
<text x="345.77" y="187.3" font-size="6.90" font-weight="normal" fill="#222" >0</text>
<text x="351.75" y="187.3" font-size="6.90" font-weight="normal" fill="#222" >10</text>
<text x="358.1" y="184.5" font-size="4.69" fill="#222">2</text>
<text x="369.75" y="187.3" font-size="6.90" font-weight="normal" fill="#222" >10</text>
<text x="376.1" y="184.5" font-size="4.69" fill="#222">3</text>
<text x="386.75" y="187.3" font-size="6.90" font-weight="normal" fill="#222" >10</text>
<text x="393.1" y="184.5" font-size="4.69" fill="#222">4</text>
<text x="403.75" y="187.3" font-size="6.90" font-weight="normal" fill="#222" >10</text>
<text x="410.1" y="184.5" font-size="4.69" fill="#222">5</text>
<line x1="347.7" y1="175.5" x2="347.7" y2="177.1" stroke="#000" stroke-width="1.1" />
<line x1="355" y1="175.5" x2="355" y2="177.1" stroke="#000" stroke-width="1.1" />
<line x1="373" y1="175.5" x2="373" y2="177.1" stroke="#000" stroke-width="1.1" />
<line x1="390" y1="175.5" x2="390" y2="177.1" stroke="#000" stroke-width="1.1" />
<line x1="407" y1="175.5" x2="407" y2="177.1" stroke="#000" stroke-width="1.1" />
<line x1="343" y1="175.5" x2="343" y2="177.1" stroke="#000" stroke-width="1.1" />
<line x1="351" y1="175.5" x2="351" y2="177.1" stroke="#000" stroke-width="1.1" />
<line x1="362" y1="175.5" x2="362" y2="177.1" stroke="#000" stroke-width="1.1" />
<line x1="380" y1="175.5" x2="380" y2="177.1" stroke="#000" stroke-width="1.1" />
<line x1="397" y1="175.5" x2="397" y2="177.1" stroke="#000" stroke-width="1.1" />
<line x1="412" y1="175.5" x2="412" y2="177.1" stroke="#000" stroke-width="1.1" />
<rect x="373.2" y="113.2" width="35.5" height="32.2" fill="none" stroke="#000" stroke-width="2.3"/>
<line x1="54.3" y1="45.2" x2="54.3" y2="177.2" stroke="#000" stroke-width="1.7" />
<path d="M49.8 46.7 L54.3 36.2 L58.8 46.7 L54.3 45.8Z" fill="#000"/>
<line x1="184.6" y1="60.2" x2="184.6" y2="176.6" stroke="#000" stroke-width="1.7" />
<path d="M180.1 61.7 L184.6 51.2 L189.1 61.7 L184.6 60.8Z" fill="#000"/>
<line x1="320.4" y1="51.4" x2="320.4" y2="176.6" stroke="#000" stroke-width="1.7" />
<path d="M315.9 52.9 L320.4 42.4 L324.9 52.9 L320.4 52Z" fill="#000"/>
<line x1="148.3" y1="46.95" x2="168.1" y2="46.95" stroke="#000" stroke-width="2.9" stroke-linecap="round"/>
<path d="M166.3 43.95 L173.1 46.95 L166.3 49.95Z" fill="#000"/>
<line x1="287" y1="46.95" x2="306.2" y2="46.95" stroke="#000" stroke-width="2.9" stroke-linecap="round"/>
<path d="M304.4 43.95 L311.2 46.95 L304.4 49.95Z" fill="#000"/>
<line x1="148.3" y1="141.3" x2="168.4" y2="141.3" stroke="#000" stroke-width="2.9" stroke-linecap="round"/>
<path d="M166.6 138.3 L173.4 141.3 L166.6 144.3Z" fill="#000"/>
<line x1="287" y1="140.7" x2="306.5" y2="140.7" stroke="#000" stroke-width="2.9" stroke-linecap="round"/>
<path d="M304.7 137.7 L311.5 140.7 L304.7 143.7Z" fill="#000"/>
<text transform="translate(57.6 28.91) rotate(-90)" font-size="10.109" font-weight="normal" fill="#1a1a1a">SSC</text>
<text transform="translate(186.8 45.2) rotate(-90)" font-size="9.857" font-weight="normal" fill="#1a1a1a">Lineage</text>
<text transform="translate(323.7 33.08) rotate(-90)" font-size="9.595" font-weight="normal" fill="#1a1a1a">CD33</text>
<text x="93.21" y="199.9" font-size="9.585" font-weight="normal" fill="#1a1a1a" >FSC</text>
<text x="222.42" y="199.8" font-size="9.587" font-weight="normal" fill="#1a1a1a" >HLA-DR</text>
<text x="361.91" y="199.8" font-size="9.696" font-weight="normal" fill="#1a1a1a" >CD11b</text>
<line x1="75.3" y1="229.85" x2="75.3" y2="317.65" stroke="#000" stroke-width="2.1" />
<line x1="138.2" y1="229.85" x2="138.2" y2="317.65" stroke="#000" stroke-width="2.1" />
<line x1="202.4" y1="229.85" x2="202.4" y2="317.65" stroke="#000" stroke-width="2.1" />
<line x1="265.9" y1="229.85" x2="265.9" y2="317.65" stroke="#000" stroke-width="2.1" />
<line x1="328.8" y1="229.85" x2="328.8" y2="317.65" stroke="#000" stroke-width="2.1" />
<line x1="391.9" y1="229.85" x2="391.9" y2="317.65" stroke="#000" stroke-width="2.1" />
<line x1="74.25" y1="230.9" x2="392.95" y2="230.9" stroke="#000" stroke-width="2.1" />
<line x1="74.25" y1="257.3" x2="392.95" y2="257.3" stroke="#000" stroke-width="2.1" />
<line x1="74.25" y1="277" x2="392.95" y2="277" stroke="#000" stroke-width="2.1" />
<line x1="74.25" y1="297.4" x2="392.95" y2="297.4" stroke="#000" stroke-width="2.1" />
<line x1="74.25" y1="316.6" x2="392.95" y2="316.6" stroke="#000" stroke-width="2.1" />
<text x="77.45" y="241.3" font-size="9.85" font-weight="bold" fill="#111" style="stroke-width:0.08px">Independent</text>
<text x="88.04" y="252" font-size="9.85" font-weight="bold" fill="#111" style="stroke-width:0.08px">Variable</text>
<text x="144.04" y="241.3" font-size="9.85" font-weight="bold" fill="#111" style="stroke-width:0.08px">Dependent</text>
<text x="151.04" y="252" font-size="9.85" font-weight="bold" fill="#111" style="stroke-width:0.08px">Variable</text>
<text x="210.84" y="241.2" font-size="9.85" font-weight="bold" fill="#111" style="stroke-width:0.08px">Coefficient</text>
<text x="216.8" y="251.2" font-size="9.85" font-weight="bold" fill="#111" style="stroke-width:0.08px">(95% CI)</text>
<text x="281.02" y="241.2" font-size="9.85" font-weight="bold" fill="#111" style="stroke-width:0.08px">P-Value</text>
<text x="341.5" y="241.2" font-size="9.85" font-weight="bold" fill="#111" style="stroke-width:0.08px">Pearson</text>
<text x="334.8" y="251.6" font-size="9.85" font-weight="bold" fill="#111" style="stroke-width:0.08px">Correlation</text>
<text x="91.04" y="269.2" font-size="7.45" font-weight="normal" fill="#222" style="stroke-width:0.1px">% MDSC</text>
<text x="91.04" y="290.9" font-size="7.45" font-weight="normal" fill="#222" style="stroke-width:0.1px">% MDSC</text>
<text x="99.08" y="311.2" font-size="7.45" font-weight="normal" fill="#222" style="stroke-width:0.1px">CTC</text>
<text x="160.95" y="269.2" font-size="7.45" font-weight="normal" fill="#222" style="stroke-width:0.1px">CTC</text>
<text x="141.52" y="291.6" font-size="7.45" font-weight="normal" fill="#222" style="stroke-width:0.1px">Swenerton Score</text>
<text x="141.52" y="310.6" font-size="7.45" font-weight="normal" fill="#222" style="stroke-width:0.1px">Swenerton Score</text>
<text x="207.86" y="269.2" font-size="7.45" font-weight="normal" fill="#222" style="stroke-width:0.1px">0.29 (0.14, 0.43)</text>
<text x="206.13" y="291.4" font-size="7.45" font-weight="normal" fill="#222" style="stroke-width:0.1px">0.28 (-0.76, 0.64)</text>
<text x="206.13" y="311" font-size="7.45" font-weight="normal" fill="#222" style="stroke-width:0.1px">0.43 (-0.82, 0.91)</text>
<text x="286.64" y="269.1" font-size="7.45" font-weight="normal" fill="#222" style="stroke-width:0.1px">0.0001</text>
<text x="290.52" y="291.6" font-size="7.45" font-weight="normal" fill="#222" style="stroke-width:0.1px">0.12</text>
<text x="290.77" y="311.3" font-size="7.45" font-weight="normal" fill="#222" style="stroke-width:0.1px">0.92</text>
<text x="357.02" y="269.1" font-size="7.45" font-weight="normal" fill="#222" style="stroke-width:0.1px">0.62</text>
<text x="357.47" y="291.6" font-size="7.45" font-weight="normal" fill="#222" style="stroke-width:0.1px">0.31</text>
<text x="352.69" y="311.3" font-size="7.45" font-weight="normal" fill="#222" style="stroke-width:0.1px">0.0049</text>
<line x1="28.5" y1="364.3" x2="28.5" y2="521.6" stroke="#000" stroke-width="2.7" />
<line x1="27.2" y1="520.2" x2="201.8" y2="520.2" stroke="#000" stroke-width="2.8" />
<line x1="25.3" y1="368.2" x2="28.5" y2="368.2" stroke="#000" stroke-width="2.0" />
<text x="8.58" y="371.8" font-size="8.60" font-weight="normal" fill="#222" >100</text>
<line x1="25.3" y1="405.2" x2="28.5" y2="405.2" stroke="#000" stroke-width="2.0" />
<text x="13.4" y="408.8" font-size="8.60" font-weight="normal" fill="#222" >75</text>
<line x1="25.3" y1="442.2" x2="28.5" y2="442.2" stroke="#000" stroke-width="2.0" />
<text x="13.4" y="445.8" font-size="8.60" font-weight="normal" fill="#222" >50</text>
<line x1="25.3" y1="479.2" x2="28.5" y2="479.2" stroke="#000" stroke-width="2.0" />
<text x="13.4" y="482.8" font-size="8.60" font-weight="normal" fill="#222" >25</text>
<line x1="25.3" y1="516.2" x2="28.5" y2="516.2" stroke="#000" stroke-width="2.0" />
<text x="18.13" y="519.8" font-size="8.60" font-weight="normal" fill="#222" >0</text>
<line x1="31.3" y1="520.2" x2="31.3" y2="523.4" stroke="#000" stroke-width="2.0" />
<text x="28.89" y="532.3" font-size="8.60" font-weight="normal" fill="#222" >0</text>
<line x1="84.5" y1="520.2" x2="84.5" y2="523.4" stroke="#000" stroke-width="2.0" />
<text x="79.56" y="532.3" font-size="8.60" font-weight="normal" fill="#222" >10</text>
<line x1="138.3" y1="520.2" x2="138.3" y2="523.4" stroke="#000" stroke-width="2.0" />
<text x="133.48" y="532.3" font-size="8.60" font-weight="normal" fill="#222" >20</text>
<line x1="192" y1="520.2" x2="192" y2="523.4" stroke="#000" stroke-width="2.0" />
<text x="187.23" y="532.3" font-size="8.60" font-weight="normal" fill="#222" >30</text>
<text x="80.99" y="544.8" font-size="10.586" font-weight="normal" fill="#222" >Time (months)</text>
<text transform="translate(8.6 471.21) rotate(-90) scale(1.151 1)" font-size="10.600" font-weight="normal" fill="#222">Survival (%)</text>
<path d="M31.5 368.3L33.5 368.3L33.5 380.2L37.4 380.2L37.4 392.3L38.5 392.3L38.5 404.7L50.5 404.7L50.5 417L57.5 417L57.5 429.5L60.9 429.5L60.9 442.3L62.2 442.3L62.2 454.4L72.6 454.4L72.6 466.5L92.1 466.5L92.1 482.6L199.5 482.6" fill="none" stroke="#e4141e" stroke-width="2.8" stroke-linejoin="miter"/>
<line x1="90.1" y1="462.3" x2="90.1" y2="470.7" stroke="#e4141e" stroke-width="2.4" />
<line x1="162.5" y1="478.4" x2="162.5" y2="486.8" stroke="#e4141e" stroke-width="2.4" />
<path d="M31.5 368.3L51.5 368.3L51.5 379.2L55.3 379.2L55.3 390.7L78.2 390.7L78.2 402.8L94.7 402.8L94.7 417L120 417L120 433.3L134.5 433.3L134.5 454.5L160.5 454.5" fill="none" stroke="#1414e0" stroke-width="2.8" stroke-linejoin="miter"/>
<line x1="77.5" y1="386.5" x2="77.5" y2="394.9" stroke="#1414e0" stroke-width="2.4" />
<line x1="90.5" y1="398.6" x2="90.5" y2="407" stroke="#1414e0" stroke-width="2.4" />
<line x1="106.2" y1="412.8" x2="106.2" y2="421.2" stroke="#1414e0" stroke-width="2.4" />
<line x1="128" y1="429.1" x2="128" y2="437.5" stroke="#1414e0" stroke-width="2.4" />
<line x1="151.3" y1="450.3" x2="151.3" y2="458.7" stroke="#1414e0" stroke-width="2.4" />
<line x1="160.5" y1="450.3" x2="160.5" y2="458.7" stroke="#1414e0" stroke-width="2.4" />
<line x1="115.7" y1="367.6" x2="130.6" y2="367.6" stroke="#1414e0" stroke-width="2.6" />
<line x1="115.7" y1="380.6" x2="130.6" y2="380.6" stroke="#e4141e" stroke-width="2.6" />
<text x="133.32" y="370.5" font-size="8.440" font-weight="normal" fill="#222" style="stroke-width:0.12px">MDSC &#8804; median</text>
<text x="133.63" y="383.5" font-size="8.40" font-weight="normal" fill="#222" style="stroke-width:0.12px">MDSC &gt; median</text>
<line x1="316.7" y1="364.8" x2="316.7" y2="521.8" stroke="#000" stroke-width="2.7" />
<line x1="315.5" y1="520.4" x2="504.5" y2="520.4" stroke="#000" stroke-width="2.8" />
<line x1="313.5" y1="368.9" x2="316.7" y2="368.9" stroke="#000" stroke-width="2.0" />
<text x="297.28" y="372.5" font-size="8.60" font-weight="normal" fill="#222" >100</text>
<line x1="313.5" y1="405.8" x2="316.7" y2="405.8" stroke="#000" stroke-width="2.0" />
<text x="302.1" y="409.4" font-size="8.60" font-weight="normal" fill="#222" >75</text>
<line x1="313.5" y1="442.7" x2="316.7" y2="442.7" stroke="#000" stroke-width="2.0" />
<text x="302.1" y="446.3" font-size="8.60" font-weight="normal" fill="#222" >50</text>
<line x1="313.5" y1="479.6" x2="316.7" y2="479.6" stroke="#000" stroke-width="2.0" />
<text x="302.1" y="483.2" font-size="8.60" font-weight="normal" fill="#222" >25</text>
<line x1="313.5" y1="516.5" x2="316.7" y2="516.5" stroke="#000" stroke-width="2.0" />
<text x="306.83" y="520.1" font-size="8.60" font-weight="normal" fill="#222" >0</text>
<line x1="320.3" y1="520.4" x2="320.3" y2="523.6" stroke="#000" stroke-width="2.0" />
<text x="317.89" y="532.6" font-size="8.60" font-weight="normal" fill="#222" >0</text>
<line x1="378.2" y1="520.4" x2="378.2" y2="523.6" stroke="#000" stroke-width="2.0" />
<text x="373.25" y="532.6" font-size="8.60" font-weight="normal" fill="#222" >10</text>
<line x1="435.6" y1="520.4" x2="435.6" y2="523.6" stroke="#000" stroke-width="2.0" />
<text x="430.78" y="532.6" font-size="8.60" font-weight="normal" fill="#222" >20</text>
<line x1="493.3" y1="520.4" x2="493.3" y2="523.6" stroke="#000" stroke-width="2.0" />
<text x="488.53" y="532.6" font-size="8.60" font-weight="normal" fill="#222" >30</text>
<text x="376.59" y="546.2" font-size="10.459" font-weight="normal" fill="#222" >Time (months)</text>
<text transform="translate(297.5 472.43) rotate(-90) scale(1.179 1)" font-size="10.600" font-weight="normal" fill="#222">Survival (%)</text>
<path d="M321.3 371L322.3 371L322.3 382.5L325.8 382.5L325.8 393.8L327 393.8L327 416.3L340 416.3L340 449.5L350 449.5L350 460.8L354.5 460.8L354.5 472.5L363.3 472.5L363.3 483.8L365 483.8L365 494.5L501.3 494.5" fill="none" stroke="#e4141e" stroke-width="2.8" stroke-linejoin="miter"/>
<line x1="383.3" y1="490.3" x2="383.3" y2="498.7" stroke="#e4141e" stroke-width="2.4" />
<line x1="498.8" y1="490.3" x2="498.8" y2="498.7" stroke="#e4141e" stroke-width="2.4" />
<path d="M321.3 371L331.8 371L331.8 383.3L340.8 383.3L340.8 393.8L343.8 393.8L343.8 404.3L370.8 404.3L370.8 427L413.8 427L413.8 458L458 458" fill="none" stroke="#1414e0" stroke-width="2.8" stroke-linejoin="miter"/>
<line x1="356.5" y1="400.1" x2="356.5" y2="408.5" stroke="#1414e0" stroke-width="2.4" />
<line x1="358.5" y1="400.1" x2="358.5" y2="408.5" stroke="#1414e0" stroke-width="2.4" />
<line x1="360" y1="400.1" x2="360" y2="408.5" stroke="#1414e0" stroke-width="2.4" />
<line x1="368" y1="400.1" x2="368" y2="408.5" stroke="#1414e0" stroke-width="2.4" />
<line x1="390.8" y1="422.8" x2="390.8" y2="431.2" stroke="#1414e0" stroke-width="2.4" />
<line x1="458" y1="453.8" x2="458" y2="462.2" stroke="#1414e0" stroke-width="2.4" />
<line x1="422.5" y1="368.25" x2="437" y2="368.25" stroke="#1414e0" stroke-width="2.6" />
<line x1="422.5" y1="381.25" x2="437" y2="381.25" stroke="#e4141e" stroke-width="2.6" />
<text x="439.52" y="371.15" font-size="8.443" font-weight="normal" fill="#222" style="stroke-width:0.12px">MDSC &#8804; median</text>
<text x="439.93" y="384.15" font-size="8.40" font-weight="normal" fill="#222" style="stroke-width:0.12px">MDSC &gt; median</text>
<line x1="27.2" y1="576.3" x2="27.2" y2="732.7" stroke="#000" stroke-width="2.7" />
<line x1="26.5" y1="731.3" x2="248.8" y2="731.3" stroke="#000" stroke-width="2.8" />
<line x1="24" y1="579.5" x2="27.2" y2="579.5" stroke="#000" stroke-width="2.0" />
<text x="7.98" y="583.1" font-size="8.60" font-weight="normal" fill="#222" >100</text>
<line x1="24" y1="616.4" x2="27.2" y2="616.4" stroke="#000" stroke-width="2.0" />
<text x="12.8" y="620" font-size="8.60" font-weight="normal" fill="#222" >75</text>
<line x1="24" y1="653.3" x2="27.2" y2="653.3" stroke="#000" stroke-width="2.0" />
<text x="12.8" y="656.9" font-size="8.60" font-weight="normal" fill="#222" >50</text>
<line x1="24" y1="690.2" x2="27.2" y2="690.2" stroke="#000" stroke-width="2.0" />
<text x="12.8" y="693.8" font-size="8.60" font-weight="normal" fill="#222" >25</text>
<line x1="24" y1="727.1" x2="27.2" y2="727.1" stroke="#000" stroke-width="2.0" />
<text x="17.53" y="730.7" font-size="8.60" font-weight="normal" fill="#222" >0</text>
<line x1="29.5" y1="731.3" x2="29.5" y2="734.5" stroke="#000" stroke-width="2.0" />
<text x="27.09" y="743.8" font-size="8.60" font-weight="normal" fill="#222" >0</text>
<line x1="83.8" y1="731.3" x2="83.8" y2="734.5" stroke="#000" stroke-width="2.0" />
<text x="78.85" y="743.8" font-size="8.60" font-weight="normal" fill="#222" >10</text>
<line x1="138.8" y1="731.3" x2="138.8" y2="734.5" stroke="#000" stroke-width="2.0" />
<text x="133.98" y="743.8" font-size="8.60" font-weight="normal" fill="#222" >20</text>
<line x1="192" y1="731.3" x2="192" y2="734.5" stroke="#000" stroke-width="2.0" />
<text x="187.23" y="743.8" font-size="8.60" font-weight="normal" fill="#222" >30</text>
<line x1="245.5" y1="731.3" x2="245.5" y2="734.5" stroke="#000" stroke-width="2.0" />
<text x="240.81" y="743.8" font-size="8.60" font-weight="normal" fill="#222" >40</text>
<text x="103.39" y="756" font-size="10.459" font-weight="normal" fill="#222" >Time (months)</text>
<text transform="translate(7.7 680.81) rotate(-90) scale(1.151 1)" font-size="10.600" font-weight="normal" fill="#222">Survival (%)</text>
<path d="M28.5 578.6L64.4 578.6L64.4 593.7L105.3 593.7L105.3 614.8L222 614.8L222 667.5L224.5 667.5L224.5 673.8" fill="none" stroke="#1414e0" stroke-width="2.8" stroke-linejoin="miter"/>
<line x1="43.2" y1="574.4" x2="43.2" y2="582.8" stroke="#1414e0" stroke-width="2.4" />
<line x1="57.9" y1="574.4" x2="57.9" y2="582.8" stroke="#1414e0" stroke-width="2.4" />
<line x1="77.8" y1="590.3" x2="77.8" y2="598.7" stroke="#1414e0" stroke-width="2.4" />
<line x1="82.1" y1="590.3" x2="82.1" y2="598.7" stroke="#1414e0" stroke-width="2.4" />
<line x1="103.7" y1="589.5" x2="103.7" y2="597.9" stroke="#1414e0" stroke-width="2.4" />
<line x1="155.6" y1="610.6" x2="155.6" y2="619" stroke="#1414e0" stroke-width="2.4" />
<line x1="205" y1="610.6" x2="205" y2="619" stroke="#1414e0" stroke-width="2.4" />
<line x1="219.3" y1="610.6" x2="219.3" y2="619" stroke="#1414e0" stroke-width="2.4" />
<path d="M27.6 578.6L38 578.6L38 591.6L89.9 591.6L89.9 606.3L91.2 606.3L91.2 607L92.5 607L92.5 621.6L101.6 621.6L101.6 636.9L105 636.9L105 665.5L115.5 665.5L115.5 680.5L117 680.5L117 695L120 695L120 709.8L224.5 709.8L224.5 725.5" fill="none" stroke="#e4141e" stroke-width="2.8" stroke-linejoin="miter"/>
<line x1="71.4" y1="587.4" x2="71.4" y2="595.8" stroke="#e4141e" stroke-width="2.4" />
<line x1="85.9" y1="587.4" x2="85.9" y2="595.8" stroke="#e4141e" stroke-width="2.4" />
<line x1="170" y1="578.75" x2="184.5" y2="578.75" stroke="#1414e0" stroke-width="2.6" />
<line x1="170" y1="592" x2="184.5" y2="592" stroke="#e4141e" stroke-width="2.6" />
<text x="187.51" y="581.65" font-size="8.470" font-weight="normal" fill="#222" style="stroke-width:0.12px">MDSC &#8804; median</text>
<text x="187.43" y="594.9" font-size="8.41" font-weight="normal" fill="#222" style="stroke-width:0.12px">MDSC &gt; median</text>
<path d="M324.2 604.5L348.8 632.5L364 645L382 652L408 660" fill="none" stroke="#505050" stroke-width="0.65" stroke-linejoin="round" stroke-opacity="0.85"/>
<path d="M324.2 617.8L480 612.5" fill="none" stroke="#9a9a9a" stroke-width="0.65" stroke-linejoin="round" stroke-opacity="0.85"/>
<path d="M345 650L368.8 616.3L376 640L390 652" fill="none" stroke="#505050" stroke-width="0.65" stroke-linejoin="round" stroke-opacity="0.85"/>
<path d="M330.3 660.3L334.9 692.6L340.3 684.9" fill="none" stroke="#505050" stroke-width="0.65" stroke-linejoin="round" stroke-opacity="0.85"/>
<path d="M324.2 671.8L371.8 677.2" fill="none" stroke="#707070" stroke-width="0.65" stroke-linejoin="round" stroke-opacity="0.85"/>
<path d="M324.2 678L333.4 672.6" fill="none" stroke="#707070" stroke-width="0.65" stroke-linejoin="round" stroke-opacity="0.85"/>
<path d="M360 640L368.8 654.2L379.5 684.9L385.7 654L394.9 685L401.2 655.4L424.2 707.7" fill="none" stroke="#505050" stroke-width="0.65" stroke-linejoin="round" stroke-opacity="0.85"/>
<path d="M395 661.5L459.6 670.8" fill="none" stroke="#707070" stroke-width="0.65" stroke-linejoin="round" stroke-opacity="0.85"/>
<path d="M405 650L419.6 663L427.3 681.5L432.7 640L437.3 630" fill="none" stroke="#505050" stroke-width="0.65" stroke-linejoin="round" stroke-opacity="0.85"/>
<path d="M425 625L437.3 640L458.1 660.8" fill="none" stroke="#505050" stroke-width="0.65" stroke-linejoin="round" stroke-opacity="0.85"/>
<path d="M374 648L395 657.7L420.4 663.8" fill="none" stroke="#707070" stroke-width="0.65" stroke-linejoin="round" stroke-opacity="0.85"/>
<path d="M431.2 596.3L422.7 634L418 654L412 670" fill="none" stroke="#505050" stroke-width="0.65" stroke-linejoin="round" stroke-opacity="0.85"/>
<path d="M372 630L395 617L401.2 610.2L413.5 615.5L419.6 640.2L423.5 654L426 668" fill="none" stroke="#505050" stroke-width="0.65" stroke-linejoin="round" stroke-opacity="0.85"/>
<path d="M431.9 635.5L450.4 652.5" fill="none" stroke="#505050" stroke-width="0.65" stroke-linejoin="round" stroke-opacity="0.85"/>
<path d="M484 612.2L505.2 656.6" fill="none" stroke="#505050" stroke-width="0.65" stroke-linejoin="round" stroke-opacity="0.85"/>
<path d="M324.2 638.6L338 641L355 655L372 664" fill="none" stroke="#505050" stroke-width="0.65" stroke-linejoin="round" stroke-opacity="0.85"/>
<path d="M324.2 626L340 640L352 628L365 644" fill="none" stroke="#505050" stroke-width="0.65" stroke-linejoin="round" stroke-opacity="0.85"/>
<path d="M324.2 645L336 662L350 650L362 640L380 626L398 628" fill="none" stroke="#505050" stroke-width="0.65" stroke-linejoin="round" stroke-opacity="0.85"/>
<path d="M324.2 633L334 652L346 664L358 661" fill="none" stroke="#707070" stroke-width="0.65" stroke-linejoin="round" stroke-opacity="0.85"/>
<path d="M324.2 655L340 650L356 645L370 632" fill="none" stroke="#505050" stroke-width="0.65" stroke-linejoin="round" stroke-opacity="0.85"/>
<path d="M324.2 620L400 616L430 614" fill="none" stroke="#dd6a6a" stroke-width="0.65" stroke-linejoin="round" stroke-opacity="0.85"/>
<path d="M324.2 612L336 632L350 644L366 650" fill="none" stroke="#cc3838" stroke-width="0.65" stroke-linejoin="round" stroke-opacity="0.85"/>
<path d="M351 660L357.2 692.6L364.2 663.4L372 650" fill="none" stroke="#dd6a6a" stroke-width="0.65" stroke-linejoin="round" stroke-opacity="0.85"/>
<path d="M324.2 660L340 642L351 660" fill="none" stroke="#cc3838" stroke-width="0.65" stroke-linejoin="round" stroke-opacity="0.85"/>
<path d="M360 660L395 644.8L450.4 618.6" fill="none" stroke="#dd6a6a" stroke-width="0.65" stroke-linejoin="round" stroke-opacity="0.85"/>
<path d="M400 652L431.2 654L435.8 632.5L441.9 605.5L453.5 603.2" fill="none" stroke="#b05050" stroke-width="0.65" stroke-linejoin="round" stroke-opacity="0.85"/>
<path d="M324.2 630L345 625L362 636L380 628L400 620" fill="none" stroke="#cc3838" stroke-width="0.65" stroke-linejoin="round" stroke-opacity="0.85"/>
<path d="M324.2 650L336 640L350 633L368 640L385 646" fill="none" stroke="#dd6a6a" stroke-width="0.65" stroke-linejoin="round" stroke-opacity="0.85"/>
<path d="M324.2 668L332 658L346 652L360 660" fill="none" stroke="#cc3838" stroke-width="0.65" stroke-linejoin="round" stroke-opacity="0.85"/>
<path d="M324.2 640L342 655L356 666L366 672" fill="none" stroke="#dd6a6a" stroke-width="0.65" stroke-linejoin="round" stroke-opacity="0.85"/>
<path d="M324.2 676L338 668L352 658" fill="none" stroke="#dd6a6a" stroke-width="0.65" stroke-linejoin="round" stroke-opacity="0.85"/>
<path d="M324.2 622L340 618L362 628L378 620" fill="none" stroke="#cc3838" stroke-width="0.65" stroke-linejoin="round" stroke-opacity="0.85"/>
<path d="M330 650L345 672L355 660" fill="none" stroke="#dd6a6a" stroke-width="0.65" stroke-linejoin="round" stroke-opacity="0.85"/>
<path d="M410 640L425 628L440 622L455 610" fill="none" stroke="#dd6a6a" stroke-width="0.65" stroke-linejoin="round" stroke-opacity="0.85"/>
<path d="M324.2 610L333 615L342 606L352 612" fill="none" stroke="#dd6a6a" stroke-width="0.65" stroke-linejoin="round" stroke-opacity="0.85"/>
<line x1="324.1" y1="650.9" x2="481" y2="650.9" stroke="#000" stroke-width="3" />
<line x1="324.1" y1="650.5" x2="480.3" y2="611.2" stroke="#e41a1a" stroke-width="3.2" />
<text x="485.2" y="615.3" font-size="11.00" font-weight="bold" fill="#000" >*</text>
<rect x="316.9" y="593" width="198.4" height="119.6" fill="none" stroke="#000" stroke-width="2.8"/>
<line x1="313.9" y1="593" x2="316.9" y2="593" stroke="#000" stroke-width="2.0" />
<text x="291.36" y="596.3" font-size="9.10" font-weight="normal" fill="#222" >1000</text>
<line x1="313.9" y1="614.07" x2="316.9" y2="614.07" stroke="#000" stroke-width="2.0" />
<text x="296.37" y="617.37" font-size="9.10" font-weight="normal" fill="#222" >500</text>
<line x1="313.9" y1="641.93" x2="316.9" y2="641.93" stroke="#000" stroke-width="2.0" />
<text x="296.37" y="645.23" font-size="9.10" font-weight="normal" fill="#222" >200</text>
<line x1="313.9" y1="663" x2="316.9" y2="663" stroke="#000" stroke-width="2.0" />
<text x="296.37" y="666.3" font-size="9.10" font-weight="normal" fill="#222" >100</text>
<line x1="313.9" y1="684.07" x2="316.9" y2="684.07" stroke="#000" stroke-width="2.0" />
<text x="301.46" y="687.37" font-size="9.10" font-weight="normal" fill="#222" >50</text>
<line x1="313.9" y1="711.93" x2="316.9" y2="711.93" stroke="#000" stroke-width="2.0" />
<text x="301.46" y="715.23" font-size="9.10" font-weight="normal" fill="#222" >20</text>
<line x1="324.1" y1="712.6" x2="324.1" y2="715.8" stroke="#000" stroke-width="2.0" />
<text x="321.64" y="726" font-size="8.80" font-weight="normal" fill="#222" >0</text>
<line x1="377.85" y1="712.6" x2="377.85" y2="715.8" stroke="#000" stroke-width="2.0" />
<text x="375.43" y="726" font-size="8.80" font-weight="normal" fill="#222" >5</text>
<line x1="431.6" y1="712.6" x2="431.6" y2="715.8" stroke="#000" stroke-width="2.0" />
<text x="426.54" y="726" font-size="8.80" font-weight="normal" fill="#222" >10</text>
<line x1="485.35" y1="712.6" x2="485.35" y2="715.8" stroke="#000" stroke-width="2.0" />
<text x="480.29" y="726" font-size="8.80" font-weight="normal" fill="#222" >15</text>
<text x="380.78" y="735.4" font-size="10.775" font-weight="normal" fill="#222" >Time (months)</text>
<text transform="translate(292 647.4) rotate(-90)" font-size="10.4" text-anchor="middle" fill="#222">MDSC x 10<tspan font-size="6.5" dy="-3.8">6</tspan><tspan dy="3.8">/L</tspan></text>
<line x1="439.6" y1="695.8" x2="451.3" y2="695.8" stroke="#17343a" stroke-width="3.6" />
<line x1="439.6" y1="705.3" x2="451.3" y2="705.3" stroke="#e41a1a" stroke-width="3.6" />
<text x="452.31" y="699.2" font-size="8.638" font-weight="normal" fill="#111" >Responders</text>
<text x="452.31" y="708.4" font-size="8.652" font-weight="normal" fill="#111" >Non-responders</text>
</g>
</svg></body></html>
